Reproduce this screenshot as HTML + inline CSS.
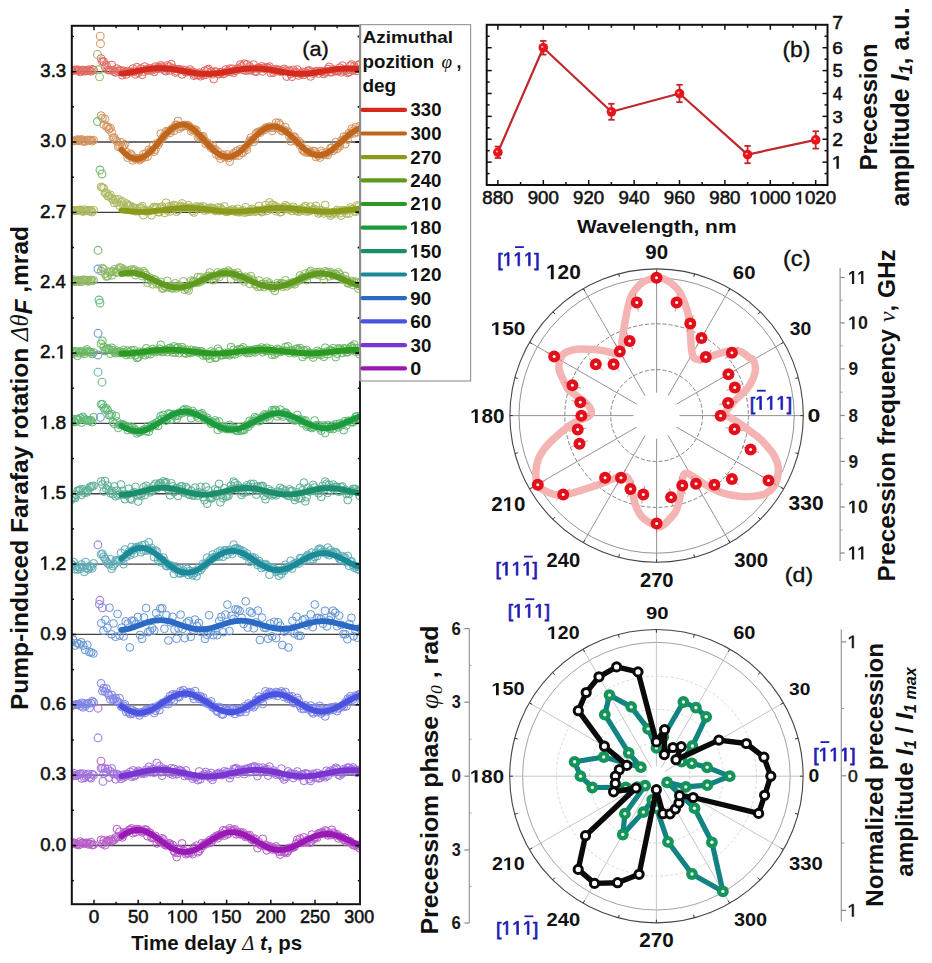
<!DOCTYPE html>
<html><head><meta charset="utf-8"><style>
html,body{margin:0;padding:0;background:#fff;}
svg{display:block;}
</style></head><body>
<svg width="932" height="963" viewBox="0 0 932 963">
<rect width="932" height="963" fill="#fff"/>
<clipPath id="clipA"><rect x="71.8" y="25.8" width="288.2" height="878.4000000000001"/></clipPath>
<g id="panelA">
<line x1="71.80" y1="845.50" x2="360.00" y2="845.50" stroke="#404040" stroke-width="1.3"/>
<line x1="71.80" y1="775.15" x2="360.00" y2="775.15" stroke="#404040" stroke-width="1.3"/>
<line x1="71.80" y1="704.80" x2="360.00" y2="704.80" stroke="#404040" stroke-width="1.3"/>
<line x1="71.80" y1="634.45" x2="360.00" y2="634.45" stroke="#404040" stroke-width="1.3"/>
<line x1="71.80" y1="564.10" x2="360.00" y2="564.10" stroke="#404040" stroke-width="1.3"/>
<line x1="71.80" y1="493.75" x2="360.00" y2="493.75" stroke="#404040" stroke-width="1.3"/>
<line x1="71.80" y1="423.40" x2="360.00" y2="423.40" stroke="#404040" stroke-width="1.3"/>
<line x1="71.80" y1="353.05" x2="360.00" y2="353.05" stroke="#404040" stroke-width="1.3"/>
<line x1="71.80" y1="282.70" x2="360.00" y2="282.70" stroke="#404040" stroke-width="1.3"/>
<line x1="71.80" y1="212.35" x2="360.00" y2="212.35" stroke="#404040" stroke-width="1.3"/>
<line x1="71.80" y1="142.00" x2="360.00" y2="142.00" stroke="#404040" stroke-width="1.3"/>
<line x1="71.80" y1="71.65" x2="360.00" y2="71.65" stroke="#404040" stroke-width="1.3"/>
<g clip-path="url(#clipA)">
<g fill="#e16a62" fill-opacity="0.07" stroke="#e16a62" stroke-width="1.0">
<circle cx="71.0" cy="70.7" r="3.9"/><circle cx="72.3" cy="70.9" r="3.9"/><circle cx="73.7" cy="70.4" r="3.9"/><circle cx="75.0" cy="69.8" r="3.9"/><circle cx="76.3" cy="70.2" r="3.9"/><circle cx="77.6" cy="69.7" r="3.9"/><circle cx="79.0" cy="70.7" r="3.9"/><circle cx="80.3" cy="72.0" r="3.9"/><circle cx="81.6" cy="70.2" r="3.9"/><circle cx="83.0" cy="70.0" r="3.9"/><circle cx="84.3" cy="71.1" r="3.9"/><circle cx="85.6" cy="71.0" r="3.9"/><circle cx="86.9" cy="70.8" r="3.9"/><circle cx="88.3" cy="69.7" r="3.9"/><circle cx="89.6" cy="70.6" r="3.9"/><circle cx="90.9" cy="71.3" r="3.9"/><circle cx="92.2" cy="69.3" r="3.9"/><circle cx="93.6" cy="70.2" r="3.9"/><circle cx="101.1" cy="58.5" r="3.9"/><circle cx="102.4" cy="61.6" r="3.9"/><circle cx="103.7" cy="61.6" r="3.9"/><circle cx="105.0" cy="66.7" r="3.9"/><circle cx="106.4" cy="65.2" r="3.9"/><circle cx="107.7" cy="69.8" r="3.9"/><circle cx="109.0" cy="70.2" r="3.9"/><circle cx="110.4" cy="70.1" r="3.9"/><circle cx="111.7" cy="65.0" r="3.9"/><circle cx="113.0" cy="70.2" r="3.9"/><circle cx="114.3" cy="71.7" r="3.9"/><circle cx="115.7" cy="72.4" r="3.9"/><circle cx="117.0" cy="68.6" r="3.9"/><circle cx="118.3" cy="71.3" r="3.9"/><circle cx="119.6" cy="70.2" r="3.9"/><circle cx="121.0" cy="70.7" r="3.9"/><circle cx="122.3" cy="75.2" r="3.9"/><circle cx="123.6" cy="70.7" r="3.9"/><circle cx="124.9" cy="72.4" r="3.9"/><circle cx="126.3" cy="74.5" r="3.9"/><circle cx="127.6" cy="70.9" r="3.9"/><circle cx="128.9" cy="71.9" r="3.9"/><circle cx="130.2" cy="72.2" r="3.9"/><circle cx="131.6" cy="71.9" r="3.9"/><circle cx="132.9" cy="68.6" r="3.9"/><circle cx="134.2" cy="71.5" r="3.9"/><circle cx="135.5" cy="74.4" r="3.9"/><circle cx="136.9" cy="67.2" r="3.9"/><circle cx="138.2" cy="72.7" r="3.9"/><circle cx="139.5" cy="70.7" r="3.9"/><circle cx="140.9" cy="68.6" r="3.9"/><circle cx="142.2" cy="74.7" r="3.9"/><circle cx="143.5" cy="71.5" r="3.9"/><circle cx="144.8" cy="66.6" r="3.9"/><circle cx="146.2" cy="69.4" r="3.9"/><circle cx="147.5" cy="70.5" r="3.9"/><circle cx="148.8" cy="68.4" r="3.9"/><circle cx="150.1" cy="70.4" r="3.9"/><circle cx="151.5" cy="68.4" r="3.9"/><circle cx="152.8" cy="70.0" r="3.9"/><circle cx="154.1" cy="71.8" r="3.9"/><circle cx="155.4" cy="66.6" r="3.9"/><circle cx="156.8" cy="68.7" r="3.9"/><circle cx="158.1" cy="67.0" r="3.9"/><circle cx="159.4" cy="68.4" r="3.9"/><circle cx="160.7" cy="65.3" r="3.9"/><circle cx="162.1" cy="66.7" r="3.9"/><circle cx="163.4" cy="67.7" r="3.9"/><circle cx="164.7" cy="70.4" r="3.9"/><circle cx="166.0" cy="71.1" r="3.9"/><circle cx="167.4" cy="65.3" r="3.9"/><circle cx="168.7" cy="66.7" r="3.9"/><circle cx="170.0" cy="70.3" r="3.9"/><circle cx="171.3" cy="64.1" r="3.9"/><circle cx="172.7" cy="68.0" r="3.9"/><circle cx="174.0" cy="69.0" r="3.9"/><circle cx="175.3" cy="72.5" r="3.9"/><circle cx="176.7" cy="71.4" r="3.9"/><circle cx="178.0" cy="69.2" r="3.9"/><circle cx="179.3" cy="69.3" r="3.9"/><circle cx="180.6" cy="69.9" r="3.9"/><circle cx="182.0" cy="74.4" r="3.9"/><circle cx="183.3" cy="69.9" r="3.9"/><circle cx="184.6" cy="70.5" r="3.9"/><circle cx="185.9" cy="72.3" r="3.9"/><circle cx="187.3" cy="71.4" r="3.9"/><circle cx="188.6" cy="71.5" r="3.9"/><circle cx="189.9" cy="69.5" r="3.9"/><circle cx="191.2" cy="72.4" r="3.9"/><circle cx="192.6" cy="71.6" r="3.9"/><circle cx="193.9" cy="75.7" r="3.9"/><circle cx="195.2" cy="74.6" r="3.9"/><circle cx="196.5" cy="73.2" r="3.9"/><circle cx="197.9" cy="75.0" r="3.9"/><circle cx="199.2" cy="72.7" r="3.9"/><circle cx="200.5" cy="76.2" r="3.9"/><circle cx="201.8" cy="73.7" r="3.9"/><circle cx="203.2" cy="75.2" r="3.9"/><circle cx="204.5" cy="70.8" r="3.9"/><circle cx="205.8" cy="74.7" r="3.9"/><circle cx="207.2" cy="69.9" r="3.9"/><circle cx="208.5" cy="69.0" r="3.9"/><circle cx="209.8" cy="73.1" r="3.9"/><circle cx="211.1" cy="71.6" r="3.9"/><circle cx="212.5" cy="74.1" r="3.9"/><circle cx="213.8" cy="79.0" r="3.9"/><circle cx="215.1" cy="71.5" r="3.9"/><circle cx="216.4" cy="71.9" r="3.9"/><circle cx="217.8" cy="73.7" r="3.9"/><circle cx="219.1" cy="74.2" r="3.9"/><circle cx="220.4" cy="72.4" r="3.9"/><circle cx="221.7" cy="72.1" r="3.9"/><circle cx="223.1" cy="74.1" r="3.9"/><circle cx="224.4" cy="73.4" r="3.9"/><circle cx="225.7" cy="69.5" r="3.9"/><circle cx="227.0" cy="71.5" r="3.9"/><circle cx="228.4" cy="71.6" r="3.9"/><circle cx="229.7" cy="68.7" r="3.9"/><circle cx="231.0" cy="71.6" r="3.9"/><circle cx="232.3" cy="68.7" r="3.9"/><circle cx="233.7" cy="72.8" r="3.9"/><circle cx="235.0" cy="70.7" r="3.9"/><circle cx="236.3" cy="70.2" r="3.9"/><circle cx="237.7" cy="68.3" r="3.9"/><circle cx="239.0" cy="69.3" r="3.9"/><circle cx="240.3" cy="64.6" r="3.9"/><circle cx="241.6" cy="66.4" r="3.9"/><circle cx="243.0" cy="69.9" r="3.9"/><circle cx="244.3" cy="63.7" r="3.9"/><circle cx="245.6" cy="70.7" r="3.9"/><circle cx="246.9" cy="64.4" r="3.9"/><circle cx="248.3" cy="70.3" r="3.9"/><circle cx="249.6" cy="66.4" r="3.9"/><circle cx="250.9" cy="70.2" r="3.9"/><circle cx="252.2" cy="68.6" r="3.9"/><circle cx="253.6" cy="64.6" r="3.9"/><circle cx="254.9" cy="71.3" r="3.9"/><circle cx="256.2" cy="71.8" r="3.9"/><circle cx="257.5" cy="68.2" r="3.9"/><circle cx="258.9" cy="67.8" r="3.9"/><circle cx="260.2" cy="68.1" r="3.9"/><circle cx="261.5" cy="66.3" r="3.9"/><circle cx="262.8" cy="71.4" r="3.9"/><circle cx="264.2" cy="67.6" r="3.9"/><circle cx="265.5" cy="68.9" r="3.9"/><circle cx="266.8" cy="67.3" r="3.9"/><circle cx="268.1" cy="67.9" r="3.9"/><circle cx="269.5" cy="66.6" r="3.9"/><circle cx="270.8" cy="72.9" r="3.9"/><circle cx="272.1" cy="69.7" r="3.9"/><circle cx="273.5" cy="72.6" r="3.9"/><circle cx="274.8" cy="70.6" r="3.9"/><circle cx="276.1" cy="69.1" r="3.9"/><circle cx="277.4" cy="70.3" r="3.9"/><circle cx="278.8" cy="69.9" r="3.9"/><circle cx="280.1" cy="71.6" r="3.9"/><circle cx="281.4" cy="70.9" r="3.9"/><circle cx="282.7" cy="71.3" r="3.9"/><circle cx="284.1" cy="68.9" r="3.9"/><circle cx="285.4" cy="70.5" r="3.9"/><circle cx="286.7" cy="76.6" r="3.9"/><circle cx="288.0" cy="71.2" r="3.9"/><circle cx="289.4" cy="70.5" r="3.9"/><circle cx="290.7" cy="74.0" r="3.9"/><circle cx="292.0" cy="76.7" r="3.9"/><circle cx="293.3" cy="69.9" r="3.9"/><circle cx="294.7" cy="73.0" r="3.9"/><circle cx="296.0" cy="72.1" r="3.9"/><circle cx="297.3" cy="69.5" r="3.9"/><circle cx="298.6" cy="75.5" r="3.9"/><circle cx="300.0" cy="73.7" r="3.9"/><circle cx="301.3" cy="73.9" r="3.9"/><circle cx="302.6" cy="71.9" r="3.9"/><circle cx="303.9" cy="74.8" r="3.9"/><circle cx="305.3" cy="72.3" r="3.9"/><circle cx="306.6" cy="73.2" r="3.9"/><circle cx="307.9" cy="70.8" r="3.9"/><circle cx="309.3" cy="70.4" r="3.9"/><circle cx="310.6" cy="76.4" r="3.9"/><circle cx="311.9" cy="71.8" r="3.9"/><circle cx="313.2" cy="73.6" r="3.9"/><circle cx="314.6" cy="72.6" r="3.9"/><circle cx="315.9" cy="71.4" r="3.9"/><circle cx="317.2" cy="71.1" r="3.9"/><circle cx="318.5" cy="73.6" r="3.9"/><circle cx="319.9" cy="71.1" r="3.9"/><circle cx="321.2" cy="71.2" r="3.9"/><circle cx="322.5" cy="71.4" r="3.9"/><circle cx="323.8" cy="74.0" r="3.9"/><circle cx="325.2" cy="72.5" r="3.9"/><circle cx="326.5" cy="71.6" r="3.9"/><circle cx="327.8" cy="69.1" r="3.9"/><circle cx="329.1" cy="66.9" r="3.9"/><circle cx="330.5" cy="72.3" r="3.9"/><circle cx="331.8" cy="72.1" r="3.9"/><circle cx="333.1" cy="69.2" r="3.9"/><circle cx="334.4" cy="70.7" r="3.9"/><circle cx="335.8" cy="71.1" r="3.9"/><circle cx="337.1" cy="71.0" r="3.9"/><circle cx="338.4" cy="71.1" r="3.9"/><circle cx="339.8" cy="67.7" r="3.9"/><circle cx="341.1" cy="72.3" r="3.9"/><circle cx="342.4" cy="65.6" r="3.9"/><circle cx="343.7" cy="70.6" r="3.9"/><circle cx="345.1" cy="69.6" r="3.9"/><circle cx="346.4" cy="70.5" r="3.9"/><circle cx="347.7" cy="72.9" r="3.9"/><circle cx="349.0" cy="72.0" r="3.9"/><circle cx="350.4" cy="65.7" r="3.9"/><circle cx="351.7" cy="64.5" r="3.9"/><circle cx="353.0" cy="70.5" r="3.9"/><circle cx="354.3" cy="66.2" r="3.9"/><circle cx="355.7" cy="68.8" r="3.9"/><circle cx="357.0" cy="70.9" r="3.9"/><circle cx="358.3" cy="65.1" r="3.9"/><circle cx="359.6" cy="64.2" r="3.9"/>
</g>
<g fill="#d39460" fill-opacity="0.07" stroke="#d39460" stroke-width="1.0">
<circle cx="71.0" cy="141.3" r="3.9"/><circle cx="72.3" cy="141.0" r="3.9"/><circle cx="73.7" cy="140.8" r="3.9"/><circle cx="75.0" cy="141.0" r="3.9"/><circle cx="76.3" cy="140.1" r="3.9"/><circle cx="77.6" cy="139.5" r="3.9"/><circle cx="79.0" cy="140.8" r="3.9"/><circle cx="80.3" cy="140.0" r="3.9"/><circle cx="81.6" cy="139.4" r="3.9"/><circle cx="83.0" cy="141.5" r="3.9"/><circle cx="84.3" cy="140.9" r="3.9"/><circle cx="85.6" cy="141.4" r="3.9"/><circle cx="86.9" cy="140.0" r="3.9"/><circle cx="88.3" cy="140.3" r="3.9"/><circle cx="89.6" cy="140.0" r="3.9"/><circle cx="90.9" cy="140.1" r="3.9"/><circle cx="92.2" cy="141.2" r="3.9"/><circle cx="93.6" cy="140.2" r="3.9"/><circle cx="101.1" cy="115.6" r="3.9"/><circle cx="102.4" cy="118.1" r="3.9"/><circle cx="103.7" cy="124.6" r="3.9"/><circle cx="105.0" cy="118.9" r="3.9"/><circle cx="106.4" cy="126.7" r="3.9"/><circle cx="107.7" cy="126.7" r="3.9"/><circle cx="109.0" cy="129.2" r="3.9"/><circle cx="110.4" cy="128.0" r="3.9"/><circle cx="111.7" cy="132.6" r="3.9"/><circle cx="113.0" cy="137.7" r="3.9"/><circle cx="114.3" cy="137.8" r="3.9"/><circle cx="115.7" cy="140.3" r="3.9"/><circle cx="117.0" cy="141.4" r="3.9"/><circle cx="118.3" cy="146.8" r="3.9"/><circle cx="119.6" cy="145.8" r="3.9"/><circle cx="121.0" cy="142.3" r="3.9"/><circle cx="122.3" cy="147.5" r="3.9"/><circle cx="123.6" cy="146.0" r="3.9"/><circle cx="124.9" cy="144.3" r="3.9"/><circle cx="126.3" cy="152.1" r="3.9"/><circle cx="127.6" cy="157.7" r="3.9"/><circle cx="128.9" cy="155.6" r="3.9"/><circle cx="130.2" cy="153.6" r="3.9"/><circle cx="131.6" cy="154.8" r="3.9"/><circle cx="132.9" cy="160.4" r="3.9"/><circle cx="134.2" cy="158.4" r="3.9"/><circle cx="135.5" cy="158.4" r="3.9"/><circle cx="136.9" cy="158.3" r="3.9"/><circle cx="138.2" cy="158.5" r="3.9"/><circle cx="139.5" cy="160.1" r="3.9"/><circle cx="140.9" cy="159.1" r="3.9"/><circle cx="142.2" cy="157.8" r="3.9"/><circle cx="143.5" cy="154.2" r="3.9"/><circle cx="144.8" cy="157.1" r="3.9"/><circle cx="146.2" cy="153.4" r="3.9"/><circle cx="147.5" cy="156.6" r="3.9"/><circle cx="148.8" cy="149.8" r="3.9"/><circle cx="150.1" cy="151.3" r="3.9"/><circle cx="151.5" cy="150.3" r="3.9"/><circle cx="152.8" cy="145.8" r="3.9"/><circle cx="154.1" cy="151.7" r="3.9"/><circle cx="155.4" cy="149.6" r="3.9"/><circle cx="156.8" cy="143.4" r="3.9"/><circle cx="158.1" cy="144.8" r="3.9"/><circle cx="159.4" cy="142.3" r="3.9"/><circle cx="160.7" cy="133.6" r="3.9"/><circle cx="162.1" cy="138.9" r="3.9"/><circle cx="163.4" cy="136.6" r="3.9"/><circle cx="164.7" cy="135.5" r="3.9"/><circle cx="166.0" cy="131.3" r="3.9"/><circle cx="167.4" cy="131.9" r="3.9"/><circle cx="168.7" cy="130.8" r="3.9"/><circle cx="170.0" cy="132.9" r="3.9"/><circle cx="171.3" cy="129.8" r="3.9"/><circle cx="172.7" cy="128.0" r="3.9"/><circle cx="174.0" cy="130.8" r="3.9"/><circle cx="175.3" cy="125.0" r="3.9"/><circle cx="176.7" cy="124.8" r="3.9"/><circle cx="178.0" cy="120.9" r="3.9"/><circle cx="179.3" cy="128.6" r="3.9"/><circle cx="180.6" cy="126.9" r="3.9"/><circle cx="182.0" cy="126.7" r="3.9"/><circle cx="183.3" cy="126.2" r="3.9"/><circle cx="184.6" cy="125.0" r="3.9"/><circle cx="185.9" cy="125.6" r="3.9"/><circle cx="187.3" cy="125.0" r="3.9"/><circle cx="188.6" cy="125.7" r="3.9"/><circle cx="189.9" cy="127.0" r="3.9"/><circle cx="191.2" cy="131.3" r="3.9"/><circle cx="192.6" cy="130.0" r="3.9"/><circle cx="193.9" cy="129.5" r="3.9"/><circle cx="195.2" cy="129.4" r="3.9"/><circle cx="196.5" cy="130.5" r="3.9"/><circle cx="197.9" cy="137.2" r="3.9"/><circle cx="199.2" cy="135.9" r="3.9"/><circle cx="200.5" cy="136.2" r="3.9"/><circle cx="201.8" cy="136.7" r="3.9"/><circle cx="203.2" cy="136.3" r="3.9"/><circle cx="204.5" cy="140.3" r="3.9"/><circle cx="205.8" cy="144.0" r="3.9"/><circle cx="207.2" cy="142.5" r="3.9"/><circle cx="208.5" cy="144.3" r="3.9"/><circle cx="209.8" cy="145.7" r="3.9"/><circle cx="211.1" cy="147.9" r="3.9"/><circle cx="212.5" cy="145.1" r="3.9"/><circle cx="213.8" cy="149.6" r="3.9"/><circle cx="215.1" cy="149.3" r="3.9"/><circle cx="216.4" cy="154.5" r="3.9"/><circle cx="217.8" cy="151.5" r="3.9"/><circle cx="219.1" cy="155.6" r="3.9"/><circle cx="220.4" cy="158.6" r="3.9"/><circle cx="221.7" cy="154.9" r="3.9"/><circle cx="223.1" cy="154.7" r="3.9"/><circle cx="224.4" cy="157.0" r="3.9"/><circle cx="225.7" cy="156.8" r="3.9"/><circle cx="227.0" cy="154.5" r="3.9"/><circle cx="228.4" cy="158.0" r="3.9"/><circle cx="229.7" cy="161.6" r="3.9"/><circle cx="231.0" cy="155.9" r="3.9"/><circle cx="232.3" cy="155.6" r="3.9"/><circle cx="233.7" cy="153.1" r="3.9"/><circle cx="235.0" cy="155.7" r="3.9"/><circle cx="236.3" cy="151.2" r="3.9"/><circle cx="237.7" cy="150.7" r="3.9"/><circle cx="239.0" cy="155.5" r="3.9"/><circle cx="240.3" cy="149.2" r="3.9"/><circle cx="241.6" cy="152.8" r="3.9"/><circle cx="243.0" cy="152.7" r="3.9"/><circle cx="244.3" cy="148.4" r="3.9"/><circle cx="245.6" cy="147.8" r="3.9"/><circle cx="246.9" cy="149.8" r="3.9"/><circle cx="248.3" cy="143.3" r="3.9"/><circle cx="249.6" cy="140.9" r="3.9"/><circle cx="250.9" cy="137.7" r="3.9"/><circle cx="252.2" cy="139.7" r="3.9"/><circle cx="253.6" cy="141.8" r="3.9"/><circle cx="254.9" cy="139.2" r="3.9"/><circle cx="256.2" cy="133.3" r="3.9"/><circle cx="257.5" cy="132.2" r="3.9"/><circle cx="258.9" cy="131.9" r="3.9"/><circle cx="260.2" cy="132.7" r="3.9"/><circle cx="261.5" cy="130.5" r="3.9"/><circle cx="262.8" cy="130.5" r="3.9"/><circle cx="264.2" cy="129.9" r="3.9"/><circle cx="265.5" cy="127.7" r="3.9"/><circle cx="266.8" cy="127.7" r="3.9"/><circle cx="268.1" cy="127.7" r="3.9"/><circle cx="269.5" cy="126.6" r="3.9"/><circle cx="270.8" cy="127.8" r="3.9"/><circle cx="272.1" cy="130.9" r="3.9"/><circle cx="273.5" cy="127.8" r="3.9"/><circle cx="274.8" cy="126.6" r="3.9"/><circle cx="276.1" cy="122.6" r="3.9"/><circle cx="277.4" cy="127.9" r="3.9"/><circle cx="278.8" cy="122.8" r="3.9"/><circle cx="280.1" cy="124.6" r="3.9"/><circle cx="281.4" cy="130.7" r="3.9"/><circle cx="282.7" cy="131.1" r="3.9"/><circle cx="284.1" cy="129.9" r="3.9"/><circle cx="285.4" cy="127.2" r="3.9"/><circle cx="286.7" cy="131.4" r="3.9"/><circle cx="288.0" cy="131.8" r="3.9"/><circle cx="289.4" cy="136.1" r="3.9"/><circle cx="290.7" cy="141.2" r="3.9"/><circle cx="292.0" cy="137.6" r="3.9"/><circle cx="293.3" cy="136.5" r="3.9"/><circle cx="294.7" cy="136.8" r="3.9"/><circle cx="296.0" cy="140.8" r="3.9"/><circle cx="297.3" cy="141.9" r="3.9"/><circle cx="298.6" cy="140.8" r="3.9"/><circle cx="300.0" cy="145.2" r="3.9"/><circle cx="301.3" cy="143.4" r="3.9"/><circle cx="302.6" cy="150.0" r="3.9"/><circle cx="303.9" cy="151.0" r="3.9"/><circle cx="305.3" cy="152.2" r="3.9"/><circle cx="306.6" cy="149.4" r="3.9"/><circle cx="307.9" cy="152.7" r="3.9"/><circle cx="309.3" cy="152.0" r="3.9"/><circle cx="310.6" cy="152.1" r="3.9"/><circle cx="311.9" cy="152.9" r="3.9"/><circle cx="313.2" cy="151.1" r="3.9"/><circle cx="314.6" cy="151.2" r="3.9"/><circle cx="315.9" cy="156.9" r="3.9"/><circle cx="317.2" cy="154.7" r="3.9"/><circle cx="318.5" cy="155.7" r="3.9"/><circle cx="319.9" cy="157.6" r="3.9"/><circle cx="321.2" cy="150.9" r="3.9"/><circle cx="322.5" cy="152.9" r="3.9"/><circle cx="323.8" cy="154.8" r="3.9"/><circle cx="325.2" cy="154.8" r="3.9"/><circle cx="326.5" cy="152.4" r="3.9"/><circle cx="327.8" cy="155.0" r="3.9"/><circle cx="329.1" cy="152.3" r="3.9"/><circle cx="330.5" cy="148.0" r="3.9"/><circle cx="331.8" cy="147.7" r="3.9"/><circle cx="333.1" cy="150.9" r="3.9"/><circle cx="334.4" cy="148.9" r="3.9"/><circle cx="335.8" cy="142.1" r="3.9"/><circle cx="337.1" cy="148.8" r="3.9"/><circle cx="338.4" cy="145.7" r="3.9"/><circle cx="339.8" cy="146.3" r="3.9"/><circle cx="341.1" cy="140.9" r="3.9"/><circle cx="342.4" cy="139.9" r="3.9"/><circle cx="343.7" cy="136.6" r="3.9"/><circle cx="345.1" cy="144.2" r="3.9"/><circle cx="346.4" cy="136.5" r="3.9"/><circle cx="347.7" cy="139.6" r="3.9"/><circle cx="349.0" cy="133.1" r="3.9"/><circle cx="350.4" cy="134.0" r="3.9"/><circle cx="351.7" cy="128.7" r="3.9"/><circle cx="353.0" cy="130.9" r="3.9"/><circle cx="354.3" cy="133.3" r="3.9"/><circle cx="355.7" cy="127.2" r="3.9"/><circle cx="357.0" cy="132.2" r="3.9"/><circle cx="358.3" cy="129.9" r="3.9"/><circle cx="359.6" cy="126.1" r="3.9"/>
</g>
<g fill="#aeb860" fill-opacity="0.07" stroke="#aeb860" stroke-width="1.0">
<circle cx="71.0" cy="210.4" r="3.9"/><circle cx="72.3" cy="210.5" r="3.9"/><circle cx="73.7" cy="210.8" r="3.9"/><circle cx="75.0" cy="210.4" r="3.9"/><circle cx="76.3" cy="210.2" r="3.9"/><circle cx="77.6" cy="210.6" r="3.9"/><circle cx="79.0" cy="210.0" r="3.9"/><circle cx="80.3" cy="209.8" r="3.9"/><circle cx="81.6" cy="210.8" r="3.9"/><circle cx="83.0" cy="211.6" r="3.9"/><circle cx="84.3" cy="209.6" r="3.9"/><circle cx="85.6" cy="210.9" r="3.9"/><circle cx="86.9" cy="210.3" r="3.9"/><circle cx="88.3" cy="210.1" r="3.9"/><circle cx="89.6" cy="211.5" r="3.9"/><circle cx="90.9" cy="210.4" r="3.9"/><circle cx="92.2" cy="212.0" r="3.9"/><circle cx="93.6" cy="210.2" r="3.9"/><circle cx="101.1" cy="186.9" r="3.9"/><circle cx="102.4" cy="187.5" r="3.9"/><circle cx="103.7" cy="188.1" r="3.9"/><circle cx="105.0" cy="193.1" r="3.9"/><circle cx="106.4" cy="192.9" r="3.9"/><circle cx="107.7" cy="196.2" r="3.9"/><circle cx="109.0" cy="196.0" r="3.9"/><circle cx="110.4" cy="194.8" r="3.9"/><circle cx="111.7" cy="198.4" r="3.9"/><circle cx="113.0" cy="199.8" r="3.9"/><circle cx="114.3" cy="203.0" r="3.9"/><circle cx="115.7" cy="199.5" r="3.9"/><circle cx="117.0" cy="202.5" r="3.9"/><circle cx="118.3" cy="199.2" r="3.9"/><circle cx="119.6" cy="205.7" r="3.9"/><circle cx="121.0" cy="202.2" r="3.9"/><circle cx="122.3" cy="201.2" r="3.9"/><circle cx="123.6" cy="206.0" r="3.9"/><circle cx="124.9" cy="209.3" r="3.9"/><circle cx="126.3" cy="203.5" r="3.9"/><circle cx="127.6" cy="205.1" r="3.9"/><circle cx="128.9" cy="206.3" r="3.9"/><circle cx="130.2" cy="205.8" r="3.9"/><circle cx="131.6" cy="209.8" r="3.9"/><circle cx="132.9" cy="207.3" r="3.9"/><circle cx="134.2" cy="207.8" r="3.9"/><circle cx="135.5" cy="211.2" r="3.9"/><circle cx="136.9" cy="208.2" r="3.9"/><circle cx="138.2" cy="211.2" r="3.9"/><circle cx="139.5" cy="208.0" r="3.9"/><circle cx="140.9" cy="207.6" r="3.9"/><circle cx="142.2" cy="206.2" r="3.9"/><circle cx="143.5" cy="215.2" r="3.9"/><circle cx="144.8" cy="210.0" r="3.9"/><circle cx="146.2" cy="211.4" r="3.9"/><circle cx="147.5" cy="210.7" r="3.9"/><circle cx="148.8" cy="211.2" r="3.9"/><circle cx="150.1" cy="210.9" r="3.9"/><circle cx="151.5" cy="215.3" r="3.9"/><circle cx="152.8" cy="208.2" r="3.9"/><circle cx="154.1" cy="206.9" r="3.9"/><circle cx="155.4" cy="208.1" r="3.9"/><circle cx="156.8" cy="207.2" r="3.9"/><circle cx="158.1" cy="212.1" r="3.9"/><circle cx="159.4" cy="212.1" r="3.9"/><circle cx="160.7" cy="207.7" r="3.9"/><circle cx="162.1" cy="206.5" r="3.9"/><circle cx="163.4" cy="208.9" r="3.9"/><circle cx="164.7" cy="212.9" r="3.9"/><circle cx="166.0" cy="202.7" r="3.9"/><circle cx="167.4" cy="210.5" r="3.9"/><circle cx="168.7" cy="206.5" r="3.9"/><circle cx="170.0" cy="211.5" r="3.9"/><circle cx="171.3" cy="206.2" r="3.9"/><circle cx="172.7" cy="208.0" r="3.9"/><circle cx="174.0" cy="204.9" r="3.9"/><circle cx="175.3" cy="206.1" r="3.9"/><circle cx="176.7" cy="211.7" r="3.9"/><circle cx="178.0" cy="210.2" r="3.9"/><circle cx="179.3" cy="207.2" r="3.9"/><circle cx="180.6" cy="206.0" r="3.9"/><circle cx="182.0" cy="203.4" r="3.9"/><circle cx="183.3" cy="207.0" r="3.9"/><circle cx="184.6" cy="207.8" r="3.9"/><circle cx="185.9" cy="207.7" r="3.9"/><circle cx="187.3" cy="207.7" r="3.9"/><circle cx="188.6" cy="205.2" r="3.9"/><circle cx="189.9" cy="207.7" r="3.9"/><circle cx="191.2" cy="207.9" r="3.9"/><circle cx="192.6" cy="211.1" r="3.9"/><circle cx="193.9" cy="212.5" r="3.9"/><circle cx="195.2" cy="207.8" r="3.9"/><circle cx="196.5" cy="206.4" r="3.9"/><circle cx="197.9" cy="208.2" r="3.9"/><circle cx="199.2" cy="207.0" r="3.9"/><circle cx="200.5" cy="206.8" r="3.9"/><circle cx="201.8" cy="208.6" r="3.9"/><circle cx="203.2" cy="206.4" r="3.9"/><circle cx="204.5" cy="210.5" r="3.9"/><circle cx="205.8" cy="208.9" r="3.9"/><circle cx="207.2" cy="210.0" r="3.9"/><circle cx="208.5" cy="209.1" r="3.9"/><circle cx="209.8" cy="208.0" r="3.9"/><circle cx="211.1" cy="207.6" r="3.9"/><circle cx="212.5" cy="209.5" r="3.9"/><circle cx="213.8" cy="208.9" r="3.9"/><circle cx="215.1" cy="210.9" r="3.9"/><circle cx="216.4" cy="210.5" r="3.9"/><circle cx="217.8" cy="207.4" r="3.9"/><circle cx="219.1" cy="211.0" r="3.9"/><circle cx="220.4" cy="207.8" r="3.9"/><circle cx="221.7" cy="209.6" r="3.9"/><circle cx="223.1" cy="210.5" r="3.9"/><circle cx="224.4" cy="206.4" r="3.9"/><circle cx="225.7" cy="211.7" r="3.9"/><circle cx="227.0" cy="211.9" r="3.9"/><circle cx="228.4" cy="211.2" r="3.9"/><circle cx="229.7" cy="210.6" r="3.9"/><circle cx="231.0" cy="210.8" r="3.9"/><circle cx="232.3" cy="209.4" r="3.9"/><circle cx="233.7" cy="211.1" r="3.9"/><circle cx="235.0" cy="210.4" r="3.9"/><circle cx="236.3" cy="211.9" r="3.9"/><circle cx="237.7" cy="208.8" r="3.9"/><circle cx="239.0" cy="212.2" r="3.9"/><circle cx="240.3" cy="211.9" r="3.9"/><circle cx="241.6" cy="211.1" r="3.9"/><circle cx="243.0" cy="210.3" r="3.9"/><circle cx="244.3" cy="212.6" r="3.9"/><circle cx="245.6" cy="207.2" r="3.9"/><circle cx="246.9" cy="212.2" r="3.9"/><circle cx="248.3" cy="211.5" r="3.9"/><circle cx="249.6" cy="211.5" r="3.9"/><circle cx="250.9" cy="211.6" r="3.9"/><circle cx="252.2" cy="208.9" r="3.9"/><circle cx="253.6" cy="209.7" r="3.9"/><circle cx="254.9" cy="211.7" r="3.9"/><circle cx="256.2" cy="211.0" r="3.9"/><circle cx="257.5" cy="210.3" r="3.9"/><circle cx="258.9" cy="206.0" r="3.9"/><circle cx="260.2" cy="210.8" r="3.9"/><circle cx="261.5" cy="212.1" r="3.9"/><circle cx="262.8" cy="211.6" r="3.9"/><circle cx="264.2" cy="209.6" r="3.9"/><circle cx="265.5" cy="205.1" r="3.9"/><circle cx="266.8" cy="211.0" r="3.9"/><circle cx="268.1" cy="208.3" r="3.9"/><circle cx="269.5" cy="202.4" r="3.9"/><circle cx="270.8" cy="209.3" r="3.9"/><circle cx="272.1" cy="204.7" r="3.9"/><circle cx="273.5" cy="205.1" r="3.9"/><circle cx="274.8" cy="206.6" r="3.9"/><circle cx="276.1" cy="211.2" r="3.9"/><circle cx="277.4" cy="207.2" r="3.9"/><circle cx="278.8" cy="208.7" r="3.9"/><circle cx="280.1" cy="212.2" r="3.9"/><circle cx="281.4" cy="211.9" r="3.9"/><circle cx="282.7" cy="207.8" r="3.9"/><circle cx="284.1" cy="207.5" r="3.9"/><circle cx="285.4" cy="205.1" r="3.9"/><circle cx="286.7" cy="206.5" r="3.9"/><circle cx="288.0" cy="209.3" r="3.9"/><circle cx="289.4" cy="209.3" r="3.9"/><circle cx="290.7" cy="208.7" r="3.9"/><circle cx="292.0" cy="210.9" r="3.9"/><circle cx="293.3" cy="206.8" r="3.9"/><circle cx="294.7" cy="208.7" r="3.9"/><circle cx="296.0" cy="210.7" r="3.9"/><circle cx="297.3" cy="210.5" r="3.9"/><circle cx="298.6" cy="211.8" r="3.9"/><circle cx="300.0" cy="210.3" r="3.9"/><circle cx="301.3" cy="208.8" r="3.9"/><circle cx="302.6" cy="210.6" r="3.9"/><circle cx="303.9" cy="207.5" r="3.9"/><circle cx="305.3" cy="206.1" r="3.9"/><circle cx="306.6" cy="211.6" r="3.9"/><circle cx="307.9" cy="210.2" r="3.9"/><circle cx="309.3" cy="211.2" r="3.9"/><circle cx="310.6" cy="206.6" r="3.9"/><circle cx="311.9" cy="209.9" r="3.9"/><circle cx="313.2" cy="209.5" r="3.9"/><circle cx="314.6" cy="209.0" r="3.9"/><circle cx="315.9" cy="205.8" r="3.9"/><circle cx="317.2" cy="210.5" r="3.9"/><circle cx="318.5" cy="213.5" r="3.9"/><circle cx="319.9" cy="212.4" r="3.9"/><circle cx="321.2" cy="210.1" r="3.9"/><circle cx="322.5" cy="211.5" r="3.9"/><circle cx="323.8" cy="213.4" r="3.9"/><circle cx="325.2" cy="205.0" r="3.9"/><circle cx="326.5" cy="211.3" r="3.9"/><circle cx="327.8" cy="212.9" r="3.9"/><circle cx="329.1" cy="213.2" r="3.9"/><circle cx="330.5" cy="215.7" r="3.9"/><circle cx="331.8" cy="214.3" r="3.9"/><circle cx="333.1" cy="212.2" r="3.9"/><circle cx="334.4" cy="212.1" r="3.9"/><circle cx="335.8" cy="213.2" r="3.9"/><circle cx="337.1" cy="209.9" r="3.9"/><circle cx="338.4" cy="211.0" r="3.9"/><circle cx="339.8" cy="213.2" r="3.9"/><circle cx="341.1" cy="215.6" r="3.9"/><circle cx="342.4" cy="210.3" r="3.9"/><circle cx="343.7" cy="210.5" r="3.9"/><circle cx="345.1" cy="210.9" r="3.9"/><circle cx="346.4" cy="213.5" r="3.9"/><circle cx="347.7" cy="210.1" r="3.9"/><circle cx="349.0" cy="213.5" r="3.9"/><circle cx="350.4" cy="207.5" r="3.9"/><circle cx="351.7" cy="209.2" r="3.9"/><circle cx="353.0" cy="209.0" r="3.9"/><circle cx="354.3" cy="211.2" r="3.9"/><circle cx="355.7" cy="211.7" r="3.9"/><circle cx="357.0" cy="205.4" r="3.9"/><circle cx="358.3" cy="206.7" r="3.9"/><circle cx="359.6" cy="209.6" r="3.9"/>
</g>
<g fill="#8eb862" fill-opacity="0.07" stroke="#8eb862" stroke-width="1.0">
<circle cx="71.0" cy="280.0" r="3.9"/><circle cx="72.3" cy="279.2" r="3.9"/><circle cx="73.7" cy="281.7" r="3.9"/><circle cx="75.0" cy="281.2" r="3.9"/><circle cx="76.3" cy="281.2" r="3.9"/><circle cx="77.6" cy="280.2" r="3.9"/><circle cx="79.0" cy="281.7" r="3.9"/><circle cx="80.3" cy="280.5" r="3.9"/><circle cx="81.6" cy="281.8" r="3.9"/><circle cx="83.0" cy="279.8" r="3.9"/><circle cx="84.3" cy="279.8" r="3.9"/><circle cx="85.6" cy="280.9" r="3.9"/><circle cx="86.9" cy="280.0" r="3.9"/><circle cx="88.3" cy="281.4" r="3.9"/><circle cx="89.6" cy="281.0" r="3.9"/><circle cx="90.9" cy="279.8" r="3.9"/><circle cx="92.2" cy="280.8" r="3.9"/><circle cx="93.6" cy="280.3" r="3.9"/><circle cx="101.1" cy="271.0" r="3.9"/><circle cx="102.4" cy="268.1" r="3.9"/><circle cx="103.7" cy="269.2" r="3.9"/><circle cx="105.0" cy="273.6" r="3.9"/><circle cx="106.4" cy="276.5" r="3.9"/><circle cx="107.7" cy="276.1" r="3.9"/><circle cx="109.0" cy="271.7" r="3.9"/><circle cx="110.4" cy="272.2" r="3.9"/><circle cx="111.7" cy="275.4" r="3.9"/><circle cx="113.0" cy="271.4" r="3.9"/><circle cx="114.3" cy="269.3" r="3.9"/><circle cx="115.7" cy="271.9" r="3.9"/><circle cx="117.0" cy="272.6" r="3.9"/><circle cx="118.3" cy="269.4" r="3.9"/><circle cx="119.6" cy="267.4" r="3.9"/><circle cx="121.0" cy="267.8" r="3.9"/><circle cx="122.3" cy="272.8" r="3.9"/><circle cx="123.6" cy="269.3" r="3.9"/><circle cx="124.9" cy="270.8" r="3.9"/><circle cx="126.3" cy="271.7" r="3.9"/><circle cx="127.6" cy="272.7" r="3.9"/><circle cx="128.9" cy="270.5" r="3.9"/><circle cx="130.2" cy="272.6" r="3.9"/><circle cx="131.6" cy="269.4" r="3.9"/><circle cx="132.9" cy="270.9" r="3.9"/><circle cx="134.2" cy="269.6" r="3.9"/><circle cx="135.5" cy="275.1" r="3.9"/><circle cx="136.9" cy="272.6" r="3.9"/><circle cx="138.2" cy="271.3" r="3.9"/><circle cx="139.5" cy="272.7" r="3.9"/><circle cx="140.9" cy="273.4" r="3.9"/><circle cx="142.2" cy="276.1" r="3.9"/><circle cx="143.5" cy="271.2" r="3.9"/><circle cx="144.8" cy="273.1" r="3.9"/><circle cx="146.2" cy="275.2" r="3.9"/><circle cx="147.5" cy="282.8" r="3.9"/><circle cx="148.8" cy="279.7" r="3.9"/><circle cx="150.1" cy="277.8" r="3.9"/><circle cx="151.5" cy="280.4" r="3.9"/><circle cx="152.8" cy="284.3" r="3.9"/><circle cx="154.1" cy="279.4" r="3.9"/><circle cx="155.4" cy="279.8" r="3.9"/><circle cx="156.8" cy="284.2" r="3.9"/><circle cx="158.1" cy="283.1" r="3.9"/><circle cx="159.4" cy="284.2" r="3.9"/><circle cx="160.7" cy="282.0" r="3.9"/><circle cx="162.1" cy="288.4" r="3.9"/><circle cx="163.4" cy="288.4" r="3.9"/><circle cx="164.7" cy="286.2" r="3.9"/><circle cx="166.0" cy="286.9" r="3.9"/><circle cx="167.4" cy="280.9" r="3.9"/><circle cx="168.7" cy="287.6" r="3.9"/><circle cx="170.0" cy="286.0" r="3.9"/><circle cx="171.3" cy="287.8" r="3.9"/><circle cx="172.7" cy="288.6" r="3.9"/><circle cx="174.0" cy="286.4" r="3.9"/><circle cx="175.3" cy="283.3" r="3.9"/><circle cx="176.7" cy="288.3" r="3.9"/><circle cx="178.0" cy="285.7" r="3.9"/><circle cx="179.3" cy="286.6" r="3.9"/><circle cx="180.6" cy="285.9" r="3.9"/><circle cx="182.0" cy="286.4" r="3.9"/><circle cx="183.3" cy="281.4" r="3.9"/><circle cx="184.6" cy="289.7" r="3.9"/><circle cx="185.9" cy="287.1" r="3.9"/><circle cx="187.3" cy="288.8" r="3.9"/><circle cx="188.6" cy="290.5" r="3.9"/><circle cx="189.9" cy="285.3" r="3.9"/><circle cx="191.2" cy="280.5" r="3.9"/><circle cx="192.6" cy="282.2" r="3.9"/><circle cx="193.9" cy="280.9" r="3.9"/><circle cx="195.2" cy="282.0" r="3.9"/><circle cx="196.5" cy="282.8" r="3.9"/><circle cx="197.9" cy="277.2" r="3.9"/><circle cx="199.2" cy="282.3" r="3.9"/><circle cx="200.5" cy="277.2" r="3.9"/><circle cx="201.8" cy="280.9" r="3.9"/><circle cx="203.2" cy="279.3" r="3.9"/><circle cx="204.5" cy="278.2" r="3.9"/><circle cx="205.8" cy="278.2" r="3.9"/><circle cx="207.2" cy="276.5" r="3.9"/><circle cx="208.5" cy="275.7" r="3.9"/><circle cx="209.8" cy="272.6" r="3.9"/><circle cx="211.1" cy="276.0" r="3.9"/><circle cx="212.5" cy="280.1" r="3.9"/><circle cx="213.8" cy="279.9" r="3.9"/><circle cx="215.1" cy="277.9" r="3.9"/><circle cx="216.4" cy="276.1" r="3.9"/><circle cx="217.8" cy="272.4" r="3.9"/><circle cx="219.1" cy="277.2" r="3.9"/><circle cx="220.4" cy="273.4" r="3.9"/><circle cx="221.7" cy="273.2" r="3.9"/><circle cx="223.1" cy="272.5" r="3.9"/><circle cx="224.4" cy="273.4" r="3.9"/><circle cx="225.7" cy="272.1" r="3.9"/><circle cx="227.0" cy="273.0" r="3.9"/><circle cx="228.4" cy="270.6" r="3.9"/><circle cx="229.7" cy="272.5" r="3.9"/><circle cx="231.0" cy="279.1" r="3.9"/><circle cx="232.3" cy="273.7" r="3.9"/><circle cx="233.7" cy="273.5" r="3.9"/><circle cx="235.0" cy="275.7" r="3.9"/><circle cx="236.3" cy="276.5" r="3.9"/><circle cx="237.7" cy="272.6" r="3.9"/><circle cx="239.0" cy="275.2" r="3.9"/><circle cx="240.3" cy="278.4" r="3.9"/><circle cx="241.6" cy="277.3" r="3.9"/><circle cx="243.0" cy="277.5" r="3.9"/><circle cx="244.3" cy="281.5" r="3.9"/><circle cx="245.6" cy="276.8" r="3.9"/><circle cx="246.9" cy="279.2" r="3.9"/><circle cx="248.3" cy="278.3" r="3.9"/><circle cx="249.6" cy="283.8" r="3.9"/><circle cx="250.9" cy="276.1" r="3.9"/><circle cx="252.2" cy="279.8" r="3.9"/><circle cx="253.6" cy="280.7" r="3.9"/><circle cx="254.9" cy="284.2" r="3.9"/><circle cx="256.2" cy="284.6" r="3.9"/><circle cx="257.5" cy="287.0" r="3.9"/><circle cx="258.9" cy="280.4" r="3.9"/><circle cx="260.2" cy="286.5" r="3.9"/><circle cx="261.5" cy="284.4" r="3.9"/><circle cx="262.8" cy="283.9" r="3.9"/><circle cx="264.2" cy="287.2" r="3.9"/><circle cx="265.5" cy="284.0" r="3.9"/><circle cx="266.8" cy="281.5" r="3.9"/><circle cx="268.1" cy="285.8" r="3.9"/><circle cx="269.5" cy="283.3" r="3.9"/><circle cx="270.8" cy="285.4" r="3.9"/><circle cx="272.1" cy="287.9" r="3.9"/><circle cx="273.5" cy="287.8" r="3.9"/><circle cx="274.8" cy="290.9" r="3.9"/><circle cx="276.1" cy="286.5" r="3.9"/><circle cx="277.4" cy="283.1" r="3.9"/><circle cx="278.8" cy="284.8" r="3.9"/><circle cx="280.1" cy="284.2" r="3.9"/><circle cx="281.4" cy="283.2" r="3.9"/><circle cx="282.7" cy="286.8" r="3.9"/><circle cx="284.1" cy="283.9" r="3.9"/><circle cx="285.4" cy="280.3" r="3.9"/><circle cx="286.7" cy="286.3" r="3.9"/><circle cx="288.0" cy="283.8" r="3.9"/><circle cx="289.4" cy="284.5" r="3.9"/><circle cx="290.7" cy="283.3" r="3.9"/><circle cx="292.0" cy="284.0" r="3.9"/><circle cx="293.3" cy="282.1" r="3.9"/><circle cx="294.7" cy="284.3" r="3.9"/><circle cx="296.0" cy="281.8" r="3.9"/><circle cx="297.3" cy="281.1" r="3.9"/><circle cx="298.6" cy="280.6" r="3.9"/><circle cx="300.0" cy="275.5" r="3.9"/><circle cx="301.3" cy="278.1" r="3.9"/><circle cx="302.6" cy="277.3" r="3.9"/><circle cx="303.9" cy="277.8" r="3.9"/><circle cx="305.3" cy="273.6" r="3.9"/><circle cx="306.6" cy="280.2" r="3.9"/><circle cx="307.9" cy="276.1" r="3.9"/><circle cx="309.3" cy="272.5" r="3.9"/><circle cx="310.6" cy="270.9" r="3.9"/><circle cx="311.9" cy="274.0" r="3.9"/><circle cx="313.2" cy="274.2" r="3.9"/><circle cx="314.6" cy="272.4" r="3.9"/><circle cx="315.9" cy="274.1" r="3.9"/><circle cx="317.2" cy="272.2" r="3.9"/><circle cx="318.5" cy="274.9" r="3.9"/><circle cx="319.9" cy="271.8" r="3.9"/><circle cx="321.2" cy="273.4" r="3.9"/><circle cx="322.5" cy="275.9" r="3.9"/><circle cx="323.8" cy="279.8" r="3.9"/><circle cx="325.2" cy="271.3" r="3.9"/><circle cx="326.5" cy="272.8" r="3.9"/><circle cx="327.8" cy="272.1" r="3.9"/><circle cx="329.1" cy="276.3" r="3.9"/><circle cx="330.5" cy="272.0" r="3.9"/><circle cx="331.8" cy="273.9" r="3.9"/><circle cx="333.1" cy="275.4" r="3.9"/><circle cx="334.4" cy="273.6" r="3.9"/><circle cx="335.8" cy="274.1" r="3.9"/><circle cx="337.1" cy="275.7" r="3.9"/><circle cx="338.4" cy="272.4" r="3.9"/><circle cx="339.8" cy="274.5" r="3.9"/><circle cx="341.1" cy="277.5" r="3.9"/><circle cx="342.4" cy="279.4" r="3.9"/><circle cx="343.7" cy="279.2" r="3.9"/><circle cx="345.1" cy="275.9" r="3.9"/><circle cx="346.4" cy="279.7" r="3.9"/><circle cx="347.7" cy="283.3" r="3.9"/><circle cx="349.0" cy="283.2" r="3.9"/><circle cx="350.4" cy="282.3" r="3.9"/><circle cx="351.7" cy="280.9" r="3.9"/><circle cx="353.0" cy="285.0" r="3.9"/><circle cx="354.3" cy="282.6" r="3.9"/><circle cx="355.7" cy="281.6" r="3.9"/><circle cx="357.0" cy="282.9" r="3.9"/><circle cx="358.3" cy="288.7" r="3.9"/><circle cx="359.6" cy="286.1" r="3.9"/>
</g>
<g fill="#6ab864" fill-opacity="0.07" stroke="#6ab864" stroke-width="1.0">
<circle cx="71.0" cy="353.8" r="3.9"/><circle cx="72.3" cy="351.3" r="3.9"/><circle cx="73.7" cy="353.5" r="3.9"/><circle cx="75.0" cy="351.1" r="3.9"/><circle cx="76.3" cy="351.8" r="3.9"/><circle cx="77.6" cy="355.8" r="3.9"/><circle cx="79.0" cy="353.2" r="3.9"/><circle cx="80.3" cy="351.3" r="3.9"/><circle cx="81.6" cy="351.9" r="3.9"/><circle cx="83.0" cy="352.5" r="3.9"/><circle cx="84.3" cy="353.9" r="3.9"/><circle cx="85.6" cy="351.3" r="3.9"/><circle cx="86.9" cy="349.4" r="3.9"/><circle cx="88.3" cy="351.6" r="3.9"/><circle cx="89.6" cy="352.1" r="3.9"/><circle cx="90.9" cy="352.2" r="3.9"/><circle cx="92.2" cy="354.0" r="3.9"/><circle cx="93.6" cy="352.5" r="3.9"/><circle cx="101.1" cy="343.8" r="3.9"/><circle cx="102.4" cy="340.8" r="3.9"/><circle cx="103.7" cy="346.9" r="3.9"/><circle cx="105.0" cy="351.0" r="3.9"/><circle cx="106.4" cy="348.9" r="3.9"/><circle cx="107.7" cy="348.6" r="3.9"/><circle cx="109.0" cy="349.1" r="3.9"/><circle cx="110.4" cy="353.7" r="3.9"/><circle cx="111.7" cy="347.8" r="3.9"/><circle cx="113.0" cy="350.3" r="3.9"/><circle cx="114.3" cy="352.2" r="3.9"/><circle cx="115.7" cy="353.2" r="3.9"/><circle cx="117.0" cy="350.7" r="3.9"/><circle cx="118.3" cy="352.8" r="3.9"/><circle cx="119.6" cy="351.6" r="3.9"/><circle cx="121.0" cy="352.8" r="3.9"/><circle cx="122.3" cy="352.3" r="3.9"/><circle cx="123.6" cy="350.0" r="3.9"/><circle cx="124.9" cy="352.8" r="3.9"/><circle cx="126.3" cy="355.0" r="3.9"/><circle cx="127.6" cy="350.6" r="3.9"/><circle cx="128.9" cy="352.3" r="3.9"/><circle cx="130.2" cy="354.5" r="3.9"/><circle cx="131.6" cy="350.3" r="3.9"/><circle cx="132.9" cy="353.2" r="3.9"/><circle cx="134.2" cy="350.2" r="3.9"/><circle cx="135.5" cy="355.3" r="3.9"/><circle cx="136.9" cy="358.0" r="3.9"/><circle cx="138.2" cy="357.2" r="3.9"/><circle cx="139.5" cy="351.7" r="3.9"/><circle cx="140.9" cy="353.8" r="3.9"/><circle cx="142.2" cy="352.2" r="3.9"/><circle cx="143.5" cy="352.0" r="3.9"/><circle cx="144.8" cy="355.3" r="3.9"/><circle cx="146.2" cy="348.3" r="3.9"/><circle cx="147.5" cy="353.8" r="3.9"/><circle cx="148.8" cy="351.0" r="3.9"/><circle cx="150.1" cy="354.3" r="3.9"/><circle cx="151.5" cy="351.2" r="3.9"/><circle cx="152.8" cy="349.0" r="3.9"/><circle cx="154.1" cy="351.1" r="3.9"/><circle cx="155.4" cy="352.1" r="3.9"/><circle cx="156.8" cy="350.3" r="3.9"/><circle cx="158.1" cy="351.3" r="3.9"/><circle cx="159.4" cy="348.7" r="3.9"/><circle cx="160.7" cy="344.8" r="3.9"/><circle cx="162.1" cy="352.0" r="3.9"/><circle cx="163.4" cy="351.4" r="3.9"/><circle cx="164.7" cy="350.0" r="3.9"/><circle cx="166.0" cy="349.8" r="3.9"/><circle cx="167.4" cy="352.1" r="3.9"/><circle cx="168.7" cy="348.5" r="3.9"/><circle cx="170.0" cy="347.9" r="3.9"/><circle cx="171.3" cy="349.2" r="3.9"/><circle cx="172.7" cy="352.5" r="3.9"/><circle cx="174.0" cy="346.4" r="3.9"/><circle cx="175.3" cy="352.6" r="3.9"/><circle cx="176.7" cy="348.3" r="3.9"/><circle cx="178.0" cy="347.3" r="3.9"/><circle cx="179.3" cy="353.1" r="3.9"/><circle cx="180.6" cy="349.9" r="3.9"/><circle cx="182.0" cy="347.2" r="3.9"/><circle cx="183.3" cy="349.6" r="3.9"/><circle cx="184.6" cy="352.8" r="3.9"/><circle cx="185.9" cy="353.6" r="3.9"/><circle cx="187.3" cy="349.9" r="3.9"/><circle cx="188.6" cy="352.0" r="3.9"/><circle cx="189.9" cy="352.9" r="3.9"/><circle cx="191.2" cy="349.8" r="3.9"/><circle cx="192.6" cy="352.4" r="3.9"/><circle cx="193.9" cy="351.6" r="3.9"/><circle cx="195.2" cy="350.6" r="3.9"/><circle cx="196.5" cy="350.9" r="3.9"/><circle cx="197.9" cy="352.4" r="3.9"/><circle cx="199.2" cy="352.4" r="3.9"/><circle cx="200.5" cy="351.2" r="3.9"/><circle cx="201.8" cy="351.6" r="3.9"/><circle cx="203.2" cy="355.5" r="3.9"/><circle cx="204.5" cy="353.4" r="3.9"/><circle cx="205.8" cy="355.2" r="3.9"/><circle cx="207.2" cy="356.0" r="3.9"/><circle cx="208.5" cy="354.6" r="3.9"/><circle cx="209.8" cy="358.7" r="3.9"/><circle cx="211.1" cy="351.4" r="3.9"/><circle cx="212.5" cy="355.3" r="3.9"/><circle cx="213.8" cy="352.7" r="3.9"/><circle cx="215.1" cy="357.9" r="3.9"/><circle cx="216.4" cy="357.5" r="3.9"/><circle cx="217.8" cy="348.7" r="3.9"/><circle cx="219.1" cy="351.1" r="3.9"/><circle cx="220.4" cy="355.0" r="3.9"/><circle cx="221.7" cy="355.2" r="3.9"/><circle cx="223.1" cy="355.0" r="3.9"/><circle cx="224.4" cy="353.0" r="3.9"/><circle cx="225.7" cy="354.1" r="3.9"/><circle cx="227.0" cy="354.5" r="3.9"/><circle cx="228.4" cy="352.6" r="3.9"/><circle cx="229.7" cy="355.2" r="3.9"/><circle cx="231.0" cy="347.1" r="3.9"/><circle cx="232.3" cy="353.9" r="3.9"/><circle cx="233.7" cy="349.8" r="3.9"/><circle cx="235.0" cy="354.4" r="3.9"/><circle cx="236.3" cy="351.4" r="3.9"/><circle cx="237.7" cy="349.6" r="3.9"/><circle cx="239.0" cy="352.5" r="3.9"/><circle cx="240.3" cy="349.3" r="3.9"/><circle cx="241.6" cy="349.1" r="3.9"/><circle cx="243.0" cy="347.4" r="3.9"/><circle cx="244.3" cy="350.9" r="3.9"/><circle cx="245.6" cy="352.0" r="3.9"/><circle cx="246.9" cy="353.1" r="3.9"/><circle cx="248.3" cy="350.2" r="3.9"/><circle cx="249.6" cy="352.9" r="3.9"/><circle cx="250.9" cy="350.3" r="3.9"/><circle cx="252.2" cy="349.9" r="3.9"/><circle cx="253.6" cy="351.4" r="3.9"/><circle cx="254.9" cy="352.5" r="3.9"/><circle cx="256.2" cy="349.1" r="3.9"/><circle cx="257.5" cy="349.2" r="3.9"/><circle cx="258.9" cy="349.4" r="3.9"/><circle cx="260.2" cy="349.9" r="3.9"/><circle cx="261.5" cy="347.5" r="3.9"/><circle cx="262.8" cy="352.2" r="3.9"/><circle cx="264.2" cy="348.8" r="3.9"/><circle cx="265.5" cy="350.8" r="3.9"/><circle cx="266.8" cy="347.8" r="3.9"/><circle cx="268.1" cy="350.7" r="3.9"/><circle cx="269.5" cy="350.8" r="3.9"/><circle cx="270.8" cy="349.0" r="3.9"/><circle cx="272.1" cy="354.9" r="3.9"/><circle cx="273.5" cy="351.1" r="3.9"/><circle cx="274.8" cy="354.5" r="3.9"/><circle cx="276.1" cy="352.7" r="3.9"/><circle cx="277.4" cy="348.9" r="3.9"/><circle cx="278.8" cy="349.7" r="3.9"/><circle cx="280.1" cy="351.9" r="3.9"/><circle cx="281.4" cy="351.1" r="3.9"/><circle cx="282.7" cy="351.2" r="3.9"/><circle cx="284.1" cy="350.6" r="3.9"/><circle cx="285.4" cy="347.1" r="3.9"/><circle cx="286.7" cy="351.1" r="3.9"/><circle cx="288.0" cy="346.4" r="3.9"/><circle cx="289.4" cy="352.8" r="3.9"/><circle cx="290.7" cy="350.3" r="3.9"/><circle cx="292.0" cy="350.5" r="3.9"/><circle cx="293.3" cy="351.9" r="3.9"/><circle cx="294.7" cy="353.2" r="3.9"/><circle cx="296.0" cy="349.2" r="3.9"/><circle cx="297.3" cy="348.6" r="3.9"/><circle cx="298.6" cy="350.3" r="3.9"/><circle cx="300.0" cy="348.1" r="3.9"/><circle cx="301.3" cy="350.8" r="3.9"/><circle cx="302.6" cy="357.0" r="3.9"/><circle cx="303.9" cy="350.7" r="3.9"/><circle cx="305.3" cy="354.8" r="3.9"/><circle cx="306.6" cy="350.0" r="3.9"/><circle cx="307.9" cy="354.1" r="3.9"/><circle cx="309.3" cy="352.6" r="3.9"/><circle cx="310.6" cy="353.2" r="3.9"/><circle cx="311.9" cy="354.7" r="3.9"/><circle cx="313.2" cy="357.5" r="3.9"/><circle cx="314.6" cy="353.7" r="3.9"/><circle cx="315.9" cy="353.5" r="3.9"/><circle cx="317.2" cy="350.8" r="3.9"/><circle cx="318.5" cy="354.4" r="3.9"/><circle cx="319.9" cy="352.3" r="3.9"/><circle cx="321.2" cy="354.8" r="3.9"/><circle cx="322.5" cy="352.6" r="3.9"/><circle cx="323.8" cy="356.8" r="3.9"/><circle cx="325.2" cy="347.7" r="3.9"/><circle cx="326.5" cy="351.6" r="3.9"/><circle cx="327.8" cy="354.3" r="3.9"/><circle cx="329.1" cy="351.2" r="3.9"/><circle cx="330.5" cy="350.0" r="3.9"/><circle cx="331.8" cy="351.1" r="3.9"/><circle cx="333.1" cy="348.2" r="3.9"/><circle cx="334.4" cy="351.7" r="3.9"/><circle cx="335.8" cy="357.1" r="3.9"/><circle cx="337.1" cy="353.8" r="3.9"/><circle cx="338.4" cy="348.3" r="3.9"/><circle cx="339.8" cy="348.7" r="3.9"/><circle cx="341.1" cy="349.7" r="3.9"/><circle cx="342.4" cy="352.9" r="3.9"/><circle cx="343.7" cy="348.4" r="3.9"/><circle cx="345.1" cy="348.6" r="3.9"/><circle cx="346.4" cy="352.3" r="3.9"/><circle cx="347.7" cy="352.2" r="3.9"/><circle cx="349.0" cy="349.1" r="3.9"/><circle cx="350.4" cy="347.3" r="3.9"/><circle cx="351.7" cy="346.2" r="3.9"/><circle cx="353.0" cy="348.2" r="3.9"/><circle cx="354.3" cy="344.5" r="3.9"/><circle cx="355.7" cy="351.6" r="3.9"/><circle cx="357.0" cy="348.3" r="3.9"/><circle cx="358.3" cy="351.0" r="3.9"/><circle cx="359.6" cy="354.3" r="3.9"/>
</g>
<g fill="#60b876" fill-opacity="0.07" stroke="#60b876" stroke-width="1.0">
<circle cx="71.0" cy="422.2" r="3.9"/><circle cx="72.3" cy="418.7" r="3.9"/><circle cx="73.7" cy="421.7" r="3.9"/><circle cx="75.0" cy="422.1" r="3.9"/><circle cx="76.3" cy="419.3" r="3.9"/><circle cx="77.6" cy="419.0" r="3.9"/><circle cx="79.0" cy="420.2" r="3.9"/><circle cx="80.3" cy="418.0" r="3.9"/><circle cx="81.6" cy="422.6" r="3.9"/><circle cx="83.0" cy="416.8" r="3.9"/><circle cx="84.3" cy="418.7" r="3.9"/><circle cx="85.6" cy="420.0" r="3.9"/><circle cx="86.9" cy="420.1" r="3.9"/><circle cx="88.3" cy="420.6" r="3.9"/><circle cx="89.6" cy="420.8" r="3.9"/><circle cx="90.9" cy="420.1" r="3.9"/><circle cx="92.2" cy="422.1" r="3.9"/><circle cx="93.6" cy="417.2" r="3.9"/><circle cx="101.1" cy="404.3" r="3.9"/><circle cx="102.4" cy="404.2" r="3.9"/><circle cx="103.7" cy="407.8" r="3.9"/><circle cx="105.0" cy="409.5" r="3.9"/><circle cx="106.4" cy="408.2" r="3.9"/><circle cx="107.7" cy="410.3" r="3.9"/><circle cx="109.0" cy="415.1" r="3.9"/><circle cx="110.4" cy="415.4" r="3.9"/><circle cx="111.7" cy="414.2" r="3.9"/><circle cx="113.0" cy="422.0" r="3.9"/><circle cx="114.3" cy="423.9" r="3.9"/><circle cx="115.7" cy="416.1" r="3.9"/><circle cx="117.0" cy="421.5" r="3.9"/><circle cx="118.3" cy="427.9" r="3.9"/><circle cx="119.6" cy="424.9" r="3.9"/><circle cx="121.0" cy="424.5" r="3.9"/><circle cx="122.3" cy="424.5" r="3.9"/><circle cx="123.6" cy="424.6" r="3.9"/><circle cx="124.9" cy="426.2" r="3.9"/><circle cx="126.3" cy="426.2" r="3.9"/><circle cx="127.6" cy="430.0" r="3.9"/><circle cx="128.9" cy="427.9" r="3.9"/><circle cx="130.2" cy="428.3" r="3.9"/><circle cx="131.6" cy="426.9" r="3.9"/><circle cx="132.9" cy="430.1" r="3.9"/><circle cx="134.2" cy="428.4" r="3.9"/><circle cx="135.5" cy="430.3" r="3.9"/><circle cx="136.9" cy="433.4" r="3.9"/><circle cx="138.2" cy="431.8" r="3.9"/><circle cx="139.5" cy="432.1" r="3.9"/><circle cx="140.9" cy="431.6" r="3.9"/><circle cx="142.2" cy="430.7" r="3.9"/><circle cx="143.5" cy="430.0" r="3.9"/><circle cx="144.8" cy="429.2" r="3.9"/><circle cx="146.2" cy="431.3" r="3.9"/><circle cx="147.5" cy="426.4" r="3.9"/><circle cx="148.8" cy="431.7" r="3.9"/><circle cx="150.1" cy="427.9" r="3.9"/><circle cx="151.5" cy="425.4" r="3.9"/><circle cx="152.8" cy="425.3" r="3.9"/><circle cx="154.1" cy="424.1" r="3.9"/><circle cx="155.4" cy="425.3" r="3.9"/><circle cx="156.8" cy="422.4" r="3.9"/><circle cx="158.1" cy="426.0" r="3.9"/><circle cx="159.4" cy="420.5" r="3.9"/><circle cx="160.7" cy="416.1" r="3.9"/><circle cx="162.1" cy="418.9" r="3.9"/><circle cx="163.4" cy="415.0" r="3.9"/><circle cx="164.7" cy="418.9" r="3.9"/><circle cx="166.0" cy="420.7" r="3.9"/><circle cx="167.4" cy="418.9" r="3.9"/><circle cx="168.7" cy="413.4" r="3.9"/><circle cx="170.0" cy="414.1" r="3.9"/><circle cx="171.3" cy="419.5" r="3.9"/><circle cx="172.7" cy="415.3" r="3.9"/><circle cx="174.0" cy="414.0" r="3.9"/><circle cx="175.3" cy="416.0" r="3.9"/><circle cx="176.7" cy="418.9" r="3.9"/><circle cx="178.0" cy="415.7" r="3.9"/><circle cx="179.3" cy="412.6" r="3.9"/><circle cx="180.6" cy="412.9" r="3.9"/><circle cx="182.0" cy="413.3" r="3.9"/><circle cx="183.3" cy="410.3" r="3.9"/><circle cx="184.6" cy="409.2" r="3.9"/><circle cx="185.9" cy="411.9" r="3.9"/><circle cx="187.3" cy="409.6" r="3.9"/><circle cx="188.6" cy="411.9" r="3.9"/><circle cx="189.9" cy="412.5" r="3.9"/><circle cx="191.2" cy="418.2" r="3.9"/><circle cx="192.6" cy="410.9" r="3.9"/><circle cx="193.9" cy="413.1" r="3.9"/><circle cx="195.2" cy="413.5" r="3.9"/><circle cx="196.5" cy="415.5" r="3.9"/><circle cx="197.9" cy="417.6" r="3.9"/><circle cx="199.2" cy="414.5" r="3.9"/><circle cx="200.5" cy="414.4" r="3.9"/><circle cx="201.8" cy="413.2" r="3.9"/><circle cx="203.2" cy="415.6" r="3.9"/><circle cx="204.5" cy="419.9" r="3.9"/><circle cx="205.8" cy="419.5" r="3.9"/><circle cx="207.2" cy="417.8" r="3.9"/><circle cx="208.5" cy="420.1" r="3.9"/><circle cx="209.8" cy="421.9" r="3.9"/><circle cx="211.1" cy="423.8" r="3.9"/><circle cx="212.5" cy="421.9" r="3.9"/><circle cx="213.8" cy="423.5" r="3.9"/><circle cx="215.1" cy="420.4" r="3.9"/><circle cx="216.4" cy="422.7" r="3.9"/><circle cx="217.8" cy="430.0" r="3.9"/><circle cx="219.1" cy="421.4" r="3.9"/><circle cx="220.4" cy="426.4" r="3.9"/><circle cx="221.7" cy="428.3" r="3.9"/><circle cx="223.1" cy="427.3" r="3.9"/><circle cx="224.4" cy="426.6" r="3.9"/><circle cx="225.7" cy="428.7" r="3.9"/><circle cx="227.0" cy="429.1" r="3.9"/><circle cx="228.4" cy="429.1" r="3.9"/><circle cx="229.7" cy="424.9" r="3.9"/><circle cx="231.0" cy="429.2" r="3.9"/><circle cx="232.3" cy="427.4" r="3.9"/><circle cx="233.7" cy="428.1" r="3.9"/><circle cx="235.0" cy="429.8" r="3.9"/><circle cx="236.3" cy="430.6" r="3.9"/><circle cx="237.7" cy="431.0" r="3.9"/><circle cx="239.0" cy="427.3" r="3.9"/><circle cx="240.3" cy="430.3" r="3.9"/><circle cx="241.6" cy="430.5" r="3.9"/><circle cx="243.0" cy="429.9" r="3.9"/><circle cx="244.3" cy="429.9" r="3.9"/><circle cx="245.6" cy="425.7" r="3.9"/><circle cx="246.9" cy="425.0" r="3.9"/><circle cx="248.3" cy="426.7" r="3.9"/><circle cx="249.6" cy="420.8" r="3.9"/><circle cx="250.9" cy="423.9" r="3.9"/><circle cx="252.2" cy="421.4" r="3.9"/><circle cx="253.6" cy="421.1" r="3.9"/><circle cx="254.9" cy="417.1" r="3.9"/><circle cx="256.2" cy="418.4" r="3.9"/><circle cx="257.5" cy="419.8" r="3.9"/><circle cx="258.9" cy="421.2" r="3.9"/><circle cx="260.2" cy="420.8" r="3.9"/><circle cx="261.5" cy="417.6" r="3.9"/><circle cx="262.8" cy="416.7" r="3.9"/><circle cx="264.2" cy="414.5" r="3.9"/><circle cx="265.5" cy="416.9" r="3.9"/><circle cx="266.8" cy="414.9" r="3.9"/><circle cx="268.1" cy="416.4" r="3.9"/><circle cx="269.5" cy="418.8" r="3.9"/><circle cx="270.8" cy="414.1" r="3.9"/><circle cx="272.1" cy="410.3" r="3.9"/><circle cx="273.5" cy="411.6" r="3.9"/><circle cx="274.8" cy="409.9" r="3.9"/><circle cx="276.1" cy="410.4" r="3.9"/><circle cx="277.4" cy="416.4" r="3.9"/><circle cx="278.8" cy="413.8" r="3.9"/><circle cx="280.1" cy="409.6" r="3.9"/><circle cx="281.4" cy="414.9" r="3.9"/><circle cx="282.7" cy="416.6" r="3.9"/><circle cx="284.1" cy="412.9" r="3.9"/><circle cx="285.4" cy="412.4" r="3.9"/><circle cx="286.7" cy="413.6" r="3.9"/><circle cx="288.0" cy="415.5" r="3.9"/><circle cx="289.4" cy="416.8" r="3.9"/><circle cx="290.7" cy="418.5" r="3.9"/><circle cx="292.0" cy="419.1" r="3.9"/><circle cx="293.3" cy="419.6" r="3.9"/><circle cx="294.7" cy="420.6" r="3.9"/><circle cx="296.0" cy="419.5" r="3.9"/><circle cx="297.3" cy="414.9" r="3.9"/><circle cx="298.6" cy="418.9" r="3.9"/><circle cx="300.0" cy="420.6" r="3.9"/><circle cx="301.3" cy="419.6" r="3.9"/><circle cx="302.6" cy="423.4" r="3.9"/><circle cx="303.9" cy="421.0" r="3.9"/><circle cx="305.3" cy="420.3" r="3.9"/><circle cx="306.6" cy="426.6" r="3.9"/><circle cx="307.9" cy="425.4" r="3.9"/><circle cx="309.3" cy="424.9" r="3.9"/><circle cx="310.6" cy="427.1" r="3.9"/><circle cx="311.9" cy="428.0" r="3.9"/><circle cx="313.2" cy="426.7" r="3.9"/><circle cx="314.6" cy="420.5" r="3.9"/><circle cx="315.9" cy="425.2" r="3.9"/><circle cx="317.2" cy="426.0" r="3.9"/><circle cx="318.5" cy="425.1" r="3.9"/><circle cx="319.9" cy="428.2" r="3.9"/><circle cx="321.2" cy="430.7" r="3.9"/><circle cx="322.5" cy="426.9" r="3.9"/><circle cx="323.8" cy="425.4" r="3.9"/><circle cx="325.2" cy="433.0" r="3.9"/><circle cx="326.5" cy="427.0" r="3.9"/><circle cx="327.8" cy="425.1" r="3.9"/><circle cx="329.1" cy="428.5" r="3.9"/><circle cx="330.5" cy="428.7" r="3.9"/><circle cx="331.8" cy="425.8" r="3.9"/><circle cx="333.1" cy="429.1" r="3.9"/><circle cx="334.4" cy="425.6" r="3.9"/><circle cx="335.8" cy="424.2" r="3.9"/><circle cx="337.1" cy="426.4" r="3.9"/><circle cx="338.4" cy="427.4" r="3.9"/><circle cx="339.8" cy="423.5" r="3.9"/><circle cx="341.1" cy="425.3" r="3.9"/><circle cx="342.4" cy="423.7" r="3.9"/><circle cx="343.7" cy="430.2" r="3.9"/><circle cx="345.1" cy="421.1" r="3.9"/><circle cx="346.4" cy="425.5" r="3.9"/><circle cx="347.7" cy="421.5" r="3.9"/><circle cx="349.0" cy="420.7" r="3.9"/><circle cx="350.4" cy="422.1" r="3.9"/><circle cx="351.7" cy="421.9" r="3.9"/><circle cx="353.0" cy="422.3" r="3.9"/><circle cx="354.3" cy="419.4" r="3.9"/><circle cx="355.7" cy="416.7" r="3.9"/><circle cx="357.0" cy="416.3" r="3.9"/><circle cx="358.3" cy="418.3" r="3.9"/><circle cx="359.6" cy="418.0" r="3.9"/>
</g>
<g fill="#5fb098" fill-opacity="0.07" stroke="#5fb098" stroke-width="1.0">
<circle cx="71.0" cy="499.8" r="3.9"/><circle cx="72.3" cy="497.2" r="3.9"/><circle cx="73.7" cy="497.8" r="3.9"/><circle cx="75.0" cy="498.1" r="3.9"/><circle cx="76.3" cy="494.7" r="3.9"/><circle cx="77.6" cy="490.7" r="3.9"/><circle cx="79.0" cy="490.6" r="3.9"/><circle cx="80.3" cy="489.4" r="3.9"/><circle cx="81.6" cy="494.8" r="3.9"/><circle cx="83.0" cy="489.3" r="3.9"/><circle cx="84.3" cy="492.8" r="3.9"/><circle cx="85.6" cy="490.8" r="3.9"/><circle cx="86.9" cy="492.4" r="3.9"/><circle cx="88.3" cy="490.3" r="3.9"/><circle cx="89.6" cy="487.4" r="3.9"/><circle cx="90.9" cy="486.5" r="3.9"/><circle cx="92.2" cy="486.4" r="3.9"/><circle cx="93.6" cy="485.9" r="3.9"/><circle cx="101.1" cy="481.5" r="3.9"/><circle cx="102.4" cy="484.5" r="3.9"/><circle cx="103.7" cy="491.5" r="3.9"/><circle cx="105.0" cy="481.0" r="3.9"/><circle cx="106.4" cy="488.8" r="3.9"/><circle cx="107.7" cy="485.6" r="3.9"/><circle cx="109.0" cy="490.2" r="3.9"/><circle cx="110.4" cy="493.2" r="3.9"/><circle cx="111.7" cy="490.7" r="3.9"/><circle cx="113.0" cy="494.2" r="3.9"/><circle cx="114.3" cy="486.4" r="3.9"/><circle cx="115.7" cy="496.3" r="3.9"/><circle cx="117.0" cy="490.7" r="3.9"/><circle cx="118.3" cy="495.3" r="3.9"/><circle cx="119.6" cy="494.0" r="3.9"/><circle cx="121.0" cy="484.5" r="3.9"/><circle cx="122.3" cy="491.0" r="3.9"/><circle cx="123.6" cy="494.5" r="3.9"/><circle cx="124.9" cy="499.2" r="3.9"/><circle cx="126.3" cy="494.8" r="3.9"/><circle cx="127.6" cy="494.6" r="3.9"/><circle cx="128.9" cy="488.7" r="3.9"/><circle cx="130.2" cy="498.5" r="3.9"/><circle cx="131.6" cy="499.6" r="3.9"/><circle cx="132.9" cy="493.2" r="3.9"/><circle cx="134.2" cy="492.1" r="3.9"/><circle cx="135.5" cy="486.9" r="3.9"/><circle cx="136.9" cy="495.4" r="3.9"/><circle cx="138.2" cy="501.5" r="3.9"/><circle cx="139.5" cy="494.2" r="3.9"/><circle cx="140.9" cy="495.8" r="3.9"/><circle cx="142.2" cy="493.0" r="3.9"/><circle cx="143.5" cy="487.3" r="3.9"/><circle cx="144.8" cy="495.1" r="3.9"/><circle cx="146.2" cy="485.8" r="3.9"/><circle cx="147.5" cy="489.1" r="3.9"/><circle cx="148.8" cy="490.5" r="3.9"/><circle cx="150.1" cy="492.3" r="3.9"/><circle cx="151.5" cy="490.4" r="3.9"/><circle cx="152.8" cy="490.1" r="3.9"/><circle cx="154.1" cy="485.8" r="3.9"/><circle cx="155.4" cy="483.8" r="3.9"/><circle cx="156.8" cy="488.4" r="3.9"/><circle cx="158.1" cy="485.5" r="3.9"/><circle cx="159.4" cy="483.3" r="3.9"/><circle cx="160.7" cy="483.4" r="3.9"/><circle cx="162.1" cy="486.1" r="3.9"/><circle cx="163.4" cy="481.3" r="3.9"/><circle cx="164.7" cy="483.1" r="3.9"/><circle cx="166.0" cy="482.2" r="3.9"/><circle cx="167.4" cy="488.7" r="3.9"/><circle cx="168.7" cy="489.6" r="3.9"/><circle cx="170.0" cy="495.3" r="3.9"/><circle cx="171.3" cy="483.3" r="3.9"/><circle cx="172.7" cy="486.3" r="3.9"/><circle cx="174.0" cy="492.2" r="3.9"/><circle cx="175.3" cy="488.5" r="3.9"/><circle cx="176.7" cy="488.4" r="3.9"/><circle cx="178.0" cy="495.8" r="3.9"/><circle cx="179.3" cy="489.0" r="3.9"/><circle cx="180.6" cy="486.4" r="3.9"/><circle cx="182.0" cy="486.2" r="3.9"/><circle cx="183.3" cy="492.3" r="3.9"/><circle cx="184.6" cy="492.5" r="3.9"/><circle cx="185.9" cy="487.0" r="3.9"/><circle cx="187.3" cy="488.7" r="3.9"/><circle cx="188.6" cy="494.3" r="3.9"/><circle cx="189.9" cy="494.8" r="3.9"/><circle cx="191.2" cy="490.8" r="3.9"/><circle cx="192.6" cy="495.5" r="3.9"/><circle cx="193.9" cy="495.6" r="3.9"/><circle cx="195.2" cy="487.6" r="3.9"/><circle cx="196.5" cy="492.9" r="3.9"/><circle cx="197.9" cy="495.6" r="3.9"/><circle cx="199.2" cy="492.3" r="3.9"/><circle cx="200.5" cy="487.0" r="3.9"/><circle cx="201.8" cy="493.5" r="3.9"/><circle cx="203.2" cy="497.2" r="3.9"/><circle cx="204.5" cy="500.1" r="3.9"/><circle cx="205.8" cy="486.9" r="3.9"/><circle cx="207.2" cy="503.7" r="3.9"/><circle cx="208.5" cy="490.5" r="3.9"/><circle cx="209.8" cy="497.7" r="3.9"/><circle cx="211.1" cy="498.5" r="3.9"/><circle cx="212.5" cy="497.4" r="3.9"/><circle cx="213.8" cy="494.3" r="3.9"/><circle cx="215.1" cy="489.5" r="3.9"/><circle cx="216.4" cy="495.5" r="3.9"/><circle cx="217.8" cy="490.5" r="3.9"/><circle cx="219.1" cy="483.9" r="3.9"/><circle cx="220.4" cy="502.3" r="3.9"/><circle cx="221.7" cy="494.6" r="3.9"/><circle cx="223.1" cy="498.2" r="3.9"/><circle cx="224.4" cy="488.3" r="3.9"/><circle cx="225.7" cy="496.3" r="3.9"/><circle cx="227.0" cy="496.4" r="3.9"/><circle cx="228.4" cy="495.9" r="3.9"/><circle cx="229.7" cy="490.1" r="3.9"/><circle cx="231.0" cy="485.7" r="3.9"/><circle cx="232.3" cy="489.0" r="3.9"/><circle cx="233.7" cy="481.6" r="3.9"/><circle cx="235.0" cy="483.1" r="3.9"/><circle cx="236.3" cy="489.1" r="3.9"/><circle cx="237.7" cy="485.1" r="3.9"/><circle cx="239.0" cy="487.9" r="3.9"/><circle cx="240.3" cy="487.9" r="3.9"/><circle cx="241.6" cy="494.9" r="3.9"/><circle cx="243.0" cy="492.6" r="3.9"/><circle cx="244.3" cy="487.9" r="3.9"/><circle cx="245.6" cy="492.2" r="3.9"/><circle cx="246.9" cy="485.3" r="3.9"/><circle cx="248.3" cy="486.9" r="3.9"/><circle cx="249.6" cy="491.3" r="3.9"/><circle cx="250.9" cy="483.9" r="3.9"/><circle cx="252.2" cy="487.4" r="3.9"/><circle cx="253.6" cy="483.9" r="3.9"/><circle cx="254.9" cy="489.1" r="3.9"/><circle cx="256.2" cy="494.6" r="3.9"/><circle cx="257.5" cy="486.5" r="3.9"/><circle cx="258.9" cy="490.2" r="3.9"/><circle cx="260.2" cy="486.6" r="3.9"/><circle cx="261.5" cy="486.0" r="3.9"/><circle cx="262.8" cy="486.0" r="3.9"/><circle cx="264.2" cy="495.7" r="3.9"/><circle cx="265.5" cy="499.2" r="3.9"/><circle cx="266.8" cy="492.9" r="3.9"/><circle cx="268.1" cy="489.1" r="3.9"/><circle cx="269.5" cy="494.4" r="3.9"/><circle cx="270.8" cy="491.0" r="3.9"/><circle cx="272.1" cy="495.3" r="3.9"/><circle cx="273.5" cy="493.8" r="3.9"/><circle cx="274.8" cy="494.0" r="3.9"/><circle cx="276.1" cy="495.4" r="3.9"/><circle cx="277.4" cy="491.5" r="3.9"/><circle cx="278.8" cy="492.3" r="3.9"/><circle cx="280.1" cy="487.9" r="3.9"/><circle cx="281.4" cy="492.6" r="3.9"/><circle cx="282.7" cy="489.3" r="3.9"/><circle cx="284.1" cy="493.8" r="3.9"/><circle cx="285.4" cy="491.0" r="3.9"/><circle cx="286.7" cy="494.8" r="3.9"/><circle cx="288.0" cy="496.0" r="3.9"/><circle cx="289.4" cy="489.4" r="3.9"/><circle cx="290.7" cy="491.5" r="3.9"/><circle cx="292.0" cy="490.9" r="3.9"/><circle cx="293.3" cy="496.7" r="3.9"/><circle cx="294.7" cy="500.0" r="3.9"/><circle cx="296.0" cy="496.8" r="3.9"/><circle cx="297.3" cy="492.4" r="3.9"/><circle cx="298.6" cy="498.5" r="3.9"/><circle cx="300.0" cy="487.8" r="3.9"/><circle cx="301.3" cy="498.1" r="3.9"/><circle cx="302.6" cy="490.3" r="3.9"/><circle cx="303.9" cy="482.6" r="3.9"/><circle cx="305.3" cy="501.3" r="3.9"/><circle cx="306.6" cy="497.2" r="3.9"/><circle cx="307.9" cy="487.7" r="3.9"/><circle cx="309.3" cy="491.6" r="3.9"/><circle cx="310.6" cy="490.0" r="3.9"/><circle cx="311.9" cy="490.8" r="3.9"/><circle cx="313.2" cy="484.9" r="3.9"/><circle cx="314.6" cy="487.5" r="3.9"/><circle cx="315.9" cy="491.2" r="3.9"/><circle cx="317.2" cy="490.1" r="3.9"/><circle cx="318.5" cy="493.3" r="3.9"/><circle cx="319.9" cy="489.1" r="3.9"/><circle cx="321.2" cy="496.9" r="3.9"/><circle cx="322.5" cy="486.0" r="3.9"/><circle cx="323.8" cy="489.3" r="3.9"/><circle cx="325.2" cy="481.6" r="3.9"/><circle cx="326.5" cy="483.8" r="3.9"/><circle cx="327.8" cy="492.8" r="3.9"/><circle cx="329.1" cy="484.8" r="3.9"/><circle cx="330.5" cy="490.0" r="3.9"/><circle cx="331.8" cy="488.0" r="3.9"/><circle cx="333.1" cy="484.6" r="3.9"/><circle cx="334.4" cy="487.2" r="3.9"/><circle cx="335.8" cy="486.7" r="3.9"/><circle cx="337.1" cy="487.0" r="3.9"/><circle cx="338.4" cy="491.5" r="3.9"/><circle cx="339.8" cy="491.4" r="3.9"/><circle cx="341.1" cy="487.3" r="3.9"/><circle cx="342.4" cy="486.4" r="3.9"/><circle cx="343.7" cy="490.8" r="3.9"/><circle cx="345.1" cy="489.8" r="3.9"/><circle cx="346.4" cy="494.0" r="3.9"/><circle cx="347.7" cy="500.0" r="3.9"/><circle cx="349.0" cy="494.0" r="3.9"/><circle cx="350.4" cy="491.2" r="3.9"/><circle cx="351.7" cy="491.1" r="3.9"/><circle cx="353.0" cy="489.0" r="3.9"/><circle cx="354.3" cy="489.1" r="3.9"/><circle cx="355.7" cy="489.0" r="3.9"/><circle cx="357.0" cy="491.4" r="3.9"/><circle cx="358.3" cy="491.6" r="3.9"/><circle cx="359.6" cy="495.9" r="3.9"/>
</g>
<g fill="#5fadb7" fill-opacity="0.07" stroke="#5fadb7" stroke-width="1.0">
<circle cx="71.0" cy="564.1" r="3.9"/><circle cx="72.3" cy="564.6" r="3.9"/><circle cx="73.7" cy="562.1" r="3.9"/><circle cx="75.0" cy="569.2" r="3.9"/><circle cx="76.3" cy="566.4" r="3.9"/><circle cx="77.6" cy="569.6" r="3.9"/><circle cx="79.0" cy="567.1" r="3.9"/><circle cx="80.3" cy="568.8" r="3.9"/><circle cx="81.6" cy="564.5" r="3.9"/><circle cx="83.0" cy="566.9" r="3.9"/><circle cx="84.3" cy="571.9" r="3.9"/><circle cx="85.6" cy="562.0" r="3.9"/><circle cx="86.9" cy="568.0" r="3.9"/><circle cx="88.3" cy="569.3" r="3.9"/><circle cx="89.6" cy="566.2" r="3.9"/><circle cx="90.9" cy="567.0" r="3.9"/><circle cx="92.2" cy="568.3" r="3.9"/><circle cx="93.6" cy="563.4" r="3.9"/><circle cx="101.1" cy="554.2" r="3.9"/><circle cx="102.4" cy="553.8" r="3.9"/><circle cx="103.7" cy="556.8" r="3.9"/><circle cx="105.0" cy="558.8" r="3.9"/><circle cx="106.4" cy="561.4" r="3.9"/><circle cx="107.7" cy="563.1" r="3.9"/><circle cx="109.0" cy="564.4" r="3.9"/><circle cx="110.4" cy="559.2" r="3.9"/><circle cx="111.7" cy="568.8" r="3.9"/><circle cx="113.0" cy="566.1" r="3.9"/><circle cx="114.3" cy="564.3" r="3.9"/><circle cx="115.7" cy="560.5" r="3.9"/><circle cx="117.0" cy="560.5" r="3.9"/><circle cx="118.3" cy="561.4" r="3.9"/><circle cx="119.6" cy="560.0" r="3.9"/><circle cx="121.0" cy="553.0" r="3.9"/><circle cx="122.3" cy="559.0" r="3.9"/><circle cx="123.6" cy="564.2" r="3.9"/><circle cx="124.9" cy="549.5" r="3.9"/><circle cx="126.3" cy="556.7" r="3.9"/><circle cx="127.6" cy="554.0" r="3.9"/><circle cx="128.9" cy="551.7" r="3.9"/><circle cx="130.2" cy="555.1" r="3.9"/><circle cx="131.6" cy="547.0" r="3.9"/><circle cx="132.9" cy="550.2" r="3.9"/><circle cx="134.2" cy="553.4" r="3.9"/><circle cx="135.5" cy="548.2" r="3.9"/><circle cx="136.9" cy="547.1" r="3.9"/><circle cx="138.2" cy="548.4" r="3.9"/><circle cx="139.5" cy="546.6" r="3.9"/><circle cx="140.9" cy="552.3" r="3.9"/><circle cx="142.2" cy="545.3" r="3.9"/><circle cx="143.5" cy="550.5" r="3.9"/><circle cx="144.8" cy="544.7" r="3.9"/><circle cx="146.2" cy="550.6" r="3.9"/><circle cx="147.5" cy="548.8" r="3.9"/><circle cx="148.8" cy="542.2" r="3.9"/><circle cx="150.1" cy="550.3" r="3.9"/><circle cx="151.5" cy="548.0" r="3.9"/><circle cx="152.8" cy="550.6" r="3.9"/><circle cx="154.1" cy="557.2" r="3.9"/><circle cx="155.4" cy="550.5" r="3.9"/><circle cx="156.8" cy="551.6" r="3.9"/><circle cx="158.1" cy="559.9" r="3.9"/><circle cx="159.4" cy="557.1" r="3.9"/><circle cx="160.7" cy="562.3" r="3.9"/><circle cx="162.1" cy="559.9" r="3.9"/><circle cx="163.4" cy="557.6" r="3.9"/><circle cx="164.7" cy="561.1" r="3.9"/><circle cx="166.0" cy="565.9" r="3.9"/><circle cx="167.4" cy="566.2" r="3.9"/><circle cx="168.7" cy="564.6" r="3.9"/><circle cx="170.0" cy="565.8" r="3.9"/><circle cx="171.3" cy="566.3" r="3.9"/><circle cx="172.7" cy="565.9" r="3.9"/><circle cx="174.0" cy="574.0" r="3.9"/><circle cx="175.3" cy="569.3" r="3.9"/><circle cx="176.7" cy="566.7" r="3.9"/><circle cx="178.0" cy="569.3" r="3.9"/><circle cx="179.3" cy="573.3" r="3.9"/><circle cx="180.6" cy="573.5" r="3.9"/><circle cx="182.0" cy="571.7" r="3.9"/><circle cx="183.3" cy="570.5" r="3.9"/><circle cx="184.6" cy="572.7" r="3.9"/><circle cx="185.9" cy="567.9" r="3.9"/><circle cx="187.3" cy="568.9" r="3.9"/><circle cx="188.6" cy="574.9" r="3.9"/><circle cx="189.9" cy="571.0" r="3.9"/><circle cx="191.2" cy="573.2" r="3.9"/><circle cx="192.6" cy="575.3" r="3.9"/><circle cx="193.9" cy="573.2" r="3.9"/><circle cx="195.2" cy="570.8" r="3.9"/><circle cx="196.5" cy="576.3" r="3.9"/><circle cx="197.9" cy="571.4" r="3.9"/><circle cx="199.2" cy="567.7" r="3.9"/><circle cx="200.5" cy="570.0" r="3.9"/><circle cx="201.8" cy="568.2" r="3.9"/><circle cx="203.2" cy="563.7" r="3.9"/><circle cx="204.5" cy="565.4" r="3.9"/><circle cx="205.8" cy="563.8" r="3.9"/><circle cx="207.2" cy="557.6" r="3.9"/><circle cx="208.5" cy="561.8" r="3.9"/><circle cx="209.8" cy="560.5" r="3.9"/><circle cx="211.1" cy="559.0" r="3.9"/><circle cx="212.5" cy="554.6" r="3.9"/><circle cx="213.8" cy="557.3" r="3.9"/><circle cx="215.1" cy="557.3" r="3.9"/><circle cx="216.4" cy="556.8" r="3.9"/><circle cx="217.8" cy="552.4" r="3.9"/><circle cx="219.1" cy="556.7" r="3.9"/><circle cx="220.4" cy="550.7" r="3.9"/><circle cx="221.7" cy="552.9" r="3.9"/><circle cx="223.1" cy="556.7" r="3.9"/><circle cx="224.4" cy="550.4" r="3.9"/><circle cx="225.7" cy="550.4" r="3.9"/><circle cx="227.0" cy="554.6" r="3.9"/><circle cx="228.4" cy="550.2" r="3.9"/><circle cx="229.7" cy="550.2" r="3.9"/><circle cx="231.0" cy="551.6" r="3.9"/><circle cx="232.3" cy="553.9" r="3.9"/><circle cx="233.7" cy="544.6" r="3.9"/><circle cx="235.0" cy="548.7" r="3.9"/><circle cx="236.3" cy="548.4" r="3.9"/><circle cx="237.7" cy="548.5" r="3.9"/><circle cx="239.0" cy="549.5" r="3.9"/><circle cx="240.3" cy="550.0" r="3.9"/><circle cx="241.6" cy="553.8" r="3.9"/><circle cx="243.0" cy="551.0" r="3.9"/><circle cx="244.3" cy="554.5" r="3.9"/><circle cx="245.6" cy="556.0" r="3.9"/><circle cx="246.9" cy="553.5" r="3.9"/><circle cx="248.3" cy="556.8" r="3.9"/><circle cx="249.6" cy="561.9" r="3.9"/><circle cx="250.9" cy="559.0" r="3.9"/><circle cx="252.2" cy="557.1" r="3.9"/><circle cx="253.6" cy="559.6" r="3.9"/><circle cx="254.9" cy="558.0" r="3.9"/><circle cx="256.2" cy="562.3" r="3.9"/><circle cx="257.5" cy="564.9" r="3.9"/><circle cx="258.9" cy="560.9" r="3.9"/><circle cx="260.2" cy="563.5" r="3.9"/><circle cx="261.5" cy="568.0" r="3.9"/><circle cx="262.8" cy="564.2" r="3.9"/><circle cx="264.2" cy="566.9" r="3.9"/><circle cx="265.5" cy="564.1" r="3.9"/><circle cx="266.8" cy="565.3" r="3.9"/><circle cx="268.1" cy="566.7" r="3.9"/><circle cx="269.5" cy="574.7" r="3.9"/><circle cx="270.8" cy="567.9" r="3.9"/><circle cx="272.1" cy="567.9" r="3.9"/><circle cx="273.5" cy="568.1" r="3.9"/><circle cx="274.8" cy="569.4" r="3.9"/><circle cx="276.1" cy="571.8" r="3.9"/><circle cx="277.4" cy="570.6" r="3.9"/><circle cx="278.8" cy="575.8" r="3.9"/><circle cx="280.1" cy="570.5" r="3.9"/><circle cx="281.4" cy="573.8" r="3.9"/><circle cx="282.7" cy="570.3" r="3.9"/><circle cx="284.1" cy="570.9" r="3.9"/><circle cx="285.4" cy="564.8" r="3.9"/><circle cx="286.7" cy="568.1" r="3.9"/><circle cx="288.0" cy="567.7" r="3.9"/><circle cx="289.4" cy="566.7" r="3.9"/><circle cx="290.7" cy="560.8" r="3.9"/><circle cx="292.0" cy="568.6" r="3.9"/><circle cx="293.3" cy="564.4" r="3.9"/><circle cx="294.7" cy="563.5" r="3.9"/><circle cx="296.0" cy="563.3" r="3.9"/><circle cx="297.3" cy="562.6" r="3.9"/><circle cx="298.6" cy="563.7" r="3.9"/><circle cx="300.0" cy="558.2" r="3.9"/><circle cx="301.3" cy="558.4" r="3.9"/><circle cx="302.6" cy="561.0" r="3.9"/><circle cx="303.9" cy="559.9" r="3.9"/><circle cx="305.3" cy="557.7" r="3.9"/><circle cx="306.6" cy="556.4" r="3.9"/><circle cx="307.9" cy="555.0" r="3.9"/><circle cx="309.3" cy="556.5" r="3.9"/><circle cx="310.6" cy="559.4" r="3.9"/><circle cx="311.9" cy="552.6" r="3.9"/><circle cx="313.2" cy="559.3" r="3.9"/><circle cx="314.6" cy="557.0" r="3.9"/><circle cx="315.9" cy="553.0" r="3.9"/><circle cx="317.2" cy="556.1" r="3.9"/><circle cx="318.5" cy="549.5" r="3.9"/><circle cx="319.9" cy="548.6" r="3.9"/><circle cx="321.2" cy="549.7" r="3.9"/><circle cx="322.5" cy="552.1" r="3.9"/><circle cx="323.8" cy="552.3" r="3.9"/><circle cx="325.2" cy="551.8" r="3.9"/><circle cx="326.5" cy="553.7" r="3.9"/><circle cx="327.8" cy="547.6" r="3.9"/><circle cx="329.1" cy="555.2" r="3.9"/><circle cx="330.5" cy="550.2" r="3.9"/><circle cx="331.8" cy="552.7" r="3.9"/><circle cx="333.1" cy="553.8" r="3.9"/><circle cx="334.4" cy="552.2" r="3.9"/><circle cx="335.8" cy="552.1" r="3.9"/><circle cx="337.1" cy="553.7" r="3.9"/><circle cx="338.4" cy="557.0" r="3.9"/><circle cx="339.8" cy="559.3" r="3.9"/><circle cx="341.1" cy="559.9" r="3.9"/><circle cx="342.4" cy="556.2" r="3.9"/><circle cx="343.7" cy="557.4" r="3.9"/><circle cx="345.1" cy="557.7" r="3.9"/><circle cx="346.4" cy="562.2" r="3.9"/><circle cx="347.7" cy="556.0" r="3.9"/><circle cx="349.0" cy="565.8" r="3.9"/><circle cx="350.4" cy="561.6" r="3.9"/><circle cx="351.7" cy="561.4" r="3.9"/><circle cx="353.0" cy="565.2" r="3.9"/><circle cx="354.3" cy="567.7" r="3.9"/><circle cx="355.7" cy="566.3" r="3.9"/><circle cx="357.0" cy="568.8" r="3.9"/><circle cx="358.3" cy="566.6" r="3.9"/><circle cx="359.6" cy="570.1" r="3.9"/>
</g>
<g fill="#6a97d6" fill-opacity="0.07" stroke="#6a97d6" stroke-width="1.0">
<circle cx="71.0" cy="642.5" r="3.9"/><circle cx="73.0" cy="639.7" r="3.9"/><circle cx="75.1" cy="645.6" r="3.9"/><circle cx="77.1" cy="643.0" r="3.9"/><circle cx="79.1" cy="644.1" r="3.9"/><circle cx="81.2" cy="642.3" r="3.9"/><circle cx="83.2" cy="645.5" r="3.9"/><circle cx="85.2" cy="649.9" r="3.9"/><circle cx="87.3" cy="644.9" r="3.9"/><circle cx="89.3" cy="652.1" r="3.9"/><circle cx="91.3" cy="652.4" r="3.9"/><circle cx="93.4" cy="653.5" r="3.9"/><circle cx="99.3" cy="604.2" r="3.9"/><circle cx="101.3" cy="623.3" r="3.9"/><circle cx="103.4" cy="630.8" r="3.9"/><circle cx="105.4" cy="619.8" r="3.9"/><circle cx="107.4" cy="627.9" r="3.9"/><circle cx="109.5" cy="607.7" r="3.9"/><circle cx="111.5" cy="634.3" r="3.9"/><circle cx="113.5" cy="623.4" r="3.9"/><circle cx="115.6" cy="636.8" r="3.9"/><circle cx="117.6" cy="614.0" r="3.9"/><circle cx="119.6" cy="635.6" r="3.9"/><circle cx="121.7" cy="627.7" r="3.9"/><circle cx="123.7" cy="636.4" r="3.9"/><circle cx="125.7" cy="621.4" r="3.9"/><circle cx="127.8" cy="623.6" r="3.9"/><circle cx="129.8" cy="647.4" r="3.9"/><circle cx="131.8" cy="620.7" r="3.9"/><circle cx="133.9" cy="621.1" r="3.9"/><circle cx="135.9" cy="624.1" r="3.9"/><circle cx="137.9" cy="617.0" r="3.9"/><circle cx="140.0" cy="635.0" r="3.9"/><circle cx="142.0" cy="638.8" r="3.9"/><circle cx="144.0" cy="617.5" r="3.9"/><circle cx="146.1" cy="608.1" r="3.9"/><circle cx="148.1" cy="632.1" r="3.9"/><circle cx="150.1" cy="631.0" r="3.9"/><circle cx="152.2" cy="628.1" r="3.9"/><circle cx="154.2" cy="630.5" r="3.9"/><circle cx="156.2" cy="613.1" r="3.9"/><circle cx="158.3" cy="618.8" r="3.9"/><circle cx="160.3" cy="608.5" r="3.9"/><circle cx="162.3" cy="608.2" r="3.9"/><circle cx="164.4" cy="628.8" r="3.9"/><circle cx="166.4" cy="615.1" r="3.9"/><circle cx="168.4" cy="640.5" r="3.9"/><circle cx="170.5" cy="622.3" r="3.9"/><circle cx="172.5" cy="616.8" r="3.9"/><circle cx="174.5" cy="629.6" r="3.9"/><circle cx="176.6" cy="638.8" r="3.9"/><circle cx="178.6" cy="628.4" r="3.9"/><circle cx="180.6" cy="614.6" r="3.9"/><circle cx="182.7" cy="628.8" r="3.9"/><circle cx="184.7" cy="638.1" r="3.9"/><circle cx="186.7" cy="622.8" r="3.9"/><circle cx="188.8" cy="621.0" r="3.9"/><circle cx="190.8" cy="636.8" r="3.9"/><circle cx="192.8" cy="629.8" r="3.9"/><circle cx="194.9" cy="619.6" r="3.9"/><circle cx="196.9" cy="626.0" r="3.9"/><circle cx="198.9" cy="622.9" r="3.9"/><circle cx="201.0" cy="631.9" r="3.9"/><circle cx="203.0" cy="630.3" r="3.9"/><circle cx="205.0" cy="638.9" r="3.9"/><circle cx="207.1" cy="634.9" r="3.9"/><circle cx="209.1" cy="615.2" r="3.9"/><circle cx="211.1" cy="631.5" r="3.9"/><circle cx="213.2" cy="635.2" r="3.9"/><circle cx="215.2" cy="630.8" r="3.9"/><circle cx="217.2" cy="635.1" r="3.9"/><circle cx="219.3" cy="621.0" r="3.9"/><circle cx="221.3" cy="616.9" r="3.9"/><circle cx="223.3" cy="632.2" r="3.9"/><circle cx="225.4" cy="614.6" r="3.9"/><circle cx="227.4" cy="604.6" r="3.9"/><circle cx="229.4" cy="631.1" r="3.9"/><circle cx="231.5" cy="615.8" r="3.9"/><circle cx="233.5" cy="618.9" r="3.9"/><circle cx="235.5" cy="609.3" r="3.9"/><circle cx="237.6" cy="609.7" r="3.9"/><circle cx="239.6" cy="610.9" r="3.9"/><circle cx="241.6" cy="617.7" r="3.9"/><circle cx="243.7" cy="623.9" r="3.9"/><circle cx="245.7" cy="601.4" r="3.9"/><circle cx="247.7" cy="627.6" r="3.9"/><circle cx="249.8" cy="611.5" r="3.9"/><circle cx="251.8" cy="612.9" r="3.9"/><circle cx="253.8" cy="628.3" r="3.9"/><circle cx="255.9" cy="622.4" r="3.9"/><circle cx="257.9" cy="610.6" r="3.9"/><circle cx="259.9" cy="640.0" r="3.9"/><circle cx="262.0" cy="617.6" r="3.9"/><circle cx="264.0" cy="627.7" r="3.9"/><circle cx="266.0" cy="627.9" r="3.9"/><circle cx="268.1" cy="638.8" r="3.9"/><circle cx="270.1" cy="623.5" r="3.9"/><circle cx="272.1" cy="636.4" r="3.9"/><circle cx="274.2" cy="621.9" r="3.9"/><circle cx="276.2" cy="638.1" r="3.9"/><circle cx="278.2" cy="622.3" r="3.9"/><circle cx="280.3" cy="625.8" r="3.9"/><circle cx="282.3" cy="645.0" r="3.9"/><circle cx="284.3" cy="631.6" r="3.9"/><circle cx="286.4" cy="629.6" r="3.9"/><circle cx="288.4" cy="647.5" r="3.9"/><circle cx="290.4" cy="631.2" r="3.9"/><circle cx="292.5" cy="620.8" r="3.9"/><circle cx="294.5" cy="633.5" r="3.9"/><circle cx="296.5" cy="616.7" r="3.9"/><circle cx="298.6" cy="635.7" r="3.9"/><circle cx="300.6" cy="635.8" r="3.9"/><circle cx="302.6" cy="620.1" r="3.9"/><circle cx="304.7" cy="619.0" r="3.9"/><circle cx="306.7" cy="625.3" r="3.9"/><circle cx="308.7" cy="623.3" r="3.9"/><circle cx="310.8" cy="614.4" r="3.9"/><circle cx="312.8" cy="627.1" r="3.9"/><circle cx="314.8" cy="604.5" r="3.9"/><circle cx="316.9" cy="617.9" r="3.9"/><circle cx="318.9" cy="617.9" r="3.9"/><circle cx="320.9" cy="618.9" r="3.9"/><circle cx="323.0" cy="623.8" r="3.9"/><circle cx="325.0" cy="610.8" r="3.9"/><circle cx="327.0" cy="626.4" r="3.9"/><circle cx="329.1" cy="620.1" r="3.9"/><circle cx="331.1" cy="616.4" r="3.9"/><circle cx="333.1" cy="610.7" r="3.9"/><circle cx="335.2" cy="612.7" r="3.9"/><circle cx="337.2" cy="626.3" r="3.9"/><circle cx="339.2" cy="615.6" r="3.9"/><circle cx="341.3" cy="624.9" r="3.9"/><circle cx="343.3" cy="634.0" r="3.9"/><circle cx="345.3" cy="634.3" r="3.9"/><circle cx="347.4" cy="639.3" r="3.9"/><circle cx="349.4" cy="624.1" r="3.9"/><circle cx="351.4" cy="617.8" r="3.9"/><circle cx="353.5" cy="636.2" r="3.9"/><circle cx="355.5" cy="630.5" r="3.9"/><circle cx="357.5" cy="637.7" r="3.9"/><circle cx="359.6" cy="628.4" r="3.9"/>
</g>
<g fill="#8086e9" fill-opacity="0.07" stroke="#8086e9" stroke-width="1.0">
<circle cx="71.0" cy="706.2" r="3.9"/><circle cx="72.3" cy="705.5" r="3.9"/><circle cx="73.7" cy="705.2" r="3.9"/><circle cx="75.0" cy="704.8" r="3.9"/><circle cx="76.3" cy="704.6" r="3.9"/><circle cx="77.6" cy="704.3" r="3.9"/><circle cx="79.0" cy="704.3" r="3.9"/><circle cx="80.3" cy="705.8" r="3.9"/><circle cx="81.6" cy="702.8" r="3.9"/><circle cx="83.0" cy="707.3" r="3.9"/><circle cx="84.3" cy="703.6" r="3.9"/><circle cx="85.6" cy="705.8" r="3.9"/><circle cx="86.9" cy="703.6" r="3.9"/><circle cx="88.3" cy="703.3" r="3.9"/><circle cx="89.6" cy="707.9" r="3.9"/><circle cx="90.9" cy="703.2" r="3.9"/><circle cx="92.2" cy="701.2" r="3.9"/><circle cx="93.6" cy="702.4" r="3.9"/><circle cx="101.1" cy="683.3" r="3.9"/><circle cx="102.4" cy="691.1" r="3.9"/><circle cx="103.7" cy="688.2" r="3.9"/><circle cx="105.0" cy="691.6" r="3.9"/><circle cx="106.4" cy="688.5" r="3.9"/><circle cx="107.7" cy="693.2" r="3.9"/><circle cx="109.0" cy="695.4" r="3.9"/><circle cx="110.4" cy="699.5" r="3.9"/><circle cx="111.7" cy="694.9" r="3.9"/><circle cx="113.0" cy="699.3" r="3.9"/><circle cx="114.3" cy="699.8" r="3.9"/><circle cx="115.7" cy="697.9" r="3.9"/><circle cx="117.0" cy="701.5" r="3.9"/><circle cx="118.3" cy="702.0" r="3.9"/><circle cx="119.6" cy="698.2" r="3.9"/><circle cx="121.0" cy="706.2" r="3.9"/><circle cx="122.3" cy="707.1" r="3.9"/><circle cx="123.6" cy="705.7" r="3.9"/><circle cx="124.9" cy="704.4" r="3.9"/><circle cx="126.3" cy="712.0" r="3.9"/><circle cx="127.6" cy="709.9" r="3.9"/><circle cx="128.9" cy="712.4" r="3.9"/><circle cx="130.2" cy="714.0" r="3.9"/><circle cx="131.6" cy="709.9" r="3.9"/><circle cx="132.9" cy="713.6" r="3.9"/><circle cx="134.2" cy="711.4" r="3.9"/><circle cx="135.5" cy="712.2" r="3.9"/><circle cx="136.9" cy="712.3" r="3.9"/><circle cx="138.2" cy="712.7" r="3.9"/><circle cx="139.5" cy="715.4" r="3.9"/><circle cx="140.9" cy="713.0" r="3.9"/><circle cx="142.2" cy="712.2" r="3.9"/><circle cx="143.5" cy="711.7" r="3.9"/><circle cx="144.8" cy="712.9" r="3.9"/><circle cx="146.2" cy="709.6" r="3.9"/><circle cx="147.5" cy="710.1" r="3.9"/><circle cx="148.8" cy="710.7" r="3.9"/><circle cx="150.1" cy="708.9" r="3.9"/><circle cx="151.5" cy="709.3" r="3.9"/><circle cx="152.8" cy="707.5" r="3.9"/><circle cx="154.1" cy="713.0" r="3.9"/><circle cx="155.4" cy="710.6" r="3.9"/><circle cx="156.8" cy="707.7" r="3.9"/><circle cx="158.1" cy="705.6" r="3.9"/><circle cx="159.4" cy="710.2" r="3.9"/><circle cx="160.7" cy="704.8" r="3.9"/><circle cx="162.1" cy="702.9" r="3.9"/><circle cx="163.4" cy="703.0" r="3.9"/><circle cx="164.7" cy="702.1" r="3.9"/><circle cx="166.0" cy="703.9" r="3.9"/><circle cx="167.4" cy="699.6" r="3.9"/><circle cx="168.7" cy="703.9" r="3.9"/><circle cx="170.0" cy="696.0" r="3.9"/><circle cx="171.3" cy="699.0" r="3.9"/><circle cx="172.7" cy="694.3" r="3.9"/><circle cx="174.0" cy="700.4" r="3.9"/><circle cx="175.3" cy="694.7" r="3.9"/><circle cx="176.7" cy="694.8" r="3.9"/><circle cx="178.0" cy="696.8" r="3.9"/><circle cx="179.3" cy="697.2" r="3.9"/><circle cx="180.6" cy="691.2" r="3.9"/><circle cx="182.0" cy="692.8" r="3.9"/><circle cx="183.3" cy="690.2" r="3.9"/><circle cx="184.6" cy="693.8" r="3.9"/><circle cx="185.9" cy="693.3" r="3.9"/><circle cx="187.3" cy="692.8" r="3.9"/><circle cx="188.6" cy="692.1" r="3.9"/><circle cx="189.9" cy="693.1" r="3.9"/><circle cx="191.2" cy="692.6" r="3.9"/><circle cx="192.6" cy="696.0" r="3.9"/><circle cx="193.9" cy="698.9" r="3.9"/><circle cx="195.2" cy="691.1" r="3.9"/><circle cx="196.5" cy="696.1" r="3.9"/><circle cx="197.9" cy="696.0" r="3.9"/><circle cx="199.2" cy="698.9" r="3.9"/><circle cx="200.5" cy="696.2" r="3.9"/><circle cx="201.8" cy="698.9" r="3.9"/><circle cx="203.2" cy="697.5" r="3.9"/><circle cx="204.5" cy="702.5" r="3.9"/><circle cx="205.8" cy="702.0" r="3.9"/><circle cx="207.2" cy="702.2" r="3.9"/><circle cx="208.5" cy="704.3" r="3.9"/><circle cx="209.8" cy="703.7" r="3.9"/><circle cx="211.1" cy="701.4" r="3.9"/><circle cx="212.5" cy="707.4" r="3.9"/><circle cx="213.8" cy="707.4" r="3.9"/><circle cx="215.1" cy="707.1" r="3.9"/><circle cx="216.4" cy="710.6" r="3.9"/><circle cx="217.8" cy="711.8" r="3.9"/><circle cx="219.1" cy="706.9" r="3.9"/><circle cx="220.4" cy="708.2" r="3.9"/><circle cx="221.7" cy="714.3" r="3.9"/><circle cx="223.1" cy="714.4" r="3.9"/><circle cx="224.4" cy="709.6" r="3.9"/><circle cx="225.7" cy="708.9" r="3.9"/><circle cx="227.0" cy="710.4" r="3.9"/><circle cx="228.4" cy="710.9" r="3.9"/><circle cx="229.7" cy="708.4" r="3.9"/><circle cx="231.0" cy="712.3" r="3.9"/><circle cx="232.3" cy="709.1" r="3.9"/><circle cx="233.7" cy="709.1" r="3.9"/><circle cx="235.0" cy="713.9" r="3.9"/><circle cx="236.3" cy="709.8" r="3.9"/><circle cx="237.7" cy="710.9" r="3.9"/><circle cx="239.0" cy="712.2" r="3.9"/><circle cx="240.3" cy="712.1" r="3.9"/><circle cx="241.6" cy="708.8" r="3.9"/><circle cx="243.0" cy="709.1" r="3.9"/><circle cx="244.3" cy="706.4" r="3.9"/><circle cx="245.6" cy="711.8" r="3.9"/><circle cx="246.9" cy="708.5" r="3.9"/><circle cx="248.3" cy="703.5" r="3.9"/><circle cx="249.6" cy="705.3" r="3.9"/><circle cx="250.9" cy="706.2" r="3.9"/><circle cx="252.2" cy="704.8" r="3.9"/><circle cx="253.6" cy="707.3" r="3.9"/><circle cx="254.9" cy="705.3" r="3.9"/><circle cx="256.2" cy="699.9" r="3.9"/><circle cx="257.5" cy="700.2" r="3.9"/><circle cx="258.9" cy="696.6" r="3.9"/><circle cx="260.2" cy="699.5" r="3.9"/><circle cx="261.5" cy="698.6" r="3.9"/><circle cx="262.8" cy="704.0" r="3.9"/><circle cx="264.2" cy="697.1" r="3.9"/><circle cx="265.5" cy="691.3" r="3.9"/><circle cx="266.8" cy="694.2" r="3.9"/><circle cx="268.1" cy="695.6" r="3.9"/><circle cx="269.5" cy="692.0" r="3.9"/><circle cx="270.8" cy="692.6" r="3.9"/><circle cx="272.1" cy="693.5" r="3.9"/><circle cx="273.5" cy="695.1" r="3.9"/><circle cx="274.8" cy="693.7" r="3.9"/><circle cx="276.1" cy="692.0" r="3.9"/><circle cx="277.4" cy="696.0" r="3.9"/><circle cx="278.8" cy="693.0" r="3.9"/><circle cx="280.1" cy="693.3" r="3.9"/><circle cx="281.4" cy="691.4" r="3.9"/><circle cx="282.7" cy="693.2" r="3.9"/><circle cx="284.1" cy="697.0" r="3.9"/><circle cx="285.4" cy="692.0" r="3.9"/><circle cx="286.7" cy="696.3" r="3.9"/><circle cx="288.0" cy="698.7" r="3.9"/><circle cx="289.4" cy="696.7" r="3.9"/><circle cx="290.7" cy="698.9" r="3.9"/><circle cx="292.0" cy="696.3" r="3.9"/><circle cx="293.3" cy="702.9" r="3.9"/><circle cx="294.7" cy="703.1" r="3.9"/><circle cx="296.0" cy="701.8" r="3.9"/><circle cx="297.3" cy="697.9" r="3.9"/><circle cx="298.6" cy="700.4" r="3.9"/><circle cx="300.0" cy="706.0" r="3.9"/><circle cx="301.3" cy="708.6" r="3.9"/><circle cx="302.6" cy="705.9" r="3.9"/><circle cx="303.9" cy="709.0" r="3.9"/><circle cx="305.3" cy="705.3" r="3.9"/><circle cx="306.6" cy="707.0" r="3.9"/><circle cx="307.9" cy="708.1" r="3.9"/><circle cx="309.3" cy="709.7" r="3.9"/><circle cx="310.6" cy="705.6" r="3.9"/><circle cx="311.9" cy="712.0" r="3.9"/><circle cx="313.2" cy="713.4" r="3.9"/><circle cx="314.6" cy="707.9" r="3.9"/><circle cx="315.9" cy="707.7" r="3.9"/><circle cx="317.2" cy="712.1" r="3.9"/><circle cx="318.5" cy="709.8" r="3.9"/><circle cx="319.9" cy="705.9" r="3.9"/><circle cx="321.2" cy="713.5" r="3.9"/><circle cx="322.5" cy="711.9" r="3.9"/><circle cx="323.8" cy="710.3" r="3.9"/><circle cx="325.2" cy="716.4" r="3.9"/><circle cx="326.5" cy="711.4" r="3.9"/><circle cx="327.8" cy="709.0" r="3.9"/><circle cx="329.1" cy="710.7" r="3.9"/><circle cx="330.5" cy="707.5" r="3.9"/><circle cx="331.8" cy="707.7" r="3.9"/><circle cx="333.1" cy="709.9" r="3.9"/><circle cx="334.4" cy="707.1" r="3.9"/><circle cx="335.8" cy="706.7" r="3.9"/><circle cx="337.1" cy="711.1" r="3.9"/><circle cx="338.4" cy="708.5" r="3.9"/><circle cx="339.8" cy="707.6" r="3.9"/><circle cx="341.1" cy="706.2" r="3.9"/><circle cx="342.4" cy="705.3" r="3.9"/><circle cx="343.7" cy="706.9" r="3.9"/><circle cx="345.1" cy="702.6" r="3.9"/><circle cx="346.4" cy="706.3" r="3.9"/><circle cx="347.7" cy="698.8" r="3.9"/><circle cx="349.0" cy="699.7" r="3.9"/><circle cx="350.4" cy="696.3" r="3.9"/><circle cx="351.7" cy="698.1" r="3.9"/><circle cx="353.0" cy="699.5" r="3.9"/><circle cx="354.3" cy="701.2" r="3.9"/><circle cx="355.7" cy="695.5" r="3.9"/><circle cx="357.0" cy="696.6" r="3.9"/><circle cx="358.3" cy="695.3" r="3.9"/><circle cx="359.6" cy="694.0" r="3.9"/>
</g>
<g fill="#a271de" fill-opacity="0.07" stroke="#a271de" stroke-width="1.0">
<circle cx="71.0" cy="773.9" r="3.9"/><circle cx="72.3" cy="775.7" r="3.9"/><circle cx="73.7" cy="773.1" r="3.9"/><circle cx="75.0" cy="775.8" r="3.9"/><circle cx="76.3" cy="775.7" r="3.9"/><circle cx="77.6" cy="774.7" r="3.9"/><circle cx="79.0" cy="774.1" r="3.9"/><circle cx="80.3" cy="773.6" r="3.9"/><circle cx="81.6" cy="778.5" r="3.9"/><circle cx="83.0" cy="773.6" r="3.9"/><circle cx="84.3" cy="778.0" r="3.9"/><circle cx="85.6" cy="776.6" r="3.9"/><circle cx="86.9" cy="775.1" r="3.9"/><circle cx="88.3" cy="773.9" r="3.9"/><circle cx="89.6" cy="777.2" r="3.9"/><circle cx="90.9" cy="778.2" r="3.9"/><circle cx="92.2" cy="774.2" r="3.9"/><circle cx="93.6" cy="775.2" r="3.9"/><circle cx="101.1" cy="768.2" r="3.9"/><circle cx="102.4" cy="768.1" r="3.9"/><circle cx="103.7" cy="773.5" r="3.9"/><circle cx="105.0" cy="768.5" r="3.9"/><circle cx="106.4" cy="772.2" r="3.9"/><circle cx="107.7" cy="768.8" r="3.9"/><circle cx="109.0" cy="777.5" r="3.9"/><circle cx="110.4" cy="771.4" r="3.9"/><circle cx="111.7" cy="768.4" r="3.9"/><circle cx="113.0" cy="773.8" r="3.9"/><circle cx="114.3" cy="774.1" r="3.9"/><circle cx="115.7" cy="779.3" r="3.9"/><circle cx="117.0" cy="774.0" r="3.9"/><circle cx="118.3" cy="775.0" r="3.9"/><circle cx="119.6" cy="776.5" r="3.9"/><circle cx="121.0" cy="778.9" r="3.9"/><circle cx="122.3" cy="774.9" r="3.9"/><circle cx="123.6" cy="777.5" r="3.9"/><circle cx="124.9" cy="776.1" r="3.9"/><circle cx="126.3" cy="774.0" r="3.9"/><circle cx="127.6" cy="774.8" r="3.9"/><circle cx="128.9" cy="774.4" r="3.9"/><circle cx="130.2" cy="772.0" r="3.9"/><circle cx="131.6" cy="776.8" r="3.9"/><circle cx="132.9" cy="770.4" r="3.9"/><circle cx="134.2" cy="776.2" r="3.9"/><circle cx="135.5" cy="775.4" r="3.9"/><circle cx="136.9" cy="772.7" r="3.9"/><circle cx="138.2" cy="770.8" r="3.9"/><circle cx="139.5" cy="771.8" r="3.9"/><circle cx="140.9" cy="773.2" r="3.9"/><circle cx="142.2" cy="773.6" r="3.9"/><circle cx="143.5" cy="772.2" r="3.9"/><circle cx="144.8" cy="773.6" r="3.9"/><circle cx="146.2" cy="769.7" r="3.9"/><circle cx="147.5" cy="771.4" r="3.9"/><circle cx="148.8" cy="766.8" r="3.9"/><circle cx="150.1" cy="772.2" r="3.9"/><circle cx="151.5" cy="770.6" r="3.9"/><circle cx="152.8" cy="769.1" r="3.9"/><circle cx="154.1" cy="772.8" r="3.9"/><circle cx="155.4" cy="771.5" r="3.9"/><circle cx="156.8" cy="763.0" r="3.9"/><circle cx="158.1" cy="769.8" r="3.9"/><circle cx="159.4" cy="766.2" r="3.9"/><circle cx="160.7" cy="772.3" r="3.9"/><circle cx="162.1" cy="775.7" r="3.9"/><circle cx="163.4" cy="768.6" r="3.9"/><circle cx="164.7" cy="770.1" r="3.9"/><circle cx="166.0" cy="769.4" r="3.9"/><circle cx="167.4" cy="770.9" r="3.9"/><circle cx="168.7" cy="771.8" r="3.9"/><circle cx="170.0" cy="773.5" r="3.9"/><circle cx="171.3" cy="768.2" r="3.9"/><circle cx="172.7" cy="774.6" r="3.9"/><circle cx="174.0" cy="768.8" r="3.9"/><circle cx="175.3" cy="771.9" r="3.9"/><circle cx="176.7" cy="774.3" r="3.9"/><circle cx="178.0" cy="773.5" r="3.9"/><circle cx="179.3" cy="769.8" r="3.9"/><circle cx="180.6" cy="770.7" r="3.9"/><circle cx="182.0" cy="771.5" r="3.9"/><circle cx="183.3" cy="772.8" r="3.9"/><circle cx="184.6" cy="776.0" r="3.9"/><circle cx="185.9" cy="770.4" r="3.9"/><circle cx="187.3" cy="775.0" r="3.9"/><circle cx="188.6" cy="775.6" r="3.9"/><circle cx="189.9" cy="775.7" r="3.9"/><circle cx="191.2" cy="775.8" r="3.9"/><circle cx="192.6" cy="778.6" r="3.9"/><circle cx="193.9" cy="776.3" r="3.9"/><circle cx="195.2" cy="777.4" r="3.9"/><circle cx="196.5" cy="776.9" r="3.9"/><circle cx="197.9" cy="780.1" r="3.9"/><circle cx="199.2" cy="771.4" r="3.9"/><circle cx="200.5" cy="779.2" r="3.9"/><circle cx="201.8" cy="775.6" r="3.9"/><circle cx="203.2" cy="775.6" r="3.9"/><circle cx="204.5" cy="774.1" r="3.9"/><circle cx="205.8" cy="772.0" r="3.9"/><circle cx="207.2" cy="775.6" r="3.9"/><circle cx="208.5" cy="774.8" r="3.9"/><circle cx="209.8" cy="777.6" r="3.9"/><circle cx="211.1" cy="772.9" r="3.9"/><circle cx="212.5" cy="779.8" r="3.9"/><circle cx="213.8" cy="776.9" r="3.9"/><circle cx="215.1" cy="775.5" r="3.9"/><circle cx="216.4" cy="774.3" r="3.9"/><circle cx="217.8" cy="773.9" r="3.9"/><circle cx="219.1" cy="772.9" r="3.9"/><circle cx="220.4" cy="774.1" r="3.9"/><circle cx="221.7" cy="775.2" r="3.9"/><circle cx="223.1" cy="774.5" r="3.9"/><circle cx="224.4" cy="771.3" r="3.9"/><circle cx="225.7" cy="773.8" r="3.9"/><circle cx="227.0" cy="772.0" r="3.9"/><circle cx="228.4" cy="774.3" r="3.9"/><circle cx="229.7" cy="778.1" r="3.9"/><circle cx="231.0" cy="774.8" r="3.9"/><circle cx="232.3" cy="772.3" r="3.9"/><circle cx="233.7" cy="768.9" r="3.9"/><circle cx="235.0" cy="769.1" r="3.9"/><circle cx="236.3" cy="768.2" r="3.9"/><circle cx="237.7" cy="773.7" r="3.9"/><circle cx="239.0" cy="769.8" r="3.9"/><circle cx="240.3" cy="771.6" r="3.9"/><circle cx="241.6" cy="769.7" r="3.9"/><circle cx="243.0" cy="771.2" r="3.9"/><circle cx="244.3" cy="774.1" r="3.9"/><circle cx="245.6" cy="768.9" r="3.9"/><circle cx="246.9" cy="769.6" r="3.9"/><circle cx="248.3" cy="768.3" r="3.9"/><circle cx="249.6" cy="772.3" r="3.9"/><circle cx="250.9" cy="767.6" r="3.9"/><circle cx="252.2" cy="767.3" r="3.9"/><circle cx="253.6" cy="766.6" r="3.9"/><circle cx="254.9" cy="766.5" r="3.9"/><circle cx="256.2" cy="771.0" r="3.9"/><circle cx="257.5" cy="776.1" r="3.9"/><circle cx="258.9" cy="767.6" r="3.9"/><circle cx="260.2" cy="772.3" r="3.9"/><circle cx="261.5" cy="770.7" r="3.9"/><circle cx="262.8" cy="767.6" r="3.9"/><circle cx="264.2" cy="769.7" r="3.9"/><circle cx="265.5" cy="770.0" r="3.9"/><circle cx="266.8" cy="769.1" r="3.9"/><circle cx="268.1" cy="775.6" r="3.9"/><circle cx="269.5" cy="766.6" r="3.9"/><circle cx="270.8" cy="772.3" r="3.9"/><circle cx="272.1" cy="772.4" r="3.9"/><circle cx="273.5" cy="770.5" r="3.9"/><circle cx="274.8" cy="772.5" r="3.9"/><circle cx="276.1" cy="774.5" r="3.9"/><circle cx="277.4" cy="773.1" r="3.9"/><circle cx="278.8" cy="774.0" r="3.9"/><circle cx="280.1" cy="774.9" r="3.9"/><circle cx="281.4" cy="768.6" r="3.9"/><circle cx="282.7" cy="777.3" r="3.9"/><circle cx="284.1" cy="779.5" r="3.9"/><circle cx="285.4" cy="776.7" r="3.9"/><circle cx="286.7" cy="777.0" r="3.9"/><circle cx="288.0" cy="771.4" r="3.9"/><circle cx="289.4" cy="774.8" r="3.9"/><circle cx="290.7" cy="773.3" r="3.9"/><circle cx="292.0" cy="774.1" r="3.9"/><circle cx="293.3" cy="778.0" r="3.9"/><circle cx="294.7" cy="773.9" r="3.9"/><circle cx="296.0" cy="775.6" r="3.9"/><circle cx="297.3" cy="771.5" r="3.9"/><circle cx="298.6" cy="775.8" r="3.9"/><circle cx="300.0" cy="776.4" r="3.9"/><circle cx="301.3" cy="774.6" r="3.9"/><circle cx="302.6" cy="774.6" r="3.9"/><circle cx="303.9" cy="780.8" r="3.9"/><circle cx="305.3" cy="773.4" r="3.9"/><circle cx="306.6" cy="773.7" r="3.9"/><circle cx="307.9" cy="774.2" r="3.9"/><circle cx="309.3" cy="779.0" r="3.9"/><circle cx="310.6" cy="781.0" r="3.9"/><circle cx="311.9" cy="776.6" r="3.9"/><circle cx="313.2" cy="773.9" r="3.9"/><circle cx="314.6" cy="774.5" r="3.9"/><circle cx="315.9" cy="777.9" r="3.9"/><circle cx="317.2" cy="772.9" r="3.9"/><circle cx="318.5" cy="778.4" r="3.9"/><circle cx="319.9" cy="778.0" r="3.9"/><circle cx="321.2" cy="774.6" r="3.9"/><circle cx="322.5" cy="775.7" r="3.9"/><circle cx="323.8" cy="775.7" r="3.9"/><circle cx="325.2" cy="777.3" r="3.9"/><circle cx="326.5" cy="770.8" r="3.9"/><circle cx="327.8" cy="775.9" r="3.9"/><circle cx="329.1" cy="771.9" r="3.9"/><circle cx="330.5" cy="770.7" r="3.9"/><circle cx="331.8" cy="772.5" r="3.9"/><circle cx="333.1" cy="771.5" r="3.9"/><circle cx="334.4" cy="769.4" r="3.9"/><circle cx="335.8" cy="767.7" r="3.9"/><circle cx="337.1" cy="769.0" r="3.9"/><circle cx="338.4" cy="774.6" r="3.9"/><circle cx="339.8" cy="775.6" r="3.9"/><circle cx="341.1" cy="772.3" r="3.9"/><circle cx="342.4" cy="773.4" r="3.9"/><circle cx="343.7" cy="769.2" r="3.9"/><circle cx="345.1" cy="770.1" r="3.9"/><circle cx="346.4" cy="770.9" r="3.9"/><circle cx="347.7" cy="767.6" r="3.9"/><circle cx="349.0" cy="767.7" r="3.9"/><circle cx="350.4" cy="770.3" r="3.9"/><circle cx="351.7" cy="769.3" r="3.9"/><circle cx="353.0" cy="767.5" r="3.9"/><circle cx="354.3" cy="771.1" r="3.9"/><circle cx="355.7" cy="769.6" r="3.9"/><circle cx="357.0" cy="772.8" r="3.9"/><circle cx="358.3" cy="770.4" r="3.9"/><circle cx="359.6" cy="769.8" r="3.9"/>
</g>
<g fill="#b85dca" fill-opacity="0.07" stroke="#b85dca" stroke-width="1.0">
<circle cx="71.0" cy="843.7" r="3.9"/><circle cx="72.3" cy="843.3" r="3.9"/><circle cx="73.7" cy="842.7" r="3.9"/><circle cx="75.0" cy="843.0" r="3.9"/><circle cx="76.3" cy="844.4" r="3.9"/><circle cx="77.6" cy="844.3" r="3.9"/><circle cx="79.0" cy="845.0" r="3.9"/><circle cx="80.3" cy="841.5" r="3.9"/><circle cx="81.6" cy="843.0" r="3.9"/><circle cx="83.0" cy="843.0" r="3.9"/><circle cx="84.3" cy="843.7" r="3.9"/><circle cx="85.6" cy="843.0" r="3.9"/><circle cx="86.9" cy="842.9" r="3.9"/><circle cx="88.3" cy="844.4" r="3.9"/><circle cx="89.6" cy="843.7" r="3.9"/><circle cx="90.9" cy="842.1" r="3.9"/><circle cx="92.2" cy="845.1" r="3.9"/><circle cx="93.6" cy="844.7" r="3.9"/><circle cx="101.1" cy="839.9" r="3.9"/><circle cx="102.4" cy="843.9" r="3.9"/><circle cx="103.7" cy="840.5" r="3.9"/><circle cx="105.0" cy="845.2" r="3.9"/><circle cx="106.4" cy="841.9" r="3.9"/><circle cx="107.7" cy="840.3" r="3.9"/><circle cx="109.0" cy="841.0" r="3.9"/><circle cx="110.4" cy="839.5" r="3.9"/><circle cx="111.7" cy="841.3" r="3.9"/><circle cx="113.0" cy="840.6" r="3.9"/><circle cx="114.3" cy="839.5" r="3.9"/><circle cx="115.7" cy="837.4" r="3.9"/><circle cx="117.0" cy="829.1" r="3.9"/><circle cx="118.3" cy="837.3" r="3.9"/><circle cx="119.6" cy="831.7" r="3.9"/><circle cx="121.0" cy="836.1" r="3.9"/><circle cx="122.3" cy="837.4" r="3.9"/><circle cx="123.6" cy="834.6" r="3.9"/><circle cx="124.9" cy="832.3" r="3.9"/><circle cx="126.3" cy="832.2" r="3.9"/><circle cx="127.6" cy="831.7" r="3.9"/><circle cx="128.9" cy="830.1" r="3.9"/><circle cx="130.2" cy="829.6" r="3.9"/><circle cx="131.6" cy="828.4" r="3.9"/><circle cx="132.9" cy="833.1" r="3.9"/><circle cx="134.2" cy="830.0" r="3.9"/><circle cx="135.5" cy="832.2" r="3.9"/><circle cx="136.9" cy="829.2" r="3.9"/><circle cx="138.2" cy="830.0" r="3.9"/><circle cx="139.5" cy="829.5" r="3.9"/><circle cx="140.9" cy="831.2" r="3.9"/><circle cx="142.2" cy="832.4" r="3.9"/><circle cx="143.5" cy="831.3" r="3.9"/><circle cx="144.8" cy="829.5" r="3.9"/><circle cx="146.2" cy="829.8" r="3.9"/><circle cx="147.5" cy="836.2" r="3.9"/><circle cx="148.8" cy="832.2" r="3.9"/><circle cx="150.1" cy="832.9" r="3.9"/><circle cx="151.5" cy="837.9" r="3.9"/><circle cx="152.8" cy="837.8" r="3.9"/><circle cx="154.1" cy="837.3" r="3.9"/><circle cx="155.4" cy="835.9" r="3.9"/><circle cx="156.8" cy="843.5" r="3.9"/><circle cx="158.1" cy="839.7" r="3.9"/><circle cx="159.4" cy="841.0" r="3.9"/><circle cx="160.7" cy="840.3" r="3.9"/><circle cx="162.1" cy="838.3" r="3.9"/><circle cx="163.4" cy="839.4" r="3.9"/><circle cx="164.7" cy="844.5" r="3.9"/><circle cx="166.0" cy="845.4" r="3.9"/><circle cx="167.4" cy="844.8" r="3.9"/><circle cx="168.7" cy="843.4" r="3.9"/><circle cx="170.0" cy="843.6" r="3.9"/><circle cx="171.3" cy="847.0" r="3.9"/><circle cx="172.7" cy="845.0" r="3.9"/><circle cx="174.0" cy="851.3" r="3.9"/><circle cx="175.3" cy="852.5" r="3.9"/><circle cx="176.7" cy="857.1" r="3.9"/><circle cx="178.0" cy="852.9" r="3.9"/><circle cx="179.3" cy="849.7" r="3.9"/><circle cx="180.6" cy="849.3" r="3.9"/><circle cx="182.0" cy="843.4" r="3.9"/><circle cx="183.3" cy="850.4" r="3.9"/><circle cx="184.6" cy="851.4" r="3.9"/><circle cx="185.9" cy="854.2" r="3.9"/><circle cx="187.3" cy="853.2" r="3.9"/><circle cx="188.6" cy="853.0" r="3.9"/><circle cx="189.9" cy="851.8" r="3.9"/><circle cx="191.2" cy="852.6" r="3.9"/><circle cx="192.6" cy="854.1" r="3.9"/><circle cx="193.9" cy="847.6" r="3.9"/><circle cx="195.2" cy="848.5" r="3.9"/><circle cx="196.5" cy="845.7" r="3.9"/><circle cx="197.9" cy="852.2" r="3.9"/><circle cx="199.2" cy="850.8" r="3.9"/><circle cx="200.5" cy="848.7" r="3.9"/><circle cx="201.8" cy="843.3" r="3.9"/><circle cx="203.2" cy="845.8" r="3.9"/><circle cx="204.5" cy="843.9" r="3.9"/><circle cx="205.8" cy="843.9" r="3.9"/><circle cx="207.2" cy="842.3" r="3.9"/><circle cx="208.5" cy="843.2" r="3.9"/><circle cx="209.8" cy="840.1" r="3.9"/><circle cx="211.1" cy="842.3" r="3.9"/><circle cx="212.5" cy="840.0" r="3.9"/><circle cx="213.8" cy="837.8" r="3.9"/><circle cx="215.1" cy="837.5" r="3.9"/><circle cx="216.4" cy="835.9" r="3.9"/><circle cx="217.8" cy="838.2" r="3.9"/><circle cx="219.1" cy="835.0" r="3.9"/><circle cx="220.4" cy="835.7" r="3.9"/><circle cx="221.7" cy="833.5" r="3.9"/><circle cx="223.1" cy="830.3" r="3.9"/><circle cx="224.4" cy="835.6" r="3.9"/><circle cx="225.7" cy="830.5" r="3.9"/><circle cx="227.0" cy="834.4" r="3.9"/><circle cx="228.4" cy="833.5" r="3.9"/><circle cx="229.7" cy="828.3" r="3.9"/><circle cx="231.0" cy="830.0" r="3.9"/><circle cx="232.3" cy="831.0" r="3.9"/><circle cx="233.7" cy="830.3" r="3.9"/><circle cx="235.0" cy="829.5" r="3.9"/><circle cx="236.3" cy="834.3" r="3.9"/><circle cx="237.7" cy="832.2" r="3.9"/><circle cx="239.0" cy="834.0" r="3.9"/><circle cx="240.3" cy="832.4" r="3.9"/><circle cx="241.6" cy="834.6" r="3.9"/><circle cx="243.0" cy="832.6" r="3.9"/><circle cx="244.3" cy="834.9" r="3.9"/><circle cx="245.6" cy="836.9" r="3.9"/><circle cx="246.9" cy="836.3" r="3.9"/><circle cx="248.3" cy="835.8" r="3.9"/><circle cx="249.6" cy="835.0" r="3.9"/><circle cx="250.9" cy="838.7" r="3.9"/><circle cx="252.2" cy="839.9" r="3.9"/><circle cx="253.6" cy="839.2" r="3.9"/><circle cx="254.9" cy="838.7" r="3.9"/><circle cx="256.2" cy="842.7" r="3.9"/><circle cx="257.5" cy="848.1" r="3.9"/><circle cx="258.9" cy="842.2" r="3.9"/><circle cx="260.2" cy="844.5" r="3.9"/><circle cx="261.5" cy="845.3" r="3.9"/><circle cx="262.8" cy="838.9" r="3.9"/><circle cx="264.2" cy="846.1" r="3.9"/><circle cx="265.5" cy="844.7" r="3.9"/><circle cx="266.8" cy="850.3" r="3.9"/><circle cx="268.1" cy="846.9" r="3.9"/><circle cx="269.5" cy="846.2" r="3.9"/><circle cx="270.8" cy="847.9" r="3.9"/><circle cx="272.1" cy="849.3" r="3.9"/><circle cx="273.5" cy="847.8" r="3.9"/><circle cx="274.8" cy="849.3" r="3.9"/><circle cx="276.1" cy="846.4" r="3.9"/><circle cx="277.4" cy="849.2" r="3.9"/><circle cx="278.8" cy="851.7" r="3.9"/><circle cx="280.1" cy="854.6" r="3.9"/><circle cx="281.4" cy="851.5" r="3.9"/><circle cx="282.7" cy="850.3" r="3.9"/><circle cx="284.1" cy="852.3" r="3.9"/><circle cx="285.4" cy="851.7" r="3.9"/><circle cx="286.7" cy="852.9" r="3.9"/><circle cx="288.0" cy="851.2" r="3.9"/><circle cx="289.4" cy="847.9" r="3.9"/><circle cx="290.7" cy="848.3" r="3.9"/><circle cx="292.0" cy="847.6" r="3.9"/><circle cx="293.3" cy="847.4" r="3.9"/><circle cx="294.7" cy="846.6" r="3.9"/><circle cx="296.0" cy="843.6" r="3.9"/><circle cx="297.3" cy="839.8" r="3.9"/><circle cx="298.6" cy="842.5" r="3.9"/><circle cx="300.0" cy="838.6" r="3.9"/><circle cx="301.3" cy="842.9" r="3.9"/><circle cx="302.6" cy="842.1" r="3.9"/><circle cx="303.9" cy="837.4" r="3.9"/><circle cx="305.3" cy="842.3" r="3.9"/><circle cx="306.6" cy="842.1" r="3.9"/><circle cx="307.9" cy="839.6" r="3.9"/><circle cx="309.3" cy="842.7" r="3.9"/><circle cx="310.6" cy="842.6" r="3.9"/><circle cx="311.9" cy="834.6" r="3.9"/><circle cx="313.2" cy="839.4" r="3.9"/><circle cx="314.6" cy="837.5" r="3.9"/><circle cx="315.9" cy="836.9" r="3.9"/><circle cx="317.2" cy="837.7" r="3.9"/><circle cx="318.5" cy="833.4" r="3.9"/><circle cx="319.9" cy="833.4" r="3.9"/><circle cx="321.2" cy="832.5" r="3.9"/><circle cx="322.5" cy="832.5" r="3.9"/><circle cx="323.8" cy="833.9" r="3.9"/><circle cx="325.2" cy="830.5" r="3.9"/><circle cx="326.5" cy="831.5" r="3.9"/><circle cx="327.8" cy="835.4" r="3.9"/><circle cx="329.1" cy="833.9" r="3.9"/><circle cx="330.5" cy="835.1" r="3.9"/><circle cx="331.8" cy="829.8" r="3.9"/><circle cx="333.1" cy="832.7" r="3.9"/><circle cx="334.4" cy="833.6" r="3.9"/><circle cx="335.8" cy="835.3" r="3.9"/><circle cx="337.1" cy="834.2" r="3.9"/><circle cx="338.4" cy="838.3" r="3.9"/><circle cx="339.8" cy="836.4" r="3.9"/><circle cx="341.1" cy="837.1" r="3.9"/><circle cx="342.4" cy="837.6" r="3.9"/><circle cx="343.7" cy="839.8" r="3.9"/><circle cx="345.1" cy="837.6" r="3.9"/><circle cx="346.4" cy="842.0" r="3.9"/><circle cx="347.7" cy="841.0" r="3.9"/><circle cx="349.0" cy="840.9" r="3.9"/><circle cx="350.4" cy="841.3" r="3.9"/><circle cx="351.7" cy="843.1" r="3.9"/><circle cx="353.0" cy="844.9" r="3.9"/><circle cx="354.3" cy="845.3" r="3.9"/><circle cx="355.7" cy="844.5" r="3.9"/><circle cx="357.0" cy="846.3" r="3.9"/><circle cx="358.3" cy="845.0" r="3.9"/><circle cx="359.6" cy="848.3" r="3.9"/>
</g>
<g fill="none" stroke-width="1.1">
<circle cx="100.2" cy="36.2" r="3.9" stroke="#d69c6b"/>
<circle cx="100.5" cy="43.7" r="3.9" stroke="#d69c6b"/>
<circle cx="97.5" cy="54.4" r="3.9" stroke="#96bd6d"/>
<circle cx="98.5" cy="69.8" r="3.9" stroke="#96bd6d"/>
<circle cx="99.5" cy="76.8" r="3.9" stroke="#96bd6d"/>
<circle cx="97.5" cy="121.5" r="3.9" stroke="#75bd6f"/>
<circle cx="100" cy="170" r="3.9" stroke="#75bd6f"/>
<circle cx="102" cy="174" r="3.9" stroke="#75bd6f"/>
<circle cx="98" cy="250.3" r="3.9" stroke="#75bd6f"/>
<circle cx="98" cy="269" r="3.9" stroke="#759ed9"/>
<circle cx="99" cy="300" r="3.9" stroke="#6bbd80"/>
<circle cx="100" cy="303" r="3.9" stroke="#6bbd80"/>
<circle cx="98" cy="333.3" r="3.9" stroke="#759ed9"/>
<circle cx="98" cy="355" r="3.9" stroke="#759ed9"/>
<circle cx="98" cy="372.2" r="3.9" stroke="#6ab3bc"/>
<circle cx="102" cy="382.2" r="3.9" stroke="#6bbd80"/>
<circle cx="100.4" cy="417.3" r="3.9" stroke="#759ed9"/>
<circle cx="97.9" cy="544.8" r="3.9" stroke="#a97be0"/>
<circle cx="99.9" cy="600.3" r="3.9" stroke="#a97be0"/>
<circle cx="102.4" cy="607.8" r="3.9" stroke="#a97be0"/>
<circle cx="98" cy="708.2" r="3.9" stroke="#bd69ce"/>
<circle cx="98" cy="737.8" r="3.9" stroke="#a97be0"/>
<circle cx="101" cy="761.1" r="3.9" stroke="#bd69ce"/>
<circle cx="103" cy="781.3" r="3.9" stroke="#a97be0"/>
</g>
<path d="M121.4,73.6 L122.3,73.5 L123.2,73.4 L124.1,73.3 L124.9,73.2 L125.8,73.1 L126.7,72.9 L127.6,72.8 L128.5,72.6 L129.4,72.5 L130.2,72.3 L131.1,72.2 L132.0,72.0 L132.9,71.8 L133.8,71.7 L134.7,71.5 L135.5,71.3 L136.4,71.1 L137.3,71.0 L138.2,70.8 L139.1,70.6 L140.0,70.4 L140.9,70.3 L141.7,70.1 L142.6,69.9 L143.5,69.8 L144.4,69.6 L145.3,69.5 L146.2,69.3 L147.0,69.2 L147.9,69.1 L148.8,68.9 L149.7,68.8 L150.6,68.7 L151.5,68.6 L152.3,68.5 L153.2,68.4 L154.1,68.4 L155.0,68.3 L155.9,68.2 L156.8,68.2 L157.6,68.2 L158.5,68.1 L159.4,68.1 L160.3,68.1 L161.2,68.1 L162.1,68.1 L163.0,68.2 L163.8,68.2 L164.7,68.3 L165.6,68.3 L166.5,68.4 L167.4,68.5 L168.3,68.5 L169.1,68.6 L170.0,68.7 L170.9,68.8 L171.8,69.0 L172.7,69.1 L173.6,69.2 L174.4,69.4 L175.3,69.5 L176.2,69.6 L177.1,69.8 L178.0,70.0 L178.9,70.1 L179.7,70.3 L180.6,70.5 L181.5,70.6 L182.4,70.8 L183.3,71.0 L184.2,71.1 L185.1,71.3 L185.9,71.5 L186.8,71.6 L187.7,71.8 L188.6,72.0 L189.5,72.1 L190.4,72.3 L191.2,72.4 L192.1,72.6 L193.0,72.7 L193.9,72.9 L194.8,73.0 L195.7,73.1 L196.5,73.2 L197.4,73.3 L198.3,73.4 L199.2,73.5 L200.1,73.6 L201.0,73.7 L201.8,73.7 L202.7,73.8 L203.6,73.8 L204.5,73.9 L205.4,73.9 L206.3,73.9 L207.2,73.9 L208.0,73.9 L208.9,73.9 L209.8,73.9 L210.7,73.8 L211.6,73.8 L212.5,73.7 L213.3,73.7 L214.2,73.6 L215.1,73.5 L216.0,73.4 L216.9,73.3 L217.8,73.2 L218.6,73.1 L219.5,73.0 L220.4,72.8 L221.3,72.7 L222.2,72.6 L223.1,72.4 L223.9,72.3 L224.8,72.1 L225.7,72.0 L226.6,71.8 L227.5,71.6 L228.4,71.5 L229.3,71.3 L230.1,71.1 L231.0,71.0 L231.9,70.8 L232.8,70.6 L233.7,70.5 L234.6,70.3 L235.4,70.1 L236.3,70.0 L237.2,69.8 L238.1,69.7 L239.0,69.6 L239.9,69.4 L240.7,69.3 L241.6,69.2 L242.5,69.0 L243.4,68.9 L244.3,68.8 L245.2,68.7 L246.0,68.6 L246.9,68.6 L247.8,68.5 L248.7,68.4 L249.6,68.4 L250.5,68.3 L251.4,68.3 L252.2,68.3 L253.1,68.3 L254.0,68.3 L254.9,68.3 L255.8,68.3 L256.7,68.3 L257.5,68.4 L258.4,68.4 L259.3,68.5 L260.2,68.5 L261.1,68.6 L262.0,68.7 L262.8,68.8 L263.7,68.9 L264.6,69.0 L265.5,69.1 L266.4,69.2 L267.3,69.3 L268.1,69.4 L269.0,69.6 L269.9,69.7 L270.8,69.9 L271.7,70.0 L272.6,70.2 L273.5,70.3 L274.3,70.5 L275.2,70.6 L276.1,70.8 L277.0,71.0 L277.9,71.1 L278.8,71.3 L279.6,71.5 L280.5,71.6 L281.4,71.8 L282.3,71.9 L283.2,72.1 L284.1,72.2 L284.9,72.4 L285.8,72.5 L286.7,72.6 L287.6,72.8 L288.5,72.9 L289.4,73.0 L290.2,73.1 L291.1,73.2 L292.0,73.3 L292.9,73.4 L293.8,73.5 L294.7,73.5 L295.6,73.6 L296.4,73.6 L297.3,73.7 L298.2,73.7 L299.1,73.7 L300.0,73.8 L300.9,73.8 L301.7,73.8 L302.6,73.7 L303.5,73.7 L304.4,73.7 L305.3,73.6 L306.2,73.6 L307.0,73.5 L307.9,73.5 L308.8,73.4 L309.7,73.3 L310.6,73.2 L311.5,73.1 L312.3,73.0 L313.2,72.9 L314.1,72.7 L315.0,72.6 L315.9,72.5 L316.8,72.3 L317.7,72.2 L318.5,72.1 L319.4,71.9 L320.3,71.8 L321.2,71.6 L322.1,71.4 L323.0,71.3 L323.8,71.1 L324.7,71.0 L325.6,70.8 L326.5,70.7 L327.4,70.5 L328.3,70.3 L329.1,70.2 L330.0,70.0 L330.9,69.9 L331.8,69.8 L332.7,69.6 L333.6,69.5 L334.4,69.4 L335.3,69.3 L336.2,69.1 L337.1,69.0 L338.0,68.9 L338.9,68.9 L339.8,68.8 L340.6,68.7 L341.5,68.6 L342.4,68.6 L343.3,68.5 L344.2,68.5 L345.1,68.4 L345.9,68.4 L346.8,68.4 L347.7,68.4 L348.6,68.4 L349.5,68.4 L350.4,68.5 L351.2,68.5 L352.1,68.5 L353.0,68.6 L353.9,68.6 L354.8,68.7 L355.7,68.8 L356.5,68.9 L357.4,69.0 L358.3,69.1 L359.2,69.2" fill="none" stroke="#d42a1e" stroke-width="5.8" stroke-linecap="round" stroke-linejoin="round"/>
<path d="M121.4,149.9 L122.3,150.8 L123.2,151.7 L124.1,152.6 L124.9,153.4 L125.8,154.1 L126.7,154.8 L127.6,155.5 L128.5,156.1 L129.4,156.7 L130.2,157.2 L131.1,157.6 L132.0,158.0 L132.9,158.3 L133.8,158.5 L134.7,158.7 L135.5,158.8 L136.4,158.8 L137.3,158.8 L138.2,158.7 L139.1,158.6 L140.0,158.4 L140.9,158.1 L141.7,157.7 L142.6,157.3 L143.5,156.9 L144.4,156.4 L145.3,155.8 L146.2,155.2 L147.0,154.5 L147.9,153.8 L148.8,153.0 L149.7,152.2 L150.6,151.3 L151.5,150.5 L152.3,149.5 L153.2,148.6 L154.1,147.6 L155.0,146.6 L155.9,145.6 L156.8,144.6 L157.6,143.6 L158.5,142.5 L159.4,141.5 L160.3,140.4 L161.2,139.4 L162.1,138.3 L163.0,137.3 L163.8,136.3 L164.7,135.3 L165.6,134.4 L166.5,133.5 L167.4,132.6 L168.3,131.7 L169.1,130.9 L170.0,130.1 L170.9,129.3 L171.8,128.6 L172.7,128.0 L173.6,127.4 L174.4,126.9 L175.3,126.4 L176.2,125.9 L177.1,125.5 L178.0,125.2 L178.9,125.0 L179.7,124.8 L180.6,124.6 L181.5,124.6 L182.4,124.5 L183.3,124.6 L184.2,124.7 L185.1,124.9 L185.9,125.1 L186.8,125.4 L187.7,125.8 L188.6,126.2 L189.5,126.6 L190.4,127.1 L191.2,127.7 L192.1,128.3 L193.0,129.0 L193.9,129.7 L194.8,130.4 L195.7,131.2 L196.5,132.0 L197.4,132.9 L198.3,133.8 L199.2,134.7 L200.1,135.6 L201.0,136.6 L201.8,137.5 L202.7,138.5 L203.6,139.5 L204.5,140.5 L205.4,141.4 L206.3,142.4 L207.2,143.4 L208.0,144.4 L208.9,145.3 L209.8,146.3 L210.7,147.2 L211.6,148.1 L212.5,148.9 L213.3,149.8 L214.2,150.6 L215.1,151.3 L216.0,152.1 L216.9,152.7 L217.8,153.4 L218.6,154.0 L219.5,154.5 L220.4,155.0 L221.3,155.4 L222.2,155.8 L223.1,156.1 L223.9,156.4 L224.8,156.6 L225.7,156.8 L226.6,156.9 L227.5,156.9 L228.4,156.9 L229.3,156.8 L230.1,156.7 L231.0,156.5 L231.9,156.3 L232.8,156.0 L233.7,155.6 L234.6,155.2 L235.4,154.7 L236.3,154.2 L237.2,153.7 L238.1,153.1 L239.0,152.4 L239.9,151.7 L240.7,151.0 L241.6,150.2 L242.5,149.5 L243.4,148.6 L244.3,147.8 L245.2,146.9 L246.0,146.0 L246.9,145.1 L247.8,144.2 L248.7,143.3 L249.6,142.4 L250.5,141.4 L251.4,140.5 L252.2,139.6 L253.1,138.7 L254.0,137.7 L254.9,136.9 L255.8,136.0 L256.7,135.1 L257.5,134.3 L258.4,133.5 L259.3,132.7 L260.2,132.0 L261.1,131.3 L262.0,130.6 L262.8,130.0 L263.7,129.4 L264.6,128.9 L265.5,128.4 L266.4,128.0 L267.3,127.6 L268.1,127.2 L269.0,127.0 L269.9,126.7 L270.8,126.5 L271.7,126.4 L272.6,126.4 L273.5,126.3 L274.3,126.4 L275.2,126.5 L276.1,126.6 L277.0,126.9 L277.9,127.1 L278.8,127.4 L279.6,127.8 L280.5,128.2 L281.4,128.7 L282.3,129.2 L283.2,129.7 L284.1,130.3 L284.9,130.9 L285.8,131.6 L286.7,132.3 L287.6,133.0 L288.5,133.8 L289.4,134.6 L290.2,135.4 L291.1,136.2 L292.0,137.1 L292.9,137.9 L293.8,138.8 L294.7,139.7 L295.6,140.5 L296.4,141.4 L297.3,142.3 L298.2,143.2 L299.1,144.0 L300.0,144.9 L300.9,145.7 L301.7,146.5 L302.6,147.3 L303.5,148.1 L304.4,148.8 L305.3,149.6 L306.2,150.2 L307.0,150.9 L307.9,151.5 L308.8,152.1 L309.7,152.6 L310.6,153.1 L311.5,153.5 L312.3,153.9 L313.2,154.2 L314.1,154.5 L315.0,154.8 L315.9,155.0 L316.8,155.1 L317.7,155.2 L318.5,155.2 L319.4,155.2 L320.3,155.1 L321.2,155.0 L322.1,154.9 L323.0,154.6 L323.8,154.4 L324.7,154.0 L325.6,153.7 L326.5,153.3 L327.4,152.8 L328.3,152.3 L329.1,151.8 L330.0,151.2 L330.9,150.6 L331.8,149.9 L332.7,149.3 L333.6,148.6 L334.4,147.8 L335.3,147.1 L336.2,146.3 L337.1,145.5 L338.0,144.7 L338.9,143.9 L339.8,143.1 L340.6,142.2 L341.5,141.4 L342.4,140.6 L343.3,139.8 L344.2,138.9 L345.1,138.1 L345.9,137.3 L346.8,136.5 L347.7,135.8 L348.6,135.0 L349.5,134.3 L350.4,133.6 L351.2,133.0 L352.1,132.4 L353.0,131.8 L353.9,131.2 L354.8,130.7 L355.7,130.2 L356.5,129.8 L357.4,129.4 L358.3,129.0 L359.2,128.7" fill="none" stroke="#c0661c" stroke-width="5.8" stroke-linecap="round" stroke-linejoin="round"/>
<path d="M121.4,210.3 L122.3,210.4 L123.2,210.5 L124.1,210.6 L124.9,210.7 L125.8,210.8 L126.7,210.9 L127.6,211.0 L128.5,211.1 L129.4,211.2 L130.2,211.3 L131.1,211.4 L132.0,211.5 L132.9,211.5 L133.8,211.6 L134.7,211.6 L135.5,211.7 L136.4,211.7 L137.3,211.8 L138.2,211.8 L139.1,211.8 L140.0,211.8 L140.9,211.8 L141.7,211.8 L142.6,211.8 L143.5,211.8 L144.4,211.8 L145.3,211.8 L146.2,211.7 L147.0,211.7 L147.9,211.6 L148.8,211.6 L149.7,211.5 L150.6,211.4 L151.5,211.4 L152.3,211.3 L153.2,211.2 L154.1,211.1 L155.0,211.0 L155.9,210.9 L156.8,210.8 L157.6,210.7 L158.5,210.6 L159.4,210.5 L160.3,210.4 L161.2,210.3 L162.1,210.2 L163.0,210.1 L163.8,209.9 L164.7,209.8 L165.6,209.7 L166.5,209.6 L167.4,209.5 L168.3,209.4 L169.1,209.2 L170.0,209.1 L170.9,209.0 L171.8,208.9 L172.7,208.8 L173.6,208.7 L174.4,208.6 L175.3,208.6 L176.2,208.5 L177.1,208.4 L178.0,208.3 L178.9,208.3 L179.7,208.2 L180.6,208.1 L181.5,208.1 L182.4,208.0 L183.3,208.0 L184.2,208.0 L185.1,208.0 L185.9,207.9 L186.8,207.9 L187.7,207.9 L188.6,207.9 L189.5,207.9 L190.4,208.0 L191.2,208.0 L192.1,208.0 L193.0,208.1 L193.9,208.1 L194.8,208.1 L195.7,208.2 L196.5,208.3 L197.4,208.3 L198.3,208.4 L199.2,208.5 L200.1,208.6 L201.0,208.7 L201.8,208.8 L202.7,208.8 L203.6,208.9 L204.5,209.0 L205.4,209.2 L206.3,209.3 L207.2,209.4 L208.0,209.5 L208.9,209.6 L209.8,209.7 L210.7,209.8 L211.6,209.9 L212.5,210.0 L213.3,210.2 L214.2,210.3 L215.1,210.4 L216.0,210.5 L216.9,210.6 L217.8,210.7 L218.6,210.8 L219.5,210.9 L220.4,211.0 L221.3,211.1 L222.2,211.2 L223.1,211.2 L223.9,211.3 L224.8,211.4 L225.7,211.4 L226.6,211.5 L227.5,211.5 L228.4,211.6 L229.3,211.6 L230.1,211.7 L231.0,211.7 L231.9,211.7 L232.8,211.7 L233.7,211.7 L234.6,211.7 L235.4,211.7 L236.3,211.7 L237.2,211.7 L238.1,211.7 L239.0,211.6 L239.9,211.6 L240.7,211.5 L241.6,211.5 L242.5,211.4 L243.4,211.4 L244.3,211.3 L245.2,211.2 L246.0,211.1 L246.9,211.1 L247.8,211.0 L248.7,210.9 L249.6,210.8 L250.5,210.7 L251.4,210.6 L252.2,210.5 L253.1,210.4 L254.0,210.3 L254.9,210.2 L255.8,210.0 L256.7,209.9 L257.5,209.8 L258.4,209.7 L259.3,209.6 L260.2,209.5 L261.1,209.4 L262.0,209.3 L262.8,209.2 L263.7,209.1 L264.6,209.0 L265.5,208.9 L266.4,208.8 L267.3,208.7 L268.1,208.6 L269.0,208.5 L269.9,208.5 L270.8,208.4 L271.7,208.3 L272.6,208.3 L273.5,208.2 L274.3,208.2 L275.2,208.1 L276.1,208.1 L277.0,208.1 L277.9,208.0 L278.8,208.0 L279.6,208.0 L280.5,208.0 L281.4,208.0 L282.3,208.0 L283.2,208.1 L284.1,208.1 L284.9,208.1 L285.8,208.1 L286.7,208.2 L287.6,208.2 L288.5,208.3 L289.4,208.3 L290.2,208.4 L291.1,208.5 L292.0,208.6 L292.9,208.6 L293.8,208.7 L294.7,208.8 L295.6,208.9 L296.4,209.0 L297.3,209.1 L298.2,209.2 L299.1,209.3 L300.0,209.4 L300.9,209.5 L301.7,209.6 L302.6,209.7 L303.5,209.8 L304.4,209.9 L305.3,210.0 L306.2,210.1 L307.0,210.3 L307.9,210.4 L308.8,210.5 L309.7,210.6 L310.6,210.7 L311.5,210.7 L312.3,210.8 L313.2,210.9 L314.1,211.0 L315.0,211.1 L315.9,211.2 L316.8,211.2 L317.7,211.3 L318.5,211.4 L319.4,211.4 L320.3,211.5 L321.2,211.5 L322.1,211.5 L323.0,211.6 L323.8,211.6 L324.7,211.6 L325.6,211.6 L326.5,211.6 L327.4,211.6 L328.3,211.6 L329.1,211.6 L330.0,211.6 L330.9,211.6 L331.8,211.5 L332.7,211.5 L333.6,211.4 L334.4,211.4 L335.3,211.3 L336.2,211.3 L337.1,211.2 L338.0,211.1 L338.9,211.1 L339.8,211.0 L340.6,210.9 L341.5,210.8 L342.4,210.7 L343.3,210.6 L344.2,210.5 L345.1,210.4 L345.9,210.3 L346.8,210.2 L347.7,210.1 L348.6,210.0 L349.5,209.9 L350.4,209.8 L351.2,209.7 L352.1,209.6 L353.0,209.5 L353.9,209.4 L354.8,209.3 L355.7,209.2 L356.5,209.1 L357.4,209.0 L358.3,208.9 L359.2,208.8" fill="none" stroke="#8c9a1c" stroke-width="5.8" stroke-linecap="round" stroke-linejoin="round"/>
<path d="M121.4,273.9 L122.3,273.7 L123.2,273.5 L124.1,273.3 L124.9,273.2 L125.8,273.0 L126.7,272.9 L127.6,272.8 L128.5,272.8 L129.4,272.8 L130.2,272.7 L131.1,272.8 L132.0,272.8 L132.9,272.9 L133.8,273.0 L134.7,273.1 L135.5,273.2 L136.4,273.4 L137.3,273.6 L138.2,273.8 L139.1,274.0 L140.0,274.2 L140.9,274.5 L141.7,274.8 L142.6,275.1 L143.5,275.4 L144.4,275.8 L145.3,276.1 L146.2,276.5 L147.0,276.9 L147.9,277.3 L148.8,277.7 L149.7,278.1 L150.6,278.5 L151.5,278.9 L152.3,279.3 L153.2,279.8 L154.1,280.2 L155.0,280.6 L155.9,281.1 L156.8,281.5 L157.6,281.9 L158.5,282.3 L159.4,282.7 L160.3,283.1 L161.2,283.5 L162.1,283.9 L163.0,284.2 L163.8,284.6 L164.7,284.9 L165.6,285.2 L166.5,285.5 L167.4,285.8 L168.3,286.1 L169.1,286.3 L170.0,286.5 L170.9,286.7 L171.8,286.9 L172.7,287.0 L173.6,287.2 L174.4,287.3 L175.3,287.4 L176.2,287.4 L177.1,287.5 L178.0,287.5 L178.9,287.4 L179.7,287.4 L180.6,287.3 L181.5,287.3 L182.4,287.1 L183.3,287.0 L184.2,286.8 L185.1,286.7 L185.9,286.5 L186.8,286.2 L187.7,286.0 L188.6,285.7 L189.5,285.4 L190.4,285.1 L191.2,284.8 L192.1,284.5 L193.0,284.2 L193.9,283.8 L194.8,283.4 L195.7,283.0 L196.5,282.7 L197.4,282.3 L198.3,281.9 L199.2,281.4 L200.1,281.0 L201.0,280.6 L201.8,280.2 L202.7,279.8 L203.6,279.4 L204.5,279.0 L205.4,278.6 L206.3,278.2 L207.2,277.8 L208.0,277.4 L208.9,277.0 L209.8,276.6 L210.7,276.3 L211.6,275.9 L212.5,275.6 L213.3,275.3 L214.2,275.0 L215.1,274.8 L216.0,274.5 L216.9,274.3 L217.8,274.1 L218.6,273.9 L219.5,273.7 L220.4,273.5 L221.3,273.4 L222.2,273.3 L223.1,273.2 L223.9,273.2 L224.8,273.1 L225.7,273.1 L226.6,273.1 L227.5,273.2 L228.4,273.3 L229.3,273.3 L230.1,273.4 L231.0,273.6 L231.9,273.7 L232.8,273.9 L233.7,274.1 L234.6,274.3 L235.4,274.6 L236.3,274.8 L237.2,275.1 L238.1,275.4 L239.0,275.7 L239.9,276.0 L240.7,276.3 L241.6,276.7 L242.5,277.1 L243.4,277.4 L244.3,277.8 L245.2,278.2 L246.0,278.6 L246.9,279.0 L247.8,279.4 L248.7,279.8 L249.6,280.2 L250.5,280.6 L251.4,281.0 L252.2,281.4 L253.1,281.8 L254.0,282.2 L254.9,282.6 L255.8,283.0 L256.7,283.3 L257.5,283.7 L258.4,284.0 L259.3,284.3 L260.2,284.7 L261.1,285.0 L262.0,285.2 L262.8,285.5 L263.7,285.7 L264.6,286.0 L265.5,286.2 L266.4,286.4 L267.3,286.5 L268.1,286.7 L269.0,286.8 L269.9,286.9 L270.8,287.0 L271.7,287.0 L272.6,287.1 L273.5,287.1 L274.3,287.1 L275.2,287.0 L276.1,287.0 L277.0,286.9 L277.9,286.8 L278.8,286.6 L279.6,286.5 L280.5,286.3 L281.4,286.1 L282.3,285.9 L283.2,285.7 L284.1,285.4 L284.9,285.2 L285.8,284.9 L286.7,284.6 L287.6,284.3 L288.5,283.9 L289.4,283.6 L290.2,283.3 L291.1,282.9 L292.0,282.5 L292.9,282.2 L293.8,281.8 L294.7,281.4 L295.6,281.0 L296.4,280.6 L297.3,280.2 L298.2,279.8 L299.1,279.4 L300.0,279.0 L300.9,278.6 L301.7,278.3 L302.6,277.9 L303.5,277.5 L304.4,277.2 L305.3,276.8 L306.2,276.5 L307.0,276.2 L307.9,275.9 L308.8,275.6 L309.7,275.3 L310.6,275.0 L311.5,274.8 L312.3,274.6 L313.2,274.4 L314.1,274.2 L315.0,274.0 L315.9,273.9 L316.8,273.8 L317.7,273.7 L318.5,273.6 L319.4,273.5 L320.3,273.5 L321.2,273.5 L322.1,273.5 L323.0,273.6 L323.8,273.6 L324.7,273.7 L325.6,273.8 L326.5,273.9 L327.4,274.1 L328.3,274.2 L329.1,274.4 L330.0,274.6 L330.9,274.9 L331.8,275.1 L332.7,275.4 L333.6,275.6 L334.4,275.9 L335.3,276.2 L336.2,276.6 L337.1,276.9 L338.0,277.2 L338.9,277.6 L339.8,277.9 L340.6,278.3 L341.5,278.7 L342.4,279.1 L343.3,279.4 L344.2,279.8 L345.1,280.2 L345.9,280.6 L346.8,281.0 L347.7,281.3 L348.6,281.7 L349.5,282.1 L350.4,282.5 L351.2,282.8 L352.1,283.2 L353.0,283.5 L353.9,283.8 L354.8,284.1 L355.7,284.4 L356.5,284.7 L357.4,285.0 L358.3,285.2 L359.2,285.5" fill="none" stroke="#5e9a1e" stroke-width="5.8" stroke-linecap="round" stroke-linejoin="round"/>
<path d="M121.4,353.5 L122.3,353.5 L123.2,353.5 L124.1,353.5 L124.9,353.5 L125.8,353.5 L126.7,353.5 L127.6,353.4 L128.5,353.4 L129.4,353.3 L130.2,353.3 L131.1,353.2 L132.0,353.1 L132.9,353.1 L133.8,353.0 L134.7,352.9 L135.5,352.8 L136.4,352.7 L137.3,352.6 L138.2,352.5 L139.1,352.4 L140.0,352.3 L140.9,352.2 L141.7,352.1 L142.6,352.0 L143.5,351.8 L144.4,351.7 L145.3,351.6 L146.2,351.5 L147.0,351.4 L147.9,351.3 L148.8,351.1 L149.7,351.0 L150.6,350.9 L151.5,350.8 L152.3,350.7 L153.2,350.6 L154.1,350.5 L155.0,350.4 L155.9,350.3 L156.8,350.2 L157.6,350.1 L158.5,350.1 L159.4,350.0 L160.3,349.9 L161.2,349.9 L162.1,349.8 L163.0,349.8 L163.8,349.7 L164.7,349.7 L165.6,349.7 L166.5,349.6 L167.4,349.6 L168.3,349.6 L169.1,349.6 L170.0,349.6 L170.9,349.6 L171.8,349.6 L172.7,349.7 L173.6,349.7 L174.4,349.7 L175.3,349.8 L176.2,349.8 L177.1,349.9 L178.0,349.9 L178.9,350.0 L179.7,350.1 L180.6,350.2 L181.5,350.2 L182.4,350.3 L183.3,350.4 L184.2,350.5 L185.1,350.6 L185.9,350.7 L186.8,350.8 L187.7,350.9 L188.6,351.0 L189.5,351.2 L190.4,351.3 L191.2,351.4 L192.1,351.5 L193.0,351.6 L193.9,351.7 L194.8,351.8 L195.7,351.9 L196.5,352.1 L197.4,352.2 L198.3,352.3 L199.2,352.4 L200.1,352.5 L201.0,352.6 L201.8,352.7 L202.7,352.8 L203.6,352.8 L204.5,352.9 L205.4,353.0 L206.3,353.1 L207.2,353.1 L208.0,353.2 L208.9,353.2 L209.8,353.3 L210.7,353.3 L211.6,353.4 L212.5,353.4 L213.3,353.4 L214.2,353.4 L215.1,353.4 L216.0,353.4 L216.9,353.4 L217.8,353.4 L218.6,353.4 L219.5,353.4 L220.4,353.4 L221.3,353.3 L222.2,353.3 L223.1,353.2 L223.9,353.2 L224.8,353.1 L225.7,353.0 L226.6,353.0 L227.5,352.9 L228.4,352.8 L229.3,352.7 L230.1,352.6 L231.0,352.6 L231.9,352.5 L232.8,352.4 L233.7,352.3 L234.6,352.2 L235.4,352.0 L236.3,351.9 L237.2,351.8 L238.1,351.7 L239.0,351.6 L239.9,351.5 L240.7,351.4 L241.6,351.3 L242.5,351.2 L243.4,351.1 L244.3,351.0 L245.2,350.8 L246.0,350.7 L246.9,350.7 L247.8,350.6 L248.7,350.5 L249.6,350.4 L250.5,350.3 L251.4,350.2 L252.2,350.1 L253.1,350.1 L254.0,350.0 L254.9,350.0 L255.8,349.9 L256.7,349.9 L257.5,349.8 L258.4,349.8 L259.3,349.8 L260.2,349.7 L261.1,349.7 L262.0,349.7 L262.8,349.7 L263.7,349.7 L264.6,349.7 L265.5,349.7 L266.4,349.8 L267.3,349.8 L268.1,349.8 L269.0,349.9 L269.9,349.9 L270.8,350.0 L271.7,350.0 L272.6,350.1 L273.5,350.2 L274.3,350.2 L275.2,350.3 L276.1,350.4 L277.0,350.5 L277.9,350.6 L278.8,350.7 L279.6,350.8 L280.5,350.9 L281.4,351.0 L282.3,351.1 L283.2,351.2 L284.1,351.3 L284.9,351.4 L285.8,351.5 L286.7,351.6 L287.6,351.7 L288.5,351.8 L289.4,351.9 L290.2,352.0 L291.1,352.1 L292.0,352.2 L292.9,352.3 L293.8,352.4 L294.7,352.5 L295.6,352.6 L296.4,352.7 L297.3,352.8 L298.2,352.8 L299.1,352.9 L300.0,353.0 L300.9,353.0 L301.7,353.1 L302.6,353.2 L303.5,353.2 L304.4,353.2 L305.3,353.3 L306.2,353.3 L307.0,353.3 L307.9,353.3 L308.8,353.3 L309.7,353.3 L310.6,353.3 L311.5,353.3 L312.3,353.3 L313.2,353.3 L314.1,353.3 L315.0,353.2 L315.9,353.2 L316.8,353.1 L317.7,353.1 L318.5,353.0 L319.4,353.0 L320.3,352.9 L321.2,352.8 L322.1,352.8 L323.0,352.7 L323.8,352.6 L324.7,352.5 L325.6,352.4 L326.5,352.3 L327.4,352.2 L328.3,352.1 L329.1,352.0 L330.0,351.9 L330.9,351.8 L331.8,351.7 L332.7,351.6 L333.6,351.5 L334.4,351.4 L335.3,351.3 L336.2,351.2 L337.1,351.1 L338.0,351.0 L338.9,350.9 L339.8,350.8 L340.6,350.7 L341.5,350.6 L342.4,350.5 L343.3,350.4 L344.2,350.4 L345.1,350.3 L345.9,350.2 L346.8,350.2 L347.7,350.1 L348.6,350.0 L349.5,350.0 L350.4,349.9 L351.2,349.9 L352.1,349.9 L353.0,349.8 L353.9,349.8 L354.8,349.8 L355.7,349.8 L356.5,349.8 L357.4,349.8 L358.3,349.8 L359.2,349.8" fill="none" stroke="#2a9a22" stroke-width="5.8" stroke-linecap="round" stroke-linejoin="round"/>
<path d="M121.4,425.5 L122.3,426.1 L123.2,426.6 L124.1,427.1 L124.9,427.6 L125.8,428.0 L126.7,428.4 L127.6,428.8 L128.5,429.2 L129.4,429.6 L130.2,429.9 L131.1,430.2 L132.0,430.4 L132.9,430.6 L133.8,430.8 L134.7,430.9 L135.5,431.0 L136.4,431.1 L137.3,431.2 L138.2,431.2 L139.1,431.1 L140.0,431.1 L140.9,430.9 L141.7,430.8 L142.6,430.6 L143.5,430.4 L144.4,430.2 L145.3,429.9 L146.2,429.6 L147.0,429.3 L147.9,428.9 L148.8,428.5 L149.7,428.1 L150.6,427.7 L151.5,427.2 L152.3,426.8 L153.2,426.3 L154.1,425.8 L155.0,425.2 L155.9,424.7 L156.8,424.1 L157.6,423.6 L158.5,423.0 L159.4,422.4 L160.3,421.9 L161.2,421.3 L162.1,420.7 L163.0,420.1 L163.8,419.6 L164.7,419.0 L165.6,418.5 L166.5,417.9 L167.4,417.4 L168.3,416.9 L169.1,416.4 L170.0,415.9 L170.9,415.4 L171.8,415.0 L172.7,414.6 L173.6,414.2 L174.4,413.8 L175.3,413.5 L176.2,413.2 L177.1,412.9 L178.0,412.6 L178.9,412.4 L179.7,412.2 L180.6,412.0 L181.5,411.9 L182.4,411.8 L183.3,411.7 L184.2,411.7 L185.1,411.7 L185.9,411.7 L186.8,411.8 L187.7,411.9 L188.6,412.0 L189.5,412.2 L190.4,412.4 L191.2,412.6 L192.1,412.8 L193.0,413.1 L193.9,413.4 L194.8,413.7 L195.7,414.1 L196.5,414.5 L197.4,414.9 L198.3,415.3 L199.2,415.7 L200.1,416.2 L201.0,416.6 L201.8,417.1 L202.7,417.6 L203.6,418.1 L204.5,418.6 L205.4,419.2 L206.3,419.7 L207.2,420.2 L208.0,420.7 L208.9,421.3 L209.8,421.8 L210.7,422.3 L211.6,422.8 L212.5,423.3 L213.3,423.8 L214.2,424.3 L215.1,424.8 L216.0,425.2 L216.9,425.7 L217.8,426.1 L218.6,426.5 L219.5,426.9 L220.4,427.2 L221.3,427.6 L222.2,427.9 L223.1,428.2 L223.9,428.4 L224.8,428.7 L225.7,428.9 L226.6,429.1 L227.5,429.2 L228.4,429.3 L229.3,429.4 L230.1,429.5 L231.0,429.5 L231.9,429.5 L232.8,429.5 L233.7,429.4 L234.6,429.3 L235.4,429.2 L236.3,429.1 L237.2,428.9 L238.1,428.7 L239.0,428.5 L239.9,428.2 L240.7,427.9 L241.6,427.6 L242.5,427.3 L243.4,427.0 L244.3,426.6 L245.2,426.2 L246.0,425.8 L246.9,425.4 L247.8,425.0 L248.7,424.5 L249.6,424.1 L250.5,423.6 L251.4,423.2 L252.2,422.7 L253.1,422.2 L254.0,421.7 L254.9,421.2 L255.8,420.8 L256.7,420.3 L257.5,419.8 L258.4,419.3 L259.3,418.9 L260.2,418.4 L261.1,418.0 L262.0,417.5 L262.8,417.1 L263.7,416.7 L264.6,416.3 L265.5,416.0 L266.4,415.6 L267.3,415.3 L268.1,415.0 L269.0,414.7 L269.9,414.4 L270.8,414.2 L271.7,414.0 L272.6,413.8 L273.5,413.6 L274.3,413.5 L275.2,413.4 L276.1,413.3 L277.0,413.2 L277.9,413.2 L278.8,413.2 L279.6,413.2 L280.5,413.3 L281.4,413.4 L282.3,413.5 L283.2,413.6 L284.1,413.8 L284.9,414.0 L285.8,414.2 L286.7,414.4 L287.6,414.6 L288.5,414.9 L289.4,415.2 L290.2,415.5 L291.1,415.9 L292.0,416.2 L292.9,416.6 L293.8,417.0 L294.7,417.3 L295.6,417.8 L296.4,418.2 L297.3,418.6 L298.2,419.0 L299.1,419.5 L300.0,419.9 L300.9,420.3 L301.7,420.8 L302.6,421.2 L303.5,421.7 L304.4,422.1 L305.3,422.5 L306.2,423.0 L307.0,423.4 L307.9,423.8 L308.8,424.2 L309.7,424.5 L310.6,424.9 L311.5,425.3 L312.3,425.6 L313.2,425.9 L314.1,426.2 L315.0,426.5 L315.9,426.8 L316.8,427.0 L317.7,427.2 L318.5,427.4 L319.4,427.6 L320.3,427.8 L321.2,427.9 L322.1,428.0 L323.0,428.1 L323.8,428.1 L324.7,428.1 L325.6,428.1 L326.5,428.1 L327.4,428.1 L328.3,428.0 L329.1,427.9 L330.0,427.8 L330.9,427.6 L331.8,427.5 L332.7,427.3 L333.6,427.1 L334.4,426.8 L335.3,426.6 L336.2,426.3 L337.1,426.0 L338.0,425.7 L338.9,425.4 L339.8,425.0 L340.6,424.7 L341.5,424.3 L342.4,424.0 L343.3,423.6 L344.2,423.2 L345.1,422.8 L345.9,422.4 L346.8,422.0 L347.7,421.6 L348.6,421.2 L349.5,420.8 L350.4,420.4 L351.2,420.0 L352.1,419.6 L353.0,419.2 L353.9,418.8 L354.8,418.5 L355.7,418.1 L356.5,417.8 L357.4,417.4 L358.3,417.1 L359.2,416.8" fill="none" stroke="#1c9a3c" stroke-width="5.8" stroke-linecap="round" stroke-linejoin="round"/>
<path d="M121.4,494.7 L122.3,494.7 L123.2,494.7 L124.1,494.7 L124.9,494.6 L125.8,494.5 L126.7,494.5 L127.6,494.4 L128.5,494.2 L129.4,494.1 L130.2,494.0 L131.1,493.8 L132.0,493.7 L132.9,493.5 L133.8,493.3 L134.7,493.1 L135.5,492.9 L136.4,492.7 L137.3,492.5 L138.2,492.3 L139.1,492.1 L140.0,491.8 L140.9,491.6 L141.7,491.4 L142.6,491.1 L143.5,490.9 L144.4,490.7 L145.3,490.4 L146.2,490.2 L147.0,490.0 L147.9,489.8 L148.8,489.6 L149.7,489.4 L150.6,489.2 L151.5,489.0 L152.3,488.9 L153.2,488.7 L154.1,488.6 L155.0,488.4 L155.9,488.3 L156.8,488.2 L157.6,488.1 L158.5,488.0 L159.4,487.9 L160.3,487.9 L161.2,487.9 L162.1,487.8 L163.0,487.8 L163.8,487.8 L164.7,487.9 L165.6,487.9 L166.5,488.0 L167.4,488.0 L168.3,488.1 L169.1,488.2 L170.0,488.3 L170.9,488.4 L171.8,488.6 L172.7,488.7 L173.6,488.9 L174.4,489.1 L175.3,489.2 L176.2,489.4 L177.1,489.6 L178.0,489.8 L178.9,490.0 L179.7,490.2 L180.6,490.5 L181.5,490.7 L182.4,490.9 L183.3,491.1 L184.2,491.4 L185.1,491.6 L185.9,491.8 L186.8,492.0 L187.7,492.2 L188.6,492.5 L189.5,492.7 L190.4,492.9 L191.2,493.1 L192.1,493.2 L193.0,493.4 L193.9,493.6 L194.8,493.7 L195.7,493.9 L196.5,494.0 L197.4,494.1 L198.3,494.2 L199.2,494.3 L200.1,494.4 L201.0,494.5 L201.8,494.5 L202.7,494.6 L203.6,494.6 L204.5,494.6 L205.4,494.6 L206.3,494.6 L207.2,494.5 L208.0,494.5 L208.9,494.4 L209.8,494.3 L210.7,494.2 L211.6,494.1 L212.5,494.0 L213.3,493.9 L214.2,493.7 L215.1,493.6 L216.0,493.4 L216.9,493.2 L217.8,493.0 L218.6,492.8 L219.5,492.6 L220.4,492.4 L221.3,492.2 L222.2,492.0 L223.1,491.8 L223.9,491.6 L224.8,491.4 L225.7,491.1 L226.6,490.9 L227.5,490.7 L228.4,490.5 L229.3,490.3 L230.1,490.1 L231.0,489.9 L231.9,489.7 L232.8,489.5 L233.7,489.3 L234.6,489.1 L235.4,489.0 L236.3,488.8 L237.2,488.7 L238.1,488.6 L239.0,488.4 L239.9,488.3 L240.7,488.2 L241.6,488.2 L242.5,488.1 L243.4,488.1 L244.3,488.0 L245.2,488.0 L246.0,488.0 L246.9,488.0 L247.8,488.0 L248.7,488.1 L249.6,488.1 L250.5,488.2 L251.4,488.3 L252.2,488.4 L253.1,488.5 L254.0,488.6 L254.9,488.7 L255.8,488.8 L256.7,489.0 L257.5,489.2 L258.4,489.3 L259.3,489.5 L260.2,489.7 L261.1,489.9 L262.0,490.1 L262.8,490.3 L263.7,490.5 L264.6,490.7 L265.5,490.9 L266.4,491.1 L267.3,491.4 L268.1,491.6 L269.0,491.8 L269.9,492.0 L270.8,492.2 L271.7,492.4 L272.6,492.6 L273.5,492.8 L274.3,493.0 L275.2,493.2 L276.1,493.3 L277.0,493.5 L277.9,493.6 L278.8,493.8 L279.6,493.9 L280.5,494.0 L281.4,494.1 L282.3,494.2 L283.2,494.3 L284.1,494.3 L284.9,494.4 L285.8,494.4 L286.7,494.4 L287.6,494.4 L288.5,494.4 L289.4,494.4 L290.2,494.4 L291.1,494.3 L292.0,494.3 L292.9,494.2 L293.8,494.1 L294.7,494.0 L295.6,493.9 L296.4,493.7 L297.3,493.6 L298.2,493.5 L299.1,493.3 L300.0,493.1 L300.9,493.0 L301.7,492.8 L302.6,492.6 L303.5,492.4 L304.4,492.2 L305.3,492.0 L306.2,491.8 L307.0,491.6 L307.9,491.4 L308.8,491.1 L309.7,490.9 L310.6,490.7 L311.5,490.5 L312.3,490.3 L313.2,490.1 L314.1,489.9 L315.0,489.7 L315.9,489.6 L316.8,489.4 L317.7,489.2 L318.5,489.1 L319.4,488.9 L320.3,488.8 L321.2,488.7 L322.1,488.6 L323.0,488.5 L323.8,488.4 L324.7,488.3 L325.6,488.2 L326.5,488.2 L327.4,488.2 L328.3,488.1 L329.1,488.1 L330.0,488.1 L330.9,488.2 L331.8,488.2 L332.7,488.3 L333.6,488.3 L334.4,488.4 L335.3,488.5 L336.2,488.6 L337.1,488.7 L338.0,488.8 L338.9,489.0 L339.8,489.1 L340.6,489.3 L341.5,489.4 L342.4,489.6 L343.3,489.8 L344.2,490.0 L345.1,490.1 L345.9,490.3 L346.8,490.5 L347.7,490.7 L348.6,490.9 L349.5,491.1 L350.4,491.4 L351.2,491.6 L352.1,491.8 L353.0,492.0 L353.9,492.2 L354.8,492.4 L355.7,492.5 L356.5,492.7 L357.4,492.9 L358.3,493.1 L359.2,493.2" fill="none" stroke="#1a8e6c" stroke-width="5.8" stroke-linecap="round" stroke-linejoin="round"/>
<path d="M121.4,558.8 L122.3,557.9 L123.2,557.1 L124.1,556.3 L124.9,555.6 L125.8,554.8 L126.7,554.1 L127.6,553.4 L128.5,552.8 L129.4,552.1 L130.2,551.5 L131.1,551.0 L132.0,550.5 L132.9,550.0 L133.8,549.6 L134.7,549.2 L135.5,548.9 L136.4,548.6 L137.3,548.4 L138.2,548.2 L139.1,548.0 L140.0,547.9 L140.9,547.9 L141.7,547.9 L142.6,548.0 L143.5,548.1 L144.4,548.2 L145.3,548.4 L146.2,548.7 L147.0,549.0 L147.9,549.3 L148.8,549.7 L149.7,550.1 L150.6,550.6 L151.5,551.1 L152.3,551.6 L153.2,552.1 L154.1,552.7 L155.0,553.4 L155.9,554.0 L156.8,554.7 L157.6,555.4 L158.5,556.1 L159.4,556.8 L160.3,557.5 L161.2,558.3 L162.1,559.0 L163.0,559.8 L163.8,560.5 L164.7,561.3 L165.6,562.0 L166.5,562.8 L167.4,563.5 L168.3,564.2 L169.1,564.9 L170.0,565.6 L170.9,566.3 L171.8,566.9 L172.7,567.6 L173.6,568.2 L174.4,568.7 L175.3,569.2 L176.2,569.7 L177.1,570.2 L178.0,570.6 L178.9,571.0 L179.7,571.4 L180.6,571.7 L181.5,572.0 L182.4,572.2 L183.3,572.4 L184.2,572.5 L185.1,572.6 L185.9,572.7 L186.8,572.7 L187.7,572.7 L188.6,572.6 L189.5,572.5 L190.4,572.3 L191.2,572.1 L192.1,571.9 L193.0,571.6 L193.9,571.3 L194.8,571.0 L195.7,570.6 L196.5,570.2 L197.4,569.7 L198.3,569.2 L199.2,568.7 L200.1,568.2 L201.0,567.6 L201.8,567.0 L202.7,566.5 L203.6,565.8 L204.5,565.2 L205.4,564.6 L206.3,563.9 L207.2,563.3 L208.0,562.6 L208.9,561.9 L209.8,561.3 L210.7,560.6 L211.6,559.9 L212.5,559.3 L213.3,558.7 L214.2,558.0 L215.1,557.4 L216.0,556.8 L216.9,556.2 L217.8,555.7 L218.6,555.2 L219.5,554.6 L220.4,554.2 L221.3,553.7 L222.2,553.3 L223.1,552.9 L223.9,552.5 L224.8,552.2 L225.7,551.9 L226.6,551.7 L227.5,551.4 L228.4,551.3 L229.3,551.1 L230.1,551.0 L231.0,550.9 L231.9,550.9 L232.8,550.9 L233.7,551.0 L234.6,551.0 L235.4,551.2 L236.3,551.3 L237.2,551.5 L238.1,551.7 L239.0,552.0 L239.9,552.3 L240.7,552.6 L241.6,553.0 L242.5,553.3 L243.4,553.7 L244.3,554.2 L245.2,554.6 L246.0,555.1 L246.9,555.6 L247.8,556.1 L248.7,556.7 L249.6,557.2 L250.5,557.8 L251.4,558.3 L252.2,558.9 L253.1,559.5 L254.0,560.1 L254.9,560.7 L255.8,561.2 L256.7,561.8 L257.5,562.4 L258.4,563.0 L259.3,563.5 L260.2,564.1 L261.1,564.6 L262.0,565.1 L262.8,565.6 L263.7,566.1 L264.6,566.6 L265.5,567.0 L266.4,567.4 L267.3,567.8 L268.1,568.1 L269.0,568.5 L269.9,568.8 L270.8,569.0 L271.7,569.3 L272.6,569.5 L273.5,569.7 L274.3,569.8 L275.2,569.9 L276.1,570.0 L277.0,570.1 L277.9,570.1 L278.8,570.0 L279.6,570.0 L280.5,569.9 L281.4,569.8 L282.3,569.6 L283.2,569.4 L284.1,569.2 L284.9,569.0 L285.8,568.7 L286.7,568.4 L287.6,568.1 L288.5,567.8 L289.4,567.4 L290.2,567.0 L291.1,566.6 L292.0,566.1 L292.9,565.7 L293.8,565.2 L294.7,564.8 L295.6,564.3 L296.4,563.8 L297.3,563.3 L298.2,562.8 L299.1,562.3 L300.0,561.7 L300.9,561.2 L301.7,560.7 L302.6,560.2 L303.5,559.7 L304.4,559.2 L305.3,558.7 L306.2,558.3 L307.0,557.8 L307.9,557.3 L308.8,556.9 L309.7,556.5 L310.6,556.1 L311.5,555.7 L312.3,555.4 L313.2,555.1 L314.1,554.8 L315.0,554.5 L315.9,554.2 L316.8,554.0 L317.7,553.8 L318.5,553.6 L319.4,553.5 L320.3,553.4 L321.2,553.3 L322.1,553.2 L323.0,553.2 L323.8,553.2 L324.7,553.3 L325.6,553.3 L326.5,553.4 L327.4,553.5 L328.3,553.7 L329.1,553.9 L330.0,554.1 L330.9,554.3 L331.8,554.5 L332.7,554.8 L333.6,555.1 L334.4,555.4 L335.3,555.7 L336.2,556.1 L337.1,556.5 L338.0,556.9 L338.9,557.3 L339.8,557.7 L340.6,558.1 L341.5,558.5 L342.4,559.0 L343.3,559.4 L344.2,559.9 L345.1,560.3 L345.9,560.8 L346.8,561.2 L347.7,561.7 L348.6,562.1 L349.5,562.5 L350.4,563.0 L351.2,563.4 L352.1,563.8 L353.0,564.2 L353.9,564.6 L354.8,565.0 L355.7,565.3 L356.5,565.7 L357.4,566.0 L358.3,566.3 L359.2,566.5" fill="none" stroke="#1a8a98" stroke-width="5.8" stroke-linecap="round" stroke-linejoin="round"/>
<path d="M121.4,629.9 L122.3,629.8 L123.2,629.7 L124.1,629.6 L124.9,629.5 L125.8,629.4 L126.7,629.2 L127.6,629.0 L128.5,628.8 L129.4,628.6 L130.2,628.3 L131.1,628.1 L132.0,627.8 L132.9,627.5 L133.8,627.2 L134.7,626.9 L135.5,626.6 L136.4,626.3 L137.3,625.9 L138.2,625.6 L139.1,625.3 L140.0,625.0 L140.9,624.6 L141.7,624.3 L142.6,624.0 L143.5,623.6 L144.4,623.3 L145.3,623.0 L146.2,622.7 L147.0,622.4 L147.9,622.2 L148.8,621.9 L149.7,621.7 L150.6,621.4 L151.5,621.2 L152.3,621.0 L153.2,620.9 L154.1,620.7 L155.0,620.6 L155.9,620.5 L156.8,620.4 L157.6,620.3 L158.5,620.3 L159.4,620.2 L160.3,620.2 L161.2,620.2 L162.1,620.3 L163.0,620.3 L163.8,620.4 L164.7,620.5 L165.6,620.6 L166.5,620.8 L167.4,621.0 L168.3,621.1 L169.1,621.3 L170.0,621.5 L170.9,621.8 L171.8,622.0 L172.7,622.3 L173.6,622.5 L174.4,622.8 L175.3,623.1 L176.2,623.4 L177.1,623.7 L178.0,624.0 L178.9,624.3 L179.7,624.6 L180.6,625.0 L181.5,625.3 L182.4,625.6 L183.3,625.9 L184.2,626.2 L185.1,626.5 L185.9,626.8 L186.8,627.0 L187.7,627.3 L188.6,627.6 L189.5,627.8 L190.4,628.0 L191.2,628.3 L192.1,628.5 L193.0,628.6 L193.9,628.8 L194.8,628.9 L195.7,629.1 L196.5,629.2 L197.4,629.3 L198.3,629.3 L199.2,629.4 L200.1,629.4 L201.0,629.4 L201.8,629.4 L202.7,629.4 L203.6,629.3 L204.5,629.2 L205.4,629.1 L206.3,629.0 L207.2,628.9 L208.0,628.7 L208.9,628.6 L209.8,628.4 L210.7,628.2 L211.6,628.0 L212.5,627.7 L213.3,627.5 L214.2,627.2 L215.1,627.0 L216.0,626.7 L216.9,626.4 L217.8,626.1 L218.6,625.8 L219.5,625.5 L220.4,625.2 L221.3,625.0 L222.2,624.7 L223.1,624.4 L223.9,624.1 L224.8,623.8 L225.7,623.5 L226.6,623.2 L227.5,623.0 L228.4,622.7 L229.3,622.5 L230.1,622.2 L231.0,622.0 L231.9,621.8 L232.8,621.6 L233.7,621.5 L234.6,621.3 L235.4,621.2 L236.3,621.1 L237.2,621.0 L238.1,620.9 L239.0,620.8 L239.9,620.8 L240.7,620.7 L241.6,620.7 L242.5,620.8 L243.4,620.8 L244.3,620.8 L245.2,620.9 L246.0,621.0 L246.9,621.1 L247.8,621.2 L248.7,621.4 L249.6,621.5 L250.5,621.7 L251.4,621.9 L252.2,622.1 L253.1,622.3 L254.0,622.6 L254.9,622.8 L255.8,623.1 L256.7,623.3 L257.5,623.6 L258.4,623.8 L259.3,624.1 L260.2,624.4 L261.1,624.7 L262.0,625.0 L262.8,625.2 L263.7,625.5 L264.6,625.8 L265.5,626.0 L266.4,626.3 L267.3,626.6 L268.1,626.8 L269.0,627.1 L269.9,627.3 L270.8,627.5 L271.7,627.7 L272.6,627.9 L273.5,628.1 L274.3,628.2 L275.2,628.4 L276.1,628.5 L277.0,628.6 L277.9,628.7 L278.8,628.8 L279.6,628.9 L280.5,628.9 L281.4,628.9 L282.3,628.9 L283.2,628.9 L284.1,628.9 L284.9,628.8 L285.8,628.8 L286.7,628.7 L287.6,628.6 L288.5,628.5 L289.4,628.3 L290.2,628.2 L291.1,628.0 L292.0,627.8 L292.9,627.6 L293.8,627.4 L294.7,627.2 L295.6,627.0 L296.4,626.7 L297.3,626.5 L298.2,626.3 L299.1,626.0 L300.0,625.7 L300.9,625.5 L301.7,625.2 L302.6,625.0 L303.5,624.7 L304.4,624.4 L305.3,624.2 L306.2,623.9 L307.0,623.7 L307.9,623.4 L308.8,623.2 L309.7,623.0 L310.6,622.7 L311.5,622.5 L312.3,622.3 L313.2,622.2 L314.1,622.0 L315.0,621.8 L315.9,621.7 L316.8,621.6 L317.7,621.5 L318.5,621.4 L319.4,621.3 L320.3,621.3 L321.2,621.2 L322.1,621.2 L323.0,621.2 L323.8,621.2 L324.7,621.2 L325.6,621.3 L326.5,621.4 L327.4,621.4 L328.3,621.5 L329.1,621.6 L330.0,621.8 L330.9,621.9 L331.8,622.1 L332.7,622.2 L333.6,622.4 L334.4,622.6 L335.3,622.8 L336.2,623.0 L337.1,623.3 L338.0,623.5 L338.9,623.7 L339.8,624.0 L340.6,624.2 L341.5,624.5 L342.4,624.7 L343.3,625.0 L344.2,625.2 L345.1,625.4 L345.9,625.7 L346.8,625.9 L347.7,626.2 L348.6,626.4 L349.5,626.6 L350.4,626.8 L351.2,627.0 L352.1,627.2 L353.0,627.4 L353.9,627.6 L354.8,627.7 L355.7,627.9 L356.5,628.0 L357.4,628.1 L358.3,628.2 L359.2,628.3" fill="none" stroke="#2a6ac4" stroke-width="5.8" stroke-linecap="round" stroke-linejoin="round"/>
<path d="M121.4,706.1 L122.3,706.7 L123.2,707.3 L124.1,707.8 L124.9,708.3 L125.8,708.8 L126.7,709.3 L127.6,709.8 L128.5,710.2 L129.4,710.6 L130.2,711.0 L131.1,711.3 L132.0,711.6 L132.9,711.9 L133.8,712.1 L134.7,712.3 L135.5,712.5 L136.4,712.7 L137.3,712.8 L138.2,712.8 L139.1,712.9 L140.0,712.8 L140.9,712.8 L141.7,712.7 L142.6,712.6 L143.5,712.5 L144.4,712.3 L145.3,712.1 L146.2,711.8 L147.0,711.5 L147.9,711.2 L148.8,710.8 L149.7,710.5 L150.6,710.1 L151.5,709.6 L152.3,709.2 L153.2,708.7 L154.1,708.2 L155.0,707.7 L155.9,707.2 L156.8,706.6 L157.6,706.1 L158.5,705.5 L159.4,704.9 L160.3,704.3 L161.2,703.7 L162.1,703.1 L163.0,702.6 L163.8,702.0 L164.7,701.4 L165.6,700.8 L166.5,700.2 L167.4,699.7 L168.3,699.1 L169.1,698.6 L170.0,698.1 L170.9,697.6 L171.8,697.1 L172.7,696.7 L173.6,696.3 L174.4,695.9 L175.3,695.5 L176.2,695.1 L177.1,694.8 L178.0,694.5 L178.9,694.3 L179.7,694.1 L180.6,693.9 L181.5,693.7 L182.4,693.6 L183.3,693.5 L184.2,693.5 L185.1,693.5 L185.9,693.5 L186.8,693.6 L187.7,693.7 L188.6,693.8 L189.5,693.9 L190.4,694.1 L191.2,694.4 L192.1,694.6 L193.0,694.9 L193.9,695.2 L194.8,695.6 L195.7,696.0 L196.5,696.4 L197.4,696.8 L198.3,697.2 L199.2,697.7 L200.1,698.2 L201.0,698.7 L201.8,699.2 L202.7,699.8 L203.6,700.3 L204.5,700.9 L205.4,701.4 L206.3,702.0 L207.2,702.6 L208.0,703.1 L208.9,703.7 L209.8,704.3 L210.7,704.8 L211.6,705.4 L212.5,705.9 L213.3,706.5 L214.2,707.0 L215.1,707.5 L216.0,708.0 L216.9,708.4 L217.8,708.9 L218.6,709.3 L219.5,709.7 L220.4,710.1 L221.3,710.4 L222.2,710.7 L223.1,711.0 L223.9,711.3 L224.8,711.5 L225.7,711.7 L226.6,711.9 L227.5,712.0 L228.4,712.1 L229.3,712.2 L230.1,712.2 L231.0,712.2 L231.9,712.2 L232.8,712.1 L233.7,712.0 L234.6,711.8 L235.4,711.7 L236.3,711.5 L237.2,711.2 L238.1,710.9 L239.0,710.7 L239.9,710.3 L240.7,710.0 L241.6,709.6 L242.5,709.2 L243.4,708.8 L244.3,708.3 L245.2,707.9 L246.0,707.4 L246.9,706.9 L247.8,706.4 L248.7,705.9 L249.6,705.3 L250.5,704.8 L251.4,704.2 L252.2,703.7 L253.1,703.1 L254.0,702.6 L254.9,702.0 L255.8,701.5 L256.7,701.0 L257.5,700.4 L258.4,699.9 L259.3,699.4 L260.2,698.9 L261.1,698.4 L262.0,698.0 L262.8,697.5 L263.7,697.1 L264.6,696.7 L265.5,696.3 L266.4,696.0 L267.3,695.7 L268.1,695.4 L269.0,695.1 L269.9,694.9 L270.8,694.7 L271.7,694.5 L272.6,694.3 L273.5,694.2 L274.3,694.2 L275.2,694.1 L276.1,694.1 L277.0,694.1 L277.9,694.2 L278.8,694.3 L279.6,694.4 L280.5,694.5 L281.4,694.7 L282.3,694.9 L283.2,695.2 L284.1,695.5 L284.9,695.8 L285.8,696.1 L286.7,696.4 L287.6,696.8 L288.5,697.2 L289.4,697.6 L290.2,698.1 L291.1,698.5 L292.0,699.0 L292.9,699.5 L293.8,700.0 L294.7,700.5 L295.6,701.0 L296.4,701.5 L297.3,702.1 L298.2,702.6 L299.1,703.1 L300.0,703.7 L300.9,704.2 L301.7,704.7 L302.6,705.2 L303.5,705.7 L304.4,706.2 L305.3,706.7 L306.2,707.2 L307.0,707.6 L307.9,708.1 L308.8,708.5 L309.7,708.9 L310.6,709.3 L311.5,709.6 L312.3,709.9 L313.2,710.2 L314.1,710.5 L315.0,710.7 L315.9,711.0 L316.8,711.1 L317.7,711.3 L318.5,711.4 L319.4,711.5 L320.3,711.6 L321.2,711.6 L322.1,711.6 L323.0,711.5 L323.8,711.5 L324.7,711.4 L325.6,711.2 L326.5,711.1 L327.4,710.9 L328.3,710.7 L329.1,710.4 L330.0,710.1 L330.9,709.8 L331.8,709.5 L332.7,709.2 L333.6,708.8 L334.4,708.4 L335.3,708.0 L336.2,707.5 L337.1,707.1 L338.0,706.6 L338.9,706.2 L339.8,705.7 L340.6,705.2 L341.5,704.7 L342.4,704.2 L343.3,703.6 L344.2,703.1 L345.1,702.6 L345.9,702.1 L346.8,701.6 L347.7,701.1 L348.6,700.6 L349.5,700.1 L350.4,699.6 L351.2,699.2 L352.1,698.7 L353.0,698.3 L353.9,697.9 L354.8,697.5 L355.7,697.1 L356.5,696.8 L357.4,696.4 L358.3,696.1 L359.2,695.9" fill="none" stroke="#4a52e0" stroke-width="5.8" stroke-linecap="round" stroke-linejoin="round"/>
<path d="M121.4,776.1 L122.3,776.0 L123.2,775.8 L124.1,775.7 L124.9,775.5 L125.8,775.4 L126.7,775.2 L127.6,775.1 L128.5,774.9 L129.4,774.7 L130.2,774.5 L131.1,774.3 L132.0,774.1 L132.9,774.0 L133.8,773.8 L134.7,773.6 L135.5,773.4 L136.4,773.1 L137.3,772.9 L138.2,772.7 L139.1,772.5 L140.0,772.4 L140.9,772.2 L141.7,772.0 L142.6,771.8 L143.5,771.6 L144.4,771.4 L145.3,771.3 L146.2,771.1 L147.0,770.9 L147.9,770.8 L148.8,770.6 L149.7,770.5 L150.6,770.4 L151.5,770.3 L152.3,770.2 L153.2,770.1 L154.1,770.0 L155.0,769.9 L155.9,769.9 L156.8,769.8 L157.6,769.8 L158.5,769.7 L159.4,769.7 L160.3,769.7 L161.2,769.7 L162.1,769.8 L163.0,769.8 L163.8,769.8 L164.7,769.9 L165.6,769.9 L166.5,770.0 L167.4,770.1 L168.3,770.2 L169.1,770.3 L170.0,770.4 L170.9,770.5 L171.8,770.7 L172.7,770.8 L173.6,771.0 L174.4,771.1 L175.3,771.3 L176.2,771.5 L177.1,771.6 L178.0,771.8 L178.9,772.0 L179.7,772.2 L180.6,772.4 L181.5,772.6 L182.4,772.8 L183.3,773.0 L184.2,773.1 L185.1,773.3 L185.9,773.5 L186.8,773.7 L187.7,773.9 L188.6,774.1 L189.5,774.3 L190.4,774.5 L191.2,774.7 L192.1,774.8 L193.0,775.0 L193.9,775.2 L194.8,775.3 L195.7,775.5 L196.5,775.6 L197.4,775.7 L198.3,775.8 L199.2,775.9 L200.1,776.0 L201.0,776.1 L201.8,776.2 L202.7,776.3 L203.6,776.3 L204.5,776.4 L205.4,776.4 L206.3,776.5 L207.2,776.5 L208.0,776.5 L208.9,776.5 L209.8,776.5 L210.7,776.4 L211.6,776.4 L212.5,776.3 L213.3,776.3 L214.2,776.2 L215.1,776.1 L216.0,776.0 L216.9,775.9 L217.8,775.8 L218.6,775.7 L219.5,775.6 L220.4,775.4 L221.3,775.3 L222.2,775.1 L223.1,775.0 L223.9,774.8 L224.8,774.6 L225.7,774.5 L226.6,774.3 L227.5,774.1 L228.4,773.9 L229.3,773.7 L230.1,773.5 L231.0,773.3 L231.9,773.1 L232.8,773.0 L233.7,772.8 L234.6,772.6 L235.4,772.4 L236.3,772.2 L237.2,772.0 L238.1,771.9 L239.0,771.7 L239.9,771.5 L240.7,771.4 L241.6,771.2 L242.5,771.1 L243.4,770.9 L244.3,770.8 L245.2,770.7 L246.0,770.5 L246.9,770.4 L247.8,770.3 L248.7,770.2 L249.6,770.2 L250.5,770.1 L251.4,770.0 L252.2,770.0 L253.1,770.0 L254.0,769.9 L254.9,769.9 L255.8,769.9 L256.7,769.9 L257.5,769.9 L258.4,770.0 L259.3,770.0 L260.2,770.1 L261.1,770.1 L262.0,770.2 L262.8,770.3 L263.7,770.4 L264.6,770.5 L265.5,770.6 L266.4,770.7 L267.3,770.8 L268.1,770.9 L269.0,771.1 L269.9,771.2 L270.8,771.4 L271.7,771.5 L272.6,771.7 L273.5,771.9 L274.3,772.1 L275.2,772.2 L276.1,772.4 L277.0,772.6 L277.9,772.8 L278.8,773.0 L279.6,773.1 L280.5,773.3 L281.4,773.5 L282.3,773.7 L283.2,773.9 L284.1,774.1 L284.9,774.2 L285.8,774.4 L286.7,774.6 L287.6,774.7 L288.5,774.9 L289.4,775.0 L290.2,775.2 L291.1,775.3 L292.0,775.5 L292.9,775.6 L293.8,775.7 L294.7,775.8 L295.6,775.9 L296.4,776.0 L297.3,776.1 L298.2,776.1 L299.1,776.2 L300.0,776.2 L300.9,776.3 L301.7,776.3 L302.6,776.3 L303.5,776.3 L304.4,776.3 L305.3,776.3 L306.2,776.3 L307.0,776.2 L307.9,776.2 L308.8,776.1 L309.7,776.0 L310.6,776.0 L311.5,775.9 L312.3,775.8 L313.2,775.7 L314.1,775.6 L315.0,775.4 L315.9,775.3 L316.8,775.2 L317.7,775.0 L318.5,774.9 L319.4,774.7 L320.3,774.6 L321.2,774.4 L322.1,774.2 L323.0,774.0 L323.8,773.9 L324.7,773.7 L325.6,773.5 L326.5,773.3 L327.4,773.1 L328.3,773.0 L329.1,772.8 L330.0,772.6 L330.9,772.4 L331.8,772.3 L332.7,772.1 L333.6,771.9 L334.4,771.8 L335.3,771.6 L336.2,771.4 L337.1,771.3 L338.0,771.2 L338.9,771.0 L339.8,770.9 L340.6,770.8 L341.5,770.7 L342.4,770.6 L343.3,770.5 L344.2,770.4 L345.1,770.3 L345.9,770.3 L346.8,770.2 L347.7,770.2 L348.6,770.1 L349.5,770.1 L350.4,770.1 L351.2,770.1 L352.1,770.1 L353.0,770.1 L353.9,770.1 L354.8,770.2 L355.7,770.2 L356.5,770.3 L357.4,770.3 L358.3,770.4 L359.2,770.5" fill="none" stroke="#7a34d0" stroke-width="5.8" stroke-linecap="round" stroke-linejoin="round"/>
<path d="M121.4,836.2 L122.3,835.6 L123.2,835.0 L124.1,834.5 L124.9,833.9 L125.8,833.4 L126.7,833.0 L127.6,832.5 L128.5,832.1 L129.4,831.7 L130.2,831.4 L131.1,831.1 L132.0,830.8 L132.9,830.5 L133.8,830.4 L134.7,830.2 L135.5,830.1 L136.4,830.0 L137.3,830.0 L138.2,830.0 L139.1,830.0 L140.0,830.1 L140.9,830.2 L141.7,830.4 L142.6,830.6 L143.5,830.8 L144.4,831.1 L145.3,831.4 L146.2,831.7 L147.0,832.1 L147.9,832.5 L148.8,832.9 L149.7,833.4 L150.6,833.9 L151.5,834.4 L152.3,834.9 L153.2,835.5 L154.1,836.0 L155.0,836.6 L155.9,837.2 L156.8,837.8 L157.6,838.5 L158.5,839.1 L159.4,839.7 L160.3,840.4 L161.2,841.0 L162.1,841.7 L163.0,842.3 L163.8,842.9 L164.7,843.6 L165.6,844.2 L166.5,844.8 L167.4,845.4 L168.3,845.9 L169.1,846.5 L170.0,847.0 L170.9,847.6 L171.8,848.1 L172.7,848.5 L173.6,849.0 L174.4,849.4 L175.3,849.8 L176.2,850.1 L177.1,850.5 L178.0,850.8 L178.9,851.0 L179.7,851.2 L180.6,851.4 L181.5,851.6 L182.4,851.7 L183.3,851.8 L184.2,851.9 L185.1,851.9 L185.9,851.8 L186.8,851.8 L187.7,851.7 L188.6,851.6 L189.5,851.4 L190.4,851.2 L191.2,851.0 L192.1,850.7 L193.0,850.4 L193.9,850.1 L194.8,849.8 L195.7,849.4 L196.5,849.0 L197.4,848.6 L198.3,848.1 L199.2,847.7 L200.1,847.2 L201.0,846.7 L201.8,846.1 L202.7,845.6 L203.6,845.1 L204.5,844.5 L205.4,843.9 L206.3,843.4 L207.2,842.8 L208.0,842.2 L208.9,841.6 L209.8,841.1 L210.7,840.5 L211.6,839.9 L212.5,839.4 L213.3,838.8 L214.2,838.3 L215.1,837.8 L216.0,837.3 L216.9,836.8 L217.8,836.3 L218.6,835.8 L219.5,835.4 L220.4,835.0 L221.3,834.6 L222.2,834.2 L223.1,833.9 L223.9,833.6 L224.8,833.3 L225.7,833.1 L226.6,832.8 L227.5,832.7 L228.4,832.5 L229.3,832.4 L230.1,832.3 L231.0,832.2 L231.9,832.2 L232.8,832.2 L233.7,832.2 L234.6,832.3 L235.4,832.4 L236.3,832.5 L237.2,832.7 L238.1,832.9 L239.0,833.1 L239.9,833.3 L240.7,833.6 L241.6,833.9 L242.5,834.2 L243.4,834.6 L244.3,834.9 L245.2,835.3 L246.0,835.8 L246.9,836.2 L247.8,836.6 L248.7,837.1 L249.6,837.6 L250.5,838.0 L251.4,838.5 L252.2,839.0 L253.1,839.6 L254.0,840.1 L254.9,840.6 L255.8,841.1 L256.7,841.6 L257.5,842.1 L258.4,842.7 L259.3,843.2 L260.2,843.7 L261.1,844.1 L262.0,844.6 L262.8,845.1 L263.7,845.5 L264.6,846.0 L265.5,846.4 L266.4,846.8 L267.3,847.2 L268.1,847.5 L269.0,847.9 L269.9,848.2 L270.8,848.5 L271.7,848.7 L272.6,849.0 L273.5,849.2 L274.3,849.4 L275.2,849.5 L276.1,849.6 L277.0,849.7 L277.9,849.8 L278.8,849.9 L279.6,849.9 L280.5,849.9 L281.4,849.8 L282.3,849.7 L283.2,849.6 L284.1,849.5 L284.9,849.3 L285.8,849.2 L286.7,849.0 L287.6,848.7 L288.5,848.5 L289.4,848.2 L290.2,847.9 L291.1,847.6 L292.0,847.2 L292.9,846.9 L293.8,846.5 L294.7,846.1 L295.6,845.7 L296.4,845.3 L297.3,844.8 L298.2,844.4 L299.1,843.9 L300.0,843.5 L300.9,843.0 L301.7,842.5 L302.6,842.1 L303.5,841.6 L304.4,841.2 L305.3,840.7 L306.2,840.2 L307.0,839.8 L307.9,839.3 L308.8,838.9 L309.7,838.5 L310.6,838.1 L311.5,837.7 L312.3,837.3 L313.2,836.9 L314.1,836.6 L315.0,836.2 L315.9,835.9 L316.8,835.6 L317.7,835.4 L318.5,835.1 L319.4,834.9 L320.3,834.7 L321.2,834.5 L322.1,834.4 L323.0,834.2 L323.8,834.1 L324.7,834.1 L325.6,834.0 L326.5,834.0 L327.4,834.0 L328.3,834.0 L329.1,834.1 L330.0,834.1 L330.9,834.2 L331.8,834.4 L332.7,834.5 L333.6,834.7 L334.4,834.9 L335.3,835.1 L336.2,835.4 L337.1,835.6 L338.0,835.9 L338.9,836.2 L339.8,836.5 L340.6,836.9 L341.5,837.2 L342.4,837.6 L343.3,837.9 L344.2,838.3 L345.1,838.7 L345.9,839.1 L346.8,839.5 L347.7,839.9 L348.6,840.3 L349.5,840.8 L350.4,841.2 L351.2,841.6 L352.1,842.0 L353.0,842.4 L353.9,842.8 L354.8,843.2 L355.7,843.6 L356.5,844.0 L357.4,844.4 L358.3,844.8 L359.2,845.1" fill="none" stroke="#9a18b4" stroke-width="5.8" stroke-linecap="round" stroke-linejoin="round"/>
</g>
<rect x="71.8" y="25.8" width="288.2" height="878.4000000000001" fill="none" stroke="#111" stroke-width="2"/>
<line x1="94.00" y1="904.20" x2="94.00" y2="899.70" stroke="#111" stroke-width="1.5"/>
<line x1="94.00" y1="25.80" x2="94.00" y2="30.30" stroke="#111" stroke-width="1.5"/>
<line x1="116.10" y1="904.20" x2="116.10" y2="901.70" stroke="#111" stroke-width="1.5"/>
<line x1="116.10" y1="25.80" x2="116.10" y2="28.30" stroke="#111" stroke-width="1.5"/>
<line x1="138.20" y1="904.20" x2="138.20" y2="899.70" stroke="#111" stroke-width="1.5"/>
<line x1="138.20" y1="25.80" x2="138.20" y2="30.30" stroke="#111" stroke-width="1.5"/>
<line x1="160.30" y1="904.20" x2="160.30" y2="901.70" stroke="#111" stroke-width="1.5"/>
<line x1="160.30" y1="25.80" x2="160.30" y2="28.30" stroke="#111" stroke-width="1.5"/>
<line x1="182.40" y1="904.20" x2="182.40" y2="899.70" stroke="#111" stroke-width="1.5"/>
<line x1="182.40" y1="25.80" x2="182.40" y2="30.30" stroke="#111" stroke-width="1.5"/>
<line x1="204.50" y1="904.20" x2="204.50" y2="901.70" stroke="#111" stroke-width="1.5"/>
<line x1="204.50" y1="25.80" x2="204.50" y2="28.30" stroke="#111" stroke-width="1.5"/>
<line x1="226.60" y1="904.20" x2="226.60" y2="899.70" stroke="#111" stroke-width="1.5"/>
<line x1="226.60" y1="25.80" x2="226.60" y2="30.30" stroke="#111" stroke-width="1.5"/>
<line x1="248.70" y1="904.20" x2="248.70" y2="901.70" stroke="#111" stroke-width="1.5"/>
<line x1="248.70" y1="25.80" x2="248.70" y2="28.30" stroke="#111" stroke-width="1.5"/>
<line x1="270.80" y1="904.20" x2="270.80" y2="899.70" stroke="#111" stroke-width="1.5"/>
<line x1="270.80" y1="25.80" x2="270.80" y2="30.30" stroke="#111" stroke-width="1.5"/>
<line x1="292.90" y1="904.20" x2="292.90" y2="901.70" stroke="#111" stroke-width="1.5"/>
<line x1="292.90" y1="25.80" x2="292.90" y2="28.30" stroke="#111" stroke-width="1.5"/>
<line x1="315.00" y1="904.20" x2="315.00" y2="899.70" stroke="#111" stroke-width="1.5"/>
<line x1="315.00" y1="25.80" x2="315.00" y2="30.30" stroke="#111" stroke-width="1.5"/>
<line x1="337.10" y1="904.20" x2="337.10" y2="901.70" stroke="#111" stroke-width="1.5"/>
<line x1="337.10" y1="25.80" x2="337.10" y2="28.30" stroke="#111" stroke-width="1.5"/>
<line x1="71.80" y1="880.67" x2="74.00" y2="880.67" stroke="#111" stroke-width="1.5"/>
<line x1="360.00" y1="880.67" x2="357.80" y2="880.67" stroke="#111" stroke-width="1.5"/>
<line x1="71.80" y1="845.50" x2="76.30" y2="845.50" stroke="#111" stroke-width="1.5"/>
<line x1="360.00" y1="845.50" x2="355.50" y2="845.50" stroke="#111" stroke-width="1.5"/>
<line x1="71.80" y1="810.33" x2="74.00" y2="810.33" stroke="#111" stroke-width="1.5"/>
<line x1="360.00" y1="810.33" x2="357.80" y2="810.33" stroke="#111" stroke-width="1.5"/>
<line x1="71.80" y1="775.15" x2="76.30" y2="775.15" stroke="#111" stroke-width="1.5"/>
<line x1="360.00" y1="775.15" x2="355.50" y2="775.15" stroke="#111" stroke-width="1.5"/>
<line x1="71.80" y1="739.98" x2="74.00" y2="739.98" stroke="#111" stroke-width="1.5"/>
<line x1="360.00" y1="739.98" x2="357.80" y2="739.98" stroke="#111" stroke-width="1.5"/>
<line x1="71.80" y1="704.80" x2="76.30" y2="704.80" stroke="#111" stroke-width="1.5"/>
<line x1="360.00" y1="704.80" x2="355.50" y2="704.80" stroke="#111" stroke-width="1.5"/>
<line x1="71.80" y1="669.62" x2="74.00" y2="669.62" stroke="#111" stroke-width="1.5"/>
<line x1="360.00" y1="669.62" x2="357.80" y2="669.62" stroke="#111" stroke-width="1.5"/>
<line x1="71.80" y1="634.45" x2="76.30" y2="634.45" stroke="#111" stroke-width="1.5"/>
<line x1="360.00" y1="634.45" x2="355.50" y2="634.45" stroke="#111" stroke-width="1.5"/>
<line x1="71.80" y1="599.27" x2="74.00" y2="599.27" stroke="#111" stroke-width="1.5"/>
<line x1="360.00" y1="599.27" x2="357.80" y2="599.27" stroke="#111" stroke-width="1.5"/>
<line x1="71.80" y1="564.10" x2="76.30" y2="564.10" stroke="#111" stroke-width="1.5"/>
<line x1="360.00" y1="564.10" x2="355.50" y2="564.10" stroke="#111" stroke-width="1.5"/>
<line x1="71.80" y1="528.92" x2="74.00" y2="528.92" stroke="#111" stroke-width="1.5"/>
<line x1="360.00" y1="528.92" x2="357.80" y2="528.92" stroke="#111" stroke-width="1.5"/>
<line x1="71.80" y1="493.75" x2="76.30" y2="493.75" stroke="#111" stroke-width="1.5"/>
<line x1="360.00" y1="493.75" x2="355.50" y2="493.75" stroke="#111" stroke-width="1.5"/>
<line x1="71.80" y1="458.58" x2="74.00" y2="458.58" stroke="#111" stroke-width="1.5"/>
<line x1="360.00" y1="458.58" x2="357.80" y2="458.58" stroke="#111" stroke-width="1.5"/>
<line x1="71.80" y1="423.40" x2="76.30" y2="423.40" stroke="#111" stroke-width="1.5"/>
<line x1="360.00" y1="423.40" x2="355.50" y2="423.40" stroke="#111" stroke-width="1.5"/>
<line x1="71.80" y1="388.23" x2="74.00" y2="388.23" stroke="#111" stroke-width="1.5"/>
<line x1="360.00" y1="388.23" x2="357.80" y2="388.23" stroke="#111" stroke-width="1.5"/>
<line x1="71.80" y1="353.05" x2="76.30" y2="353.05" stroke="#111" stroke-width="1.5"/>
<line x1="360.00" y1="353.05" x2="355.50" y2="353.05" stroke="#111" stroke-width="1.5"/>
<line x1="71.80" y1="317.88" x2="74.00" y2="317.88" stroke="#111" stroke-width="1.5"/>
<line x1="360.00" y1="317.88" x2="357.80" y2="317.88" stroke="#111" stroke-width="1.5"/>
<line x1="71.80" y1="282.70" x2="76.30" y2="282.70" stroke="#111" stroke-width="1.5"/>
<line x1="360.00" y1="282.70" x2="355.50" y2="282.70" stroke="#111" stroke-width="1.5"/>
<line x1="71.80" y1="247.53" x2="74.00" y2="247.53" stroke="#111" stroke-width="1.5"/>
<line x1="360.00" y1="247.53" x2="357.80" y2="247.53" stroke="#111" stroke-width="1.5"/>
<line x1="71.80" y1="212.35" x2="76.30" y2="212.35" stroke="#111" stroke-width="1.5"/>
<line x1="360.00" y1="212.35" x2="355.50" y2="212.35" stroke="#111" stroke-width="1.5"/>
<line x1="71.80" y1="177.17" x2="74.00" y2="177.17" stroke="#111" stroke-width="1.5"/>
<line x1="360.00" y1="177.17" x2="357.80" y2="177.17" stroke="#111" stroke-width="1.5"/>
<line x1="71.80" y1="142.00" x2="76.30" y2="142.00" stroke="#111" stroke-width="1.5"/>
<line x1="360.00" y1="142.00" x2="355.50" y2="142.00" stroke="#111" stroke-width="1.5"/>
<line x1="71.80" y1="106.83" x2="74.00" y2="106.83" stroke="#111" stroke-width="1.5"/>
<line x1="360.00" y1="106.83" x2="357.80" y2="106.83" stroke="#111" stroke-width="1.5"/>
<line x1="71.80" y1="71.65" x2="76.30" y2="71.65" stroke="#111" stroke-width="1.5"/>
<line x1="360.00" y1="71.65" x2="355.50" y2="71.65" stroke="#111" stroke-width="1.5"/>
<line x1="71.80" y1="36.48" x2="74.00" y2="36.48" stroke="#111" stroke-width="1.5"/>
<line x1="360.00" y1="36.48" x2="357.80" y2="36.48" stroke="#111" stroke-width="1.5"/>
<text x="40.27" y="850.72" font-family='"Liberation Sans", sans-serif' font-size="18.50" font-weight="normal" fill="#111" stroke="#111" stroke-width="0.55" textLength="25.85" lengthAdjust="spacingAndGlyphs" xml:space="preserve">0.0</text>
<text x="40.27" y="780.37" font-family='"Liberation Sans", sans-serif' font-size="18.50" font-weight="normal" fill="#111" stroke="#111" stroke-width="0.55" textLength="25.95" lengthAdjust="spacingAndGlyphs" xml:space="preserve">0.3</text>
<text x="40.27" y="710.02" font-family='"Liberation Sans", sans-serif' font-size="18.50" font-weight="normal" fill="#111" stroke="#111" stroke-width="0.55" textLength="25.95" lengthAdjust="spacingAndGlyphs" xml:space="preserve">0.6</text>
<text x="40.27" y="639.67" font-family='"Liberation Sans", sans-serif' font-size="18.50" font-weight="normal" fill="#111" stroke="#111" stroke-width="0.55" textLength="26.02" lengthAdjust="spacingAndGlyphs" xml:space="preserve">0.9</text>
<text x="39.53" y="569.50" font-family='"Liberation Sans", sans-serif' font-size="18.76" font-weight="normal" fill="#111" stroke="#111" stroke-width="0.55" textLength="26.84" lengthAdjust="spacingAndGlyphs" xml:space="preserve"> .2</text>
<polygon transform="translate(39.53,569.50) scale(0.00943,-0.00916)" points="515,0 515,1237 197,1010 197,1180 530,1409 696,1409 696,0" fill="#111" stroke="#111" stroke-width="60.0"/>
<text x="39.54" y="498.97" font-family='"Liberation Sans", sans-serif' font-size="18.77" font-weight="normal" fill="#111" stroke="#111" stroke-width="0.55" textLength="26.67" lengthAdjust="spacingAndGlyphs" xml:space="preserve"> .5</text>
<polygon transform="translate(39.54,498.97) scale(0.00937,-0.00917)" points="515,0 515,1237 197,1010 197,1180 530,1409 696,1409 696,0" fill="#111" stroke="#111" stroke-width="60.0"/>
<text x="39.54" y="428.62" font-family='"Liberation Sans", sans-serif' font-size="18.50" font-weight="normal" fill="#111" stroke="#111" stroke-width="0.55" textLength="26.70" lengthAdjust="spacingAndGlyphs" xml:space="preserve"> .8</text>
<polygon transform="translate(39.54,428.62) scale(0.00938,-0.00903)" points="515,0 515,1237 197,1010 197,1180 530,1409 696,1409 696,0" fill="#111" stroke="#111" stroke-width="60.9"/>
<text x="40.05" y="358.45" font-family='"Liberation Sans", sans-serif' font-size="18.76" font-weight="normal" fill="#111" stroke="#111" stroke-width="0.55" textLength="26.27" lengthAdjust="spacingAndGlyphs" xml:space="preserve">2. </text>
<polygon transform="translate(55.81,358.45) scale(0.00923,-0.00916)" points="515,0 515,1237 197,1010 197,1180 530,1409 696,1409 696,0" fill="#111" stroke="#111" stroke-width="60.0"/>
<text x="40.06" y="288.10" font-family='"Liberation Sans", sans-serif' font-size="18.76" font-weight="normal" fill="#111" stroke="#111" stroke-width="0.55" textLength="25.88" lengthAdjust="spacingAndGlyphs" xml:space="preserve">2.4</text>
<text x="40.05" y="217.75" font-family='"Liberation Sans", sans-serif' font-size="18.76" font-weight="normal" fill="#111" stroke="#111" stroke-width="0.55" textLength="26.30" lengthAdjust="spacingAndGlyphs" xml:space="preserve">2.7</text>
<text x="40.29" y="147.22" font-family='"Liberation Sans", sans-serif' font-size="18.50" font-weight="normal" fill="#111" stroke="#111" stroke-width="0.55" textLength="25.83" lengthAdjust="spacingAndGlyphs" xml:space="preserve">3.0</text>
<text x="40.29" y="76.87" font-family='"Liberation Sans", sans-serif' font-size="18.50" font-weight="normal" fill="#111" stroke="#111" stroke-width="0.55" textLength="25.93" lengthAdjust="spacingAndGlyphs" xml:space="preserve">3.3</text>
<text x="88.76" y="923.02" font-family='"Liberation Sans", sans-serif' font-size="17.94" font-weight="normal" fill="#111" stroke="#111" stroke-width="0.55" textLength="10.47" lengthAdjust="spacingAndGlyphs" xml:space="preserve">0</text>
<text x="127.91" y="923.02" font-family='"Liberation Sans", sans-serif' font-size="17.94" font-weight="normal" fill="#111" stroke="#111" stroke-width="0.55" textLength="20.56" lengthAdjust="spacingAndGlyphs" xml:space="preserve">50</text>
<text x="166.81" y="923.02" font-family='"Liberation Sans", sans-serif' font-size="17.94" font-weight="normal" fill="#111" stroke="#111" stroke-width="0.55" textLength="30.51" lengthAdjust="spacingAndGlyphs" xml:space="preserve"> 00</text>
<polygon transform="translate(166.81,923.02) scale(0.00893,-0.00876)" points="515,0 515,1237 197,1010 197,1180 530,1409 696,1409 696,0" fill="#111" stroke="#111" stroke-width="62.8"/>
<text x="211.01" y="923.02" font-family='"Liberation Sans", sans-serif' font-size="17.94" font-weight="normal" fill="#111" stroke="#111" stroke-width="0.55" textLength="30.51" lengthAdjust="spacingAndGlyphs" xml:space="preserve"> 50</text>
<polygon transform="translate(211.01,923.02) scale(0.00893,-0.00876)" points="515,0 515,1237 197,1010 197,1180 530,1409 696,1409 696,0" fill="#111" stroke="#111" stroke-width="62.8"/>
<text x="255.70" y="923.02" font-family='"Liberation Sans", sans-serif' font-size="17.94" font-weight="normal" fill="#111" stroke="#111" stroke-width="0.55" textLength="30.01" lengthAdjust="spacingAndGlyphs" xml:space="preserve">200</text>
<text x="299.90" y="923.02" font-family='"Liberation Sans", sans-serif' font-size="17.94" font-weight="normal" fill="#111" stroke="#111" stroke-width="0.55" textLength="30.01" lengthAdjust="spacingAndGlyphs" xml:space="preserve">250</text>
<text x="344.32" y="923.02" font-family='"Liberation Sans", sans-serif' font-size="17.94" font-weight="normal" fill="#111" stroke="#111" stroke-width="0.55" textLength="29.78" lengthAdjust="spacingAndGlyphs" xml:space="preserve">300</text>
<text x="131.2" y="950.2" font-family='"Liberation Sans", sans-serif' font-size="20.8" font-weight="bold" fill="#111" textLength="171" lengthAdjust="spacingAndGlyphs">Time delay <tspan font-family='"Liberation Serif", serif' font-style="italic" font-weight="normal">&#916;</tspan> <tspan font-style="italic">t</tspan>, ps</text>
<text transform="translate(27.8,710) rotate(-90)" font-family='"Liberation Sans", sans-serif' font-size="24.5" font-weight="bold" fill="#111" textLength="484" lengthAdjust="spacingAndGlyphs">Pump-induced Farafay rotation <tspan font-family='"Liberation Serif", serif' font-style="italic" font-weight="normal">&#916;&#952;</tspan><tspan font-style="italic" dy="4">F</tspan><tspan dy="-4"> ,mrad</tspan></text>
<text x="302.25" y="56.37" font-family='"Liberation Sans", sans-serif' font-size="20.93" font-weight="normal" fill="#111" stroke="#111" stroke-width="0.35" textLength="26.60" lengthAdjust="spacingAndGlyphs" xml:space="preserve">(a)</text>
</g>
<g id="legend">
<line x1="360.00" y1="25.80" x2="360.00" y2="904.20" stroke="#222" stroke-width="1.9"/>
<rect x="360.6" y="24.6" width="110" height="356.4" fill="#fff" stroke="#9a9a9a" stroke-width="1.2"/>
<line x1="360.00" y1="24.60" x2="360.00" y2="381.00" stroke="#8c8c8c" stroke-width="2.0"/>
<line x1="355.50" y1="353.05" x2="359.00" y2="353.05" stroke="#111" stroke-width="1.5"/>
<line x1="357.80" y1="317.88" x2="359.00" y2="317.88" stroke="#111" stroke-width="1.5"/>
<line x1="355.50" y1="282.70" x2="359.00" y2="282.70" stroke="#111" stroke-width="1.5"/>
<line x1="357.80" y1="247.53" x2="359.00" y2="247.53" stroke="#111" stroke-width="1.5"/>
<line x1="355.50" y1="212.35" x2="359.00" y2="212.35" stroke="#111" stroke-width="1.5"/>
<line x1="357.80" y1="177.17" x2="359.00" y2="177.17" stroke="#111" stroke-width="1.5"/>
<line x1="355.50" y1="142.00" x2="359.00" y2="142.00" stroke="#111" stroke-width="1.5"/>
<line x1="357.80" y1="106.83" x2="359.00" y2="106.83" stroke="#111" stroke-width="1.5"/>
<line x1="355.50" y1="71.65" x2="359.00" y2="71.65" stroke="#111" stroke-width="1.5"/>
<line x1="357.80" y1="36.48" x2="359.00" y2="36.48" stroke="#111" stroke-width="1.5"/>
<text x="362.73" y="42.75" font-family='"Liberation Sans", sans-serif' font-size="15.80" font-weight="bold" fill="#111" textLength="90.31" lengthAdjust="spacingAndGlyphs" xml:space="preserve">Azimuthal</text>
<text x="362.6" y="68.4" font-family='"Liberation Sans", sans-serif' font-size="17.6" font-weight="bold" fill="#111" textLength="71.5" lengthAdjust="spacingAndGlyphs">pozition</text>
<text x="441.5" y="68.4" font-family='"Liberation Serif", serif' font-size="19" font-style="italic" fill="#111">&#966;</text>
<text x="456.5" y="68.4" font-family='"Liberation Sans", sans-serif' font-size="17.6" font-weight="bold" fill="#111">,</text>
<text x="362.42" y="92.13" font-family='"Liberation Sans", sans-serif' font-size="18.26" font-weight="bold" fill="#111" textLength="33.85" lengthAdjust="spacingAndGlyphs" xml:space="preserve">deg</text>
<line x1="362.5" y1="109.9" x2="405" y2="109.9" stroke="#d42a1e" stroke-width="4.2" stroke-linecap="round"/>
<text x="410.58" y="116.29" font-family='"Liberation Sans", sans-serif' font-size="18.46" font-weight="bold" fill="#111" textLength="30.88" lengthAdjust="spacingAndGlyphs" xml:space="preserve">330</text>
<line x1="362.5" y1="133.5" x2="405" y2="133.5" stroke="#c0661c" stroke-width="4.2" stroke-linecap="round"/>
<text x="410.58" y="139.89" font-family='"Liberation Sans", sans-serif' font-size="18.46" font-weight="bold" fill="#111" textLength="30.88" lengthAdjust="spacingAndGlyphs" xml:space="preserve">300</text>
<line x1="362.5" y1="157.2" x2="405" y2="157.2" stroke="#8c9a1c" stroke-width="4.2" stroke-linecap="round"/>
<text x="410.35" y="163.62" font-family='"Liberation Sans", sans-serif' font-size="18.50" font-weight="bold" fill="#111" textLength="31.11" lengthAdjust="spacingAndGlyphs" xml:space="preserve">270</text>
<line x1="362.5" y1="180.4" x2="405" y2="180.4" stroke="#5e9a1e" stroke-width="4.2" stroke-linecap="round"/>
<text x="410.35" y="186.82" font-family='"Liberation Sans", sans-serif' font-size="18.50" font-weight="bold" fill="#111" textLength="31.11" lengthAdjust="spacingAndGlyphs" xml:space="preserve">240</text>
<line x1="362.5" y1="204.0" x2="405" y2="204.0" stroke="#2a9a22" stroke-width="4.2" stroke-linecap="round"/>
<text x="410.35" y="210.42" font-family='"Liberation Sans", sans-serif' font-size="18.50" font-weight="bold" fill="#111" textLength="31.11" lengthAdjust="spacingAndGlyphs" xml:space="preserve">2 0</text>
<polygon transform="translate(420.72,210.42) scale(0.00910,-0.00903)" points="478,0 478,1170 140,959 140,1180 493,1409 759,1409 759,0" fill="#111"/>
<line x1="362.5" y1="227.7" x2="405" y2="227.7" stroke="#1c9a3c" stroke-width="4.2" stroke-linecap="round"/>
<text x="409.80" y="234.12" font-family='"Liberation Sans", sans-serif' font-size="18.50" font-weight="bold" fill="#111" textLength="31.67" lengthAdjust="spacingAndGlyphs" xml:space="preserve"> 80</text>
<polygon transform="translate(409.80,234.12) scale(0.00927,-0.00903)" points="478,0 478,1170 140,959 140,1180 493,1409 759,1409 759,0" fill="#111"/>
<line x1="362.5" y1="251.1" x2="405" y2="251.1" stroke="#1a8e6c" stroke-width="4.2" stroke-linecap="round"/>
<text x="409.80" y="257.52" font-family='"Liberation Sans", sans-serif' font-size="18.50" font-weight="bold" fill="#111" textLength="31.67" lengthAdjust="spacingAndGlyphs" xml:space="preserve"> 50</text>
<polygon transform="translate(409.80,257.52) scale(0.00927,-0.00903)" points="478,0 478,1170 140,959 140,1180 493,1409 759,1409 759,0" fill="#111"/>
<line x1="362.5" y1="274.5" x2="405" y2="274.5" stroke="#1a8a98" stroke-width="4.2" stroke-linecap="round"/>
<text x="409.80" y="280.92" font-family='"Liberation Sans", sans-serif' font-size="18.50" font-weight="bold" fill="#111" textLength="31.67" lengthAdjust="spacingAndGlyphs" xml:space="preserve"> 20</text>
<polygon transform="translate(409.80,280.92) scale(0.00927,-0.00903)" points="478,0 478,1170 140,959 140,1180 493,1409 759,1409 759,0" fill="#111"/>
<line x1="362.5" y1="298.1" x2="405" y2="298.1" stroke="#2a6ac4" stroke-width="4.2" stroke-linecap="round"/>
<text x="410.34" y="304.52" font-family='"Liberation Sans", sans-serif' font-size="18.50" font-weight="bold" fill="#111" textLength="21.03" lengthAdjust="spacingAndGlyphs" xml:space="preserve">90</text>
<line x1="362.5" y1="321.4" x2="405" y2="321.4" stroke="#4a52e0" stroke-width="4.2" stroke-linecap="round"/>
<text x="410.31" y="327.82" font-family='"Liberation Sans", sans-serif' font-size="18.50" font-weight="bold" fill="#111" textLength="21.07" lengthAdjust="spacingAndGlyphs" xml:space="preserve">60</text>
<line x1="362.5" y1="345.2" x2="405" y2="345.2" stroke="#7a34d0" stroke-width="4.2" stroke-linecap="round"/>
<text x="410.57" y="351.59" font-family='"Liberation Sans", sans-serif' font-size="18.46" font-weight="bold" fill="#111" textLength="20.80" lengthAdjust="spacingAndGlyphs" xml:space="preserve">30</text>
<line x1="362.5" y1="368.4" x2="405" y2="368.4" stroke="#9a18b4" stroke-width="4.2" stroke-linecap="round"/>
<text x="410.22" y="374.82" font-family='"Liberation Sans", sans-serif' font-size="18.50" font-weight="bold" fill="#111" textLength="10.99" lengthAdjust="spacingAndGlyphs" xml:space="preserve">0</text>
</g>
<g id="panelB">
<rect x="486.7" y="24.8" width="340.8" height="160.2" fill="none" stroke="#111" stroke-width="2"/>
<line x1="497.90" y1="185.00" x2="497.90" y2="180.00" stroke="#111" stroke-width="1.5"/>
<line x1="497.90" y1="24.80" x2="497.90" y2="29.80" stroke="#111" stroke-width="1.5"/>
<line x1="520.60" y1="185.00" x2="520.60" y2="182.00" stroke="#111" stroke-width="1.5"/>
<line x1="520.60" y1="24.80" x2="520.60" y2="27.80" stroke="#111" stroke-width="1.5"/>
<line x1="543.30" y1="185.00" x2="543.30" y2="180.00" stroke="#111" stroke-width="1.5"/>
<line x1="543.30" y1="24.80" x2="543.30" y2="29.80" stroke="#111" stroke-width="1.5"/>
<line x1="566.00" y1="185.00" x2="566.00" y2="182.00" stroke="#111" stroke-width="1.5"/>
<line x1="566.00" y1="24.80" x2="566.00" y2="27.80" stroke="#111" stroke-width="1.5"/>
<line x1="588.70" y1="185.00" x2="588.70" y2="180.00" stroke="#111" stroke-width="1.5"/>
<line x1="588.70" y1="24.80" x2="588.70" y2="29.80" stroke="#111" stroke-width="1.5"/>
<line x1="611.40" y1="185.00" x2="611.40" y2="182.00" stroke="#111" stroke-width="1.5"/>
<line x1="611.40" y1="24.80" x2="611.40" y2="27.80" stroke="#111" stroke-width="1.5"/>
<line x1="634.10" y1="185.00" x2="634.10" y2="180.00" stroke="#111" stroke-width="1.5"/>
<line x1="634.10" y1="24.80" x2="634.10" y2="29.80" stroke="#111" stroke-width="1.5"/>
<line x1="656.80" y1="185.00" x2="656.80" y2="182.00" stroke="#111" stroke-width="1.5"/>
<line x1="656.80" y1="24.80" x2="656.80" y2="27.80" stroke="#111" stroke-width="1.5"/>
<line x1="679.50" y1="185.00" x2="679.50" y2="180.00" stroke="#111" stroke-width="1.5"/>
<line x1="679.50" y1="24.80" x2="679.50" y2="29.80" stroke="#111" stroke-width="1.5"/>
<line x1="702.20" y1="185.00" x2="702.20" y2="182.00" stroke="#111" stroke-width="1.5"/>
<line x1="702.20" y1="24.80" x2="702.20" y2="27.80" stroke="#111" stroke-width="1.5"/>
<line x1="724.90" y1="185.00" x2="724.90" y2="180.00" stroke="#111" stroke-width="1.5"/>
<line x1="724.90" y1="24.80" x2="724.90" y2="29.80" stroke="#111" stroke-width="1.5"/>
<line x1="747.60" y1="185.00" x2="747.60" y2="182.00" stroke="#111" stroke-width="1.5"/>
<line x1="747.60" y1="24.80" x2="747.60" y2="27.80" stroke="#111" stroke-width="1.5"/>
<line x1="770.30" y1="185.00" x2="770.30" y2="180.00" stroke="#111" stroke-width="1.5"/>
<line x1="770.30" y1="24.80" x2="770.30" y2="29.80" stroke="#111" stroke-width="1.5"/>
<line x1="793.00" y1="185.00" x2="793.00" y2="182.00" stroke="#111" stroke-width="1.5"/>
<line x1="793.00" y1="24.80" x2="793.00" y2="27.80" stroke="#111" stroke-width="1.5"/>
<line x1="815.70" y1="185.00" x2="815.70" y2="180.00" stroke="#111" stroke-width="1.5"/>
<line x1="815.70" y1="24.80" x2="815.70" y2="29.80" stroke="#111" stroke-width="1.5"/>
<line x1="486.70" y1="173.56" x2="489.70" y2="173.56" stroke="#111" stroke-width="1.5"/>
<line x1="827.50" y1="173.56" x2="824.50" y2="173.56" stroke="#111" stroke-width="1.5"/>
<line x1="486.70" y1="162.12" x2="491.70" y2="162.12" stroke="#111" stroke-width="1.5"/>
<line x1="827.50" y1="162.12" x2="822.50" y2="162.12" stroke="#111" stroke-width="1.5"/>
<line x1="486.70" y1="150.68" x2="489.70" y2="150.68" stroke="#111" stroke-width="1.5"/>
<line x1="827.50" y1="150.68" x2="824.50" y2="150.68" stroke="#111" stroke-width="1.5"/>
<line x1="486.70" y1="139.24" x2="491.70" y2="139.24" stroke="#111" stroke-width="1.5"/>
<line x1="827.50" y1="139.24" x2="822.50" y2="139.24" stroke="#111" stroke-width="1.5"/>
<line x1="486.70" y1="127.80" x2="489.70" y2="127.80" stroke="#111" stroke-width="1.5"/>
<line x1="827.50" y1="127.80" x2="824.50" y2="127.80" stroke="#111" stroke-width="1.5"/>
<line x1="486.70" y1="116.36" x2="491.70" y2="116.36" stroke="#111" stroke-width="1.5"/>
<line x1="827.50" y1="116.36" x2="822.50" y2="116.36" stroke="#111" stroke-width="1.5"/>
<line x1="486.70" y1="104.92" x2="489.70" y2="104.92" stroke="#111" stroke-width="1.5"/>
<line x1="827.50" y1="104.92" x2="824.50" y2="104.92" stroke="#111" stroke-width="1.5"/>
<line x1="486.70" y1="93.48" x2="491.70" y2="93.48" stroke="#111" stroke-width="1.5"/>
<line x1="827.50" y1="93.48" x2="822.50" y2="93.48" stroke="#111" stroke-width="1.5"/>
<line x1="486.70" y1="82.04" x2="489.70" y2="82.04" stroke="#111" stroke-width="1.5"/>
<line x1="827.50" y1="82.04" x2="824.50" y2="82.04" stroke="#111" stroke-width="1.5"/>
<line x1="486.70" y1="70.60" x2="491.70" y2="70.60" stroke="#111" stroke-width="1.5"/>
<line x1="827.50" y1="70.60" x2="822.50" y2="70.60" stroke="#111" stroke-width="1.5"/>
<line x1="486.70" y1="59.16" x2="489.70" y2="59.16" stroke="#111" stroke-width="1.5"/>
<line x1="827.50" y1="59.16" x2="824.50" y2="59.16" stroke="#111" stroke-width="1.5"/>
<line x1="486.70" y1="47.72" x2="491.70" y2="47.72" stroke="#111" stroke-width="1.5"/>
<line x1="827.50" y1="47.72" x2="822.50" y2="47.72" stroke="#111" stroke-width="1.5"/>
<line x1="486.70" y1="36.28" x2="489.70" y2="36.28" stroke="#111" stroke-width="1.5"/>
<line x1="827.50" y1="36.28" x2="824.50" y2="36.28" stroke="#111" stroke-width="1.5"/>
<text x="482.34" y="204.03" font-family='"Liberation Sans", sans-serif' font-size="17.80" font-weight="normal" fill="#111" stroke="#111" stroke-width="0.55" textLength="31.03" lengthAdjust="spacingAndGlyphs" xml:space="preserve">880</text>
<text x="527.68" y="204.03" font-family='"Liberation Sans", sans-serif' font-size="17.80" font-weight="normal" fill="#111" stroke="#111" stroke-width="0.55" textLength="31.10" lengthAdjust="spacingAndGlyphs" xml:space="preserve">900</text>
<text x="573.08" y="204.03" font-family='"Liberation Sans", sans-serif' font-size="17.80" font-weight="normal" fill="#111" stroke="#111" stroke-width="0.55" textLength="31.10" lengthAdjust="spacingAndGlyphs" xml:space="preserve">920</text>
<text x="618.48" y="204.03" font-family='"Liberation Sans", sans-serif' font-size="17.80" font-weight="normal" fill="#111" stroke="#111" stroke-width="0.55" textLength="31.10" lengthAdjust="spacingAndGlyphs" xml:space="preserve">940</text>
<text x="663.88" y="204.03" font-family='"Liberation Sans", sans-serif' font-size="17.80" font-weight="normal" fill="#111" stroke="#111" stroke-width="0.55" textLength="31.10" lengthAdjust="spacingAndGlyphs" xml:space="preserve">960</text>
<text x="709.28" y="204.03" font-family='"Liberation Sans", sans-serif' font-size="17.80" font-weight="normal" fill="#111" stroke="#111" stroke-width="0.55" textLength="31.10" lengthAdjust="spacingAndGlyphs" xml:space="preserve">980</text>
<text x="749.18" y="204.03" font-family='"Liberation Sans", sans-serif' font-size="17.80" font-weight="normal" fill="#111" stroke="#111" stroke-width="0.55" textLength="41.55" lengthAdjust="spacingAndGlyphs" xml:space="preserve"> 000</text>
<polygon transform="translate(749.18,204.03) scale(0.00912,-0.00869)" points="515,0 515,1237 197,1010 197,1180 530,1409 696,1409 696,0" fill="#111" stroke="#111" stroke-width="63.3"/>
<text x="794.58" y="204.03" font-family='"Liberation Sans", sans-serif' font-size="17.80" font-weight="normal" fill="#111" stroke="#111" stroke-width="0.55" textLength="41.55" lengthAdjust="spacingAndGlyphs" xml:space="preserve"> 020</text>
<polygon transform="translate(794.58,204.03) scale(0.00912,-0.00869)" points="515,0 515,1237 197,1010 197,1180 530,1409 696,1409 696,0" fill="#111" stroke="#111" stroke-width="63.3"/>
<text x="831.65" y="168.52" font-family='"Liberation Sans", sans-serif' font-size="17.73" font-weight="normal" fill="#111" stroke="#111" stroke-width="0.55" textLength="11.35" lengthAdjust="spacingAndGlyphs" xml:space="preserve"> </text>
<polygon transform="translate(831.65,168.52) scale(0.00997,-0.00866)" points="515,0 515,1237 197,1010 197,1180 530,1409 696,1409 696,0" fill="#111" stroke="#111" stroke-width="63.5"/>
<text x="832.23" y="145.64" font-family='"Liberation Sans", sans-serif' font-size="17.47" font-weight="normal" fill="#111" stroke="#111" stroke-width="0.55" textLength="10.74" lengthAdjust="spacingAndGlyphs" xml:space="preserve">2</text>
<text x="832.49" y="122.59" font-family='"Liberation Sans", sans-serif' font-size="17.23" font-weight="normal" fill="#111" stroke="#111" stroke-width="0.55" textLength="10.32" lengthAdjust="spacingAndGlyphs" xml:space="preserve">3</text>
<text x="832.80" y="99.88" font-family='"Liberation Sans", sans-serif' font-size="17.73" font-weight="normal" fill="#111" stroke="#111" stroke-width="0.55" textLength="9.71" lengthAdjust="spacingAndGlyphs" xml:space="preserve">4</text>
<text x="832.46" y="76.83" font-family='"Liberation Sans", sans-serif' font-size="17.48" font-weight="normal" fill="#111" stroke="#111" stroke-width="0.55" textLength="10.32" lengthAdjust="spacingAndGlyphs" xml:space="preserve">5</text>
<text x="832.23" y="53.95" font-family='"Liberation Sans", sans-serif' font-size="17.23" font-weight="normal" fill="#111" stroke="#111" stroke-width="0.55" textLength="10.61" lengthAdjust="spacingAndGlyphs" xml:space="preserve">6</text>
<text x="832.21" y="29.40" font-family='"Liberation Sans", sans-serif' font-size="17.73" font-weight="normal" fill="#111" stroke="#111" stroke-width="0.55" textLength="10.77" lengthAdjust="spacingAndGlyphs" xml:space="preserve">7</text>
<text x="576.98" y="232.83" font-family='"Liberation Sans", sans-serif' font-size="18.26" font-weight="bold" fill="#111" textLength="159.51" lengthAdjust="spacingAndGlyphs" xml:space="preserve">Wavelength, nm</text>
<path d="M497.9,152.3 L543.3,47.7 L611.4,111.8 L679.5,93.5 L747.6,154.6 L815.7,139.9" fill="none" stroke="#c0282c" stroke-width="2.2" stroke-linejoin="round"/>
<line x1="497.90" y1="146.56" x2="497.90" y2="158.00" stroke="#c0282c" stroke-width="1.8"/>
<line x1="494.70" y1="146.56" x2="501.10" y2="146.56" stroke="#c0282c" stroke-width="1.8"/>
<line x1="494.70" y1="158.00" x2="501.10" y2="158.00" stroke="#c0282c" stroke-width="1.8"/>
<circle cx="497.9" cy="152.3" r="4.8" fill="#e8141c"/>
<circle cx="496.9" cy="151.5" r="1.1" fill="#ffb0b0"/>
<line x1="543.30" y1="40.86" x2="543.30" y2="54.58" stroke="#c0282c" stroke-width="1.8"/>
<line x1="540.10" y1="40.86" x2="546.50" y2="40.86" stroke="#c0282c" stroke-width="1.8"/>
<line x1="540.10" y1="54.58" x2="546.50" y2="54.58" stroke="#c0282c" stroke-width="1.8"/>
<circle cx="543.3" cy="47.7" r="4.8" fill="#e8141c"/>
<circle cx="542.3" cy="46.9" r="1.1" fill="#ffb0b0"/>
<line x1="611.40" y1="103.78" x2="611.40" y2="119.79" stroke="#c0282c" stroke-width="1.8"/>
<line x1="608.20" y1="103.78" x2="614.60" y2="103.78" stroke="#c0282c" stroke-width="1.8"/>
<line x1="608.20" y1="119.79" x2="614.60" y2="119.79" stroke="#c0282c" stroke-width="1.8"/>
<circle cx="611.4" cy="111.8" r="4.8" fill="#e8141c"/>
<circle cx="610.4" cy="111.0" r="1.1" fill="#ffb0b0"/>
<line x1="679.50" y1="84.79" x2="679.50" y2="102.17" stroke="#c0282c" stroke-width="1.8"/>
<line x1="676.30" y1="84.79" x2="682.70" y2="84.79" stroke="#c0282c" stroke-width="1.8"/>
<line x1="676.30" y1="102.17" x2="682.70" y2="102.17" stroke="#c0282c" stroke-width="1.8"/>
<circle cx="679.5" cy="93.5" r="4.8" fill="#e8141c"/>
<circle cx="678.5" cy="92.7" r="1.1" fill="#ffb0b0"/>
<line x1="747.60" y1="145.88" x2="747.60" y2="163.26" stroke="#c0282c" stroke-width="1.8"/>
<line x1="744.40" y1="145.88" x2="750.80" y2="145.88" stroke="#c0282c" stroke-width="1.8"/>
<line x1="744.40" y1="163.26" x2="750.80" y2="163.26" stroke="#c0282c" stroke-width="1.8"/>
<circle cx="747.6" cy="154.6" r="4.8" fill="#e8141c"/>
<circle cx="746.6" cy="153.8" r="1.1" fill="#ffb0b0"/>
<line x1="815.70" y1="131.23" x2="815.70" y2="148.62" stroke="#c0282c" stroke-width="1.8"/>
<line x1="812.50" y1="131.23" x2="818.90" y2="131.23" stroke="#c0282c" stroke-width="1.8"/>
<line x1="812.50" y1="148.62" x2="818.90" y2="148.62" stroke="#c0282c" stroke-width="1.8"/>
<circle cx="815.7" cy="139.9" r="4.8" fill="#e8141c"/>
<circle cx="814.7" cy="139.1" r="1.1" fill="#ffb0b0"/>
<text x="782.48" y="57.10" font-family='"Liberation Sans", sans-serif' font-size="21.25" font-weight="normal" fill="#111" stroke="#111" stroke-width="0.35" textLength="27.93" lengthAdjust="spacingAndGlyphs" xml:space="preserve">(b)</text>
<text transform="translate(876.6,170.2) rotate(-90)" font-family='"Liberation Sans", sans-serif' font-size="24" font-weight="bold" fill="#111" textLength="126.6" lengthAdjust="spacingAndGlyphs">Precession</text>
<text transform="translate(908.5,206.4) rotate(-90)" font-family='"Liberation Sans", sans-serif' font-size="25" font-weight="bold" fill="#111" textLength="199" lengthAdjust="spacingAndGlyphs">amplitude <tspan font-style="italic">I</tspan><tspan font-style="italic" font-size="18" dy="3">1</tspan><tspan dy="-3">, a.u.</tspan></text>
</g>
<g id="panelC">
<circle cx="656.6" cy="415.6" r="146.7" fill="none" stroke="#444" stroke-width="1.1"/>
<circle cx="656.6" cy="415.6" r="137.6" fill="none" stroke="#888" stroke-width="0.9"/>
<circle cx="656.6" cy="415.6" r="91.8" fill="none" stroke="#777" stroke-width="0.9" stroke-dasharray="4 2"/>
<circle cx="656.6" cy="415.6" r="45.9" fill="none" stroke="#777" stroke-width="0.9" stroke-dasharray="4 2"/>
<line x1="679.60" y1="415.60" x2="803.30" y2="415.60" stroke="#888" stroke-width="0.9"/>
<line x1="676.52" y1="404.10" x2="783.65" y2="342.25" stroke="#888" stroke-width="0.9"/>
<line x1="668.10" y1="395.68" x2="729.95" y2="288.55" stroke="#888" stroke-width="0.9"/>
<line x1="656.60" y1="392.60" x2="656.60" y2="268.90" stroke="#888" stroke-width="0.9"/>
<line x1="645.10" y1="395.68" x2="583.25" y2="288.55" stroke="#888" stroke-width="0.9"/>
<line x1="636.68" y1="404.10" x2="529.55" y2="342.25" stroke="#888" stroke-width="0.9"/>
<line x1="633.60" y1="415.60" x2="509.90" y2="415.60" stroke="#888" stroke-width="0.9"/>
<line x1="636.68" y1="427.10" x2="529.55" y2="488.95" stroke="#888" stroke-width="0.9"/>
<line x1="645.10" y1="435.52" x2="583.25" y2="542.65" stroke="#888" stroke-width="0.9"/>
<line x1="656.60" y1="438.60" x2="656.60" y2="562.30" stroke="#888" stroke-width="0.9"/>
<line x1="668.10" y1="435.52" x2="729.95" y2="542.65" stroke="#888" stroke-width="0.9"/>
<line x1="676.52" y1="427.10" x2="783.65" y2="488.95" stroke="#888" stroke-width="0.9"/>
<line x1="800.30" y1="415.60" x2="803.30" y2="415.60" stroke="#333" stroke-width="1"/>
<line x1="795.40" y1="378.41" x2="798.30" y2="377.63" stroke="#333" stroke-width="1"/>
<line x1="781.05" y1="343.75" x2="783.65" y2="342.25" stroke="#333" stroke-width="1"/>
<line x1="758.21" y1="313.99" x2="760.33" y2="311.87" stroke="#333" stroke-width="1"/>
<line x1="728.45" y1="291.15" x2="729.95" y2="288.55" stroke="#333" stroke-width="1"/>
<line x1="693.79" y1="276.80" x2="694.57" y2="273.90" stroke="#333" stroke-width="1"/>
<line x1="656.60" y1="271.90" x2="656.60" y2="268.90" stroke="#333" stroke-width="1"/>
<line x1="619.41" y1="276.80" x2="618.63" y2="273.90" stroke="#333" stroke-width="1"/>
<line x1="584.75" y1="291.15" x2="583.25" y2="288.55" stroke="#333" stroke-width="1"/>
<line x1="554.99" y1="313.99" x2="552.87" y2="311.87" stroke="#333" stroke-width="1"/>
<line x1="532.15" y1="343.75" x2="529.55" y2="342.25" stroke="#333" stroke-width="1"/>
<line x1="517.80" y1="378.41" x2="514.90" y2="377.63" stroke="#333" stroke-width="1"/>
<line x1="512.90" y1="415.60" x2="509.90" y2="415.60" stroke="#333" stroke-width="1"/>
<line x1="517.80" y1="452.79" x2="514.90" y2="453.57" stroke="#333" stroke-width="1"/>
<line x1="532.15" y1="487.45" x2="529.55" y2="488.95" stroke="#333" stroke-width="1"/>
<line x1="554.99" y1="517.21" x2="552.87" y2="519.33" stroke="#333" stroke-width="1"/>
<line x1="584.75" y1="540.05" x2="583.25" y2="542.65" stroke="#333" stroke-width="1"/>
<line x1="619.41" y1="554.40" x2="618.63" y2="557.30" stroke="#333" stroke-width="1"/>
<line x1="656.60" y1="559.30" x2="656.60" y2="562.30" stroke="#333" stroke-width="1"/>
<line x1="693.79" y1="554.40" x2="694.57" y2="557.30" stroke="#333" stroke-width="1"/>
<line x1="728.45" y1="540.05" x2="729.95" y2="542.65" stroke="#333" stroke-width="1"/>
<line x1="758.21" y1="517.21" x2="760.33" y2="519.33" stroke="#333" stroke-width="1"/>
<line x1="781.05" y1="487.45" x2="783.65" y2="488.95" stroke="#333" stroke-width="1"/>
<line x1="795.40" y1="452.79" x2="798.30" y2="453.57" stroke="#333" stroke-width="1"/>
<path d="M656.5,277.5 C654.4,277.5 653.4,278.1 651.1,278.9 C648.8,279.7 645.1,280.6 642.5,282.3 C639.9,284.0 637.6,286.6 635.6,289.2 C633.6,291.8 631.9,294.1 630.5,297.8 C629.1,301.5 628.0,306.9 627.0,311.5 C626.0,316.1 625.2,320.9 624.5,325.2 C623.8,329.5 623.3,333.6 622.7,337.3 C622.1,341.0 621.7,344.9 621.0,347.6 C620.3,350.3 620.1,352.8 618.5,353.6 C616.9,354.5 614.2,353.2 611.6,352.7 C609.0,352.2 606.7,351.2 603.0,350.6 C599.3,350.0 593.6,349.5 589.3,349.3 C585.0,349.1 581.3,348.7 577.3,349.3 C573.3,349.9 568.1,351.0 565.2,352.7 C562.3,354.4 561.1,356.7 560.1,359.6 C559.1,362.5 558.6,366.5 559.2,369.9 C559.8,373.3 562.0,376.9 563.5,380.2 C565.0,383.5 566.1,387.0 568.3,389.7 C570.5,392.4 573.9,393.8 576.9,396.1 C579.9,398.4 584.1,401.1 586.5,403.6 C588.9,406.1 591.0,409.0 591.4,411.1 C591.8,413.2 590.6,415.1 588.7,416.5 C586.8,417.9 583.2,418.3 580.1,419.7 C577.0,421.1 573.6,423.0 570.4,425.1 C567.2,427.2 564.0,429.9 560.8,432.6 C557.6,435.3 554.0,438.4 551.1,441.2 C548.2,444.0 545.8,446.7 543.6,449.7 C541.5,452.7 539.5,456.2 538.2,459.4 C537.0,462.6 536.5,465.9 536.1,469.1 C535.8,472.3 535.8,475.9 536.1,478.7 C536.4,481.5 536.9,484.1 538.0,486.0 C539.1,487.9 540.4,488.4 542.9,489.8 C545.4,491.2 549.5,493.2 553.2,494.1 C556.9,495.0 561.2,495.4 565.2,495.0 C569.2,494.6 573.0,492.8 577.3,491.5 C581.6,490.2 586.7,488.7 591.0,487.3 C595.3,485.9 599.3,484.4 603.0,483.0 C606.7,481.6 610.1,479.8 613.3,478.7 C616.4,477.6 619.5,476.2 621.9,476.1 C624.3,476.0 626.3,475.9 627.9,477.8 C629.5,479.7 630.3,483.7 631.3,487.3 C632.3,490.9 632.9,495.6 633.9,499.3 C634.9,503.0 635.9,506.6 637.3,509.6 C638.7,512.6 640.5,515.2 642.5,517.3 C644.5,519.4 647.0,521.0 649.4,522.4 C651.8,523.8 654.8,524.7 656.6,525.4 C658.4,526.1 658.5,527.3 660.3,526.7 C662.1,526.1 664.6,524.2 667.2,521.6 C669.8,519.0 673.7,515.3 675.8,511.3 C677.9,507.3 679.0,502.2 680.0,497.6 C681.0,493.0 681.2,487.5 681.8,483.8 C682.4,480.1 682.5,476.9 683.5,475.2 C684.5,473.5 685.6,472.9 687.8,473.5 C689.9,474.1 693.2,476.7 696.4,478.7 C699.5,480.7 703.0,483.4 706.7,485.5 C710.4,487.6 714.7,489.9 718.7,491.5 C722.7,493.1 726.1,494.1 730.7,495.0 C735.3,495.9 741.0,496.7 746.1,496.7 C751.2,496.7 757.6,496.0 761.6,495.0 C765.6,494.0 767.9,492.6 770.2,490.7 C772.5,488.8 774.0,486.4 775.3,483.8 C776.6,481.2 777.5,478.4 777.9,475.2 C778.3,472.0 778.6,468.3 777.9,464.9 C777.2,461.5 775.0,457.2 773.6,454.6 C772.2,452.0 771.5,451.6 769.4,449.1 C767.3,446.6 763.8,442.3 760.8,439.4 C757.8,436.5 754.8,434.6 751.2,431.9 C747.6,429.2 742.8,425.6 739.4,423.3 C736.0,421.0 733.1,419.3 730.8,417.9 C728.5,416.5 726.1,415.9 725.4,414.7 C724.7,413.4 725.2,412.4 726.5,410.4 C727.8,408.4 730.6,405.4 732.9,402.9 C735.2,400.4 737.9,397.9 740.4,395.4 C742.9,392.9 745.8,390.8 747.9,387.9 C750.0,385.0 752.0,381.4 753.3,378.2 C754.6,375.0 755.5,371.6 755.5,368.6 C755.5,365.6 754.3,361.8 753.3,360.0 C752.3,358.2 751.6,359.3 749.6,357.9 C747.6,356.5 744.1,352.9 741.0,351.8 C737.9,350.7 734.4,350.7 730.7,351.0 C727.0,351.3 722.7,352.5 718.7,353.6 C714.7,354.8 710.1,356.9 706.7,357.9 C703.3,358.9 700.4,359.9 698.1,359.6 C695.8,359.3 694.0,358.4 692.9,356.1 C691.8,353.8 691.6,349.8 691.2,345.8 C690.8,341.8 690.7,337.0 690.3,332.1 C689.9,327.2 689.5,321.3 688.6,316.7 C687.8,312.1 686.6,308.6 685.2,304.6 C683.8,300.6 682.1,296.0 680.0,292.6 C677.9,289.2 675.0,286.3 672.3,284.0 C669.6,281.7 666.3,280.0 663.7,278.9 C661.1,277.8 658.6,277.5 656.5,277.5Z" fill="none" stroke="#f5b4b4" stroke-width="7.5" stroke-linejoin="round"/>
<line x1="656.51" y1="286.70" x2="656.49" y2="268.70" stroke="#c86464" stroke-width="0.7"/>
<line x1="638.35" y1="311.46" x2="635.25" y2="293.74" stroke="#c86464" stroke-width="0.7"/>
<line x1="632.66" y1="349.46" x2="626.54" y2="332.54" stroke="#c86464" stroke-width="0.7"/>
<line x1="624.28" y1="359.31" x2="615.32" y2="343.69" stroke="#c86464" stroke-width="0.7"/>
<line x1="619.37" y1="371.10" x2="607.83" y2="357.30" stroke="#c86464" stroke-width="0.7"/>
<line x1="602.67" y1="370.01" x2="588.93" y2="358.39" stroke="#c86464" stroke-width="0.7"/>
<line x1="561.99" y1="361.00" x2="546.41" y2="352.00" stroke="#c86464" stroke-width="0.7"/>
<line x1="580.87" y1="388.26" x2="563.93" y2="382.14" stroke="#c86464" stroke-width="0.7"/>
<line x1="589.16" y1="403.76" x2="571.44" y2="400.64" stroke="#c86464" stroke-width="0.7"/>
<line x1="590.40" y1="415.69" x2="572.40" y2="415.71" stroke="#c86464" stroke-width="0.7"/>
<line x1="586.56" y1="428.03" x2="568.84" y2="431.17" stroke="#c86464" stroke-width="0.7"/>
<line x1="587.95" y1="440.71" x2="571.05" y2="446.89" stroke="#c86464" stroke-width="0.7"/>
<line x1="545.58" y1="480.17" x2="530.02" y2="489.23" stroke="#c86464" stroke-width="0.7"/>
<line x1="570.08" y1="488.69" x2="556.32" y2="500.31" stroke="#c86464" stroke-width="0.7"/>
<line x1="610.84" y1="470.87" x2="599.36" y2="484.73" stroke="#c86464" stroke-width="0.7"/>
<line x1="625.47" y1="469.99" x2="616.53" y2="485.61" stroke="#c86464" stroke-width="0.7"/>
<line x1="633.52" y1="480.52" x2="627.48" y2="497.48" stroke="#c86464" stroke-width="0.7"/>
<line x1="644.80" y1="485.63" x2="641.80" y2="503.37" stroke="#c86464" stroke-width="0.7"/>
<line x1="656.60" y1="514.50" x2="656.60" y2="532.50" stroke="#c86464" stroke-width="0.7"/>
<line x1="669.53" y1="488.34" x2="672.67" y2="506.06" stroke="#c86464" stroke-width="0.7"/>
<line x1="679.19" y1="477.05" x2="685.41" y2="493.95" stroke="#c86464" stroke-width="0.7"/>
<line x1="691.50" y1="476.01" x2="700.50" y2="491.59" stroke="#c86464" stroke-width="0.7"/>
<line x1="708.63" y1="477.80" x2="720.17" y2="491.60" stroke="#c86464" stroke-width="0.7"/>
<line x1="725.02" y1="473.20" x2="738.78" y2="484.80" stroke="#c86464" stroke-width="0.7"/>
<line x1="760.71" y1="475.89" x2="776.29" y2="484.91" stroke="#c86464" stroke-width="0.7"/>
<line x1="742.14" y1="446.54" x2="759.06" y2="452.66" stroke="#c86464" stroke-width="0.7"/>
<line x1="725.63" y1="427.65" x2="743.37" y2="430.75" stroke="#c86464" stroke-width="0.7"/>
<line x1="711.60" y1="415.77" x2="729.60" y2="415.83" stroke="#c86464" stroke-width="0.7"/>
<line x1="719.24" y1="404.47" x2="736.96" y2="401.33" stroke="#c86464" stroke-width="0.7"/>
<line x1="726.33" y1="390.45" x2="743.27" y2="384.35" stroke="#c86464" stroke-width="0.7"/>
<line x1="720.60" y1="378.79" x2="736.20" y2="369.81" stroke="#c86464" stroke-width="0.7"/>
<line x1="724.99" y1="358.47" x2="738.81" y2="346.93" stroke="#c86464" stroke-width="0.7"/>
<line x1="700.01" y1="363.89" x2="711.59" y2="350.11" stroke="#c86464" stroke-width="0.7"/>
<line x1="696.99" y1="345.89" x2="706.01" y2="330.31" stroke="#c86464" stroke-width="0.7"/>
<line x1="687.21" y1="331.95" x2="693.39" y2="315.05" stroke="#c86464" stroke-width="0.7"/>
<line x1="675.03" y1="311.46" x2="678.17" y2="293.74" stroke="#c86464" stroke-width="0.7"/>
<circle cx="656.5" cy="277.7" r="6.0" fill="#e2101a"/><circle cx="656.5" cy="277.7" r="1.5" fill="#fff"/>
<circle cx="636.8" cy="302.6" r="6.0" fill="#e2101a"/><circle cx="636.8" cy="302.6" r="1.5" fill="#fff"/>
<circle cx="629.6" cy="341.0" r="6.0" fill="#e2101a"/><circle cx="629.6" cy="341.0" r="1.5" fill="#fff"/>
<circle cx="619.8" cy="351.5" r="6.0" fill="#e2101a"/><circle cx="619.8" cy="351.5" r="1.5" fill="#fff"/>
<circle cx="613.6" cy="364.2" r="6.0" fill="#e2101a"/><circle cx="613.6" cy="364.2" r="1.5" fill="#fff"/>
<circle cx="595.8" cy="364.2" r="6.0" fill="#e2101a"/><circle cx="595.8" cy="364.2" r="1.5" fill="#fff"/>
<circle cx="554.2" cy="356.5" r="6.0" fill="#e2101a"/><circle cx="554.2" cy="356.5" r="1.5" fill="#fff"/>
<circle cx="572.4" cy="385.2" r="6.0" fill="#e2101a"/><circle cx="572.4" cy="385.2" r="1.5" fill="#fff"/>
<circle cx="580.3" cy="402.2" r="6.0" fill="#e2101a"/><circle cx="580.3" cy="402.2" r="1.5" fill="#fff"/>
<circle cx="581.4" cy="415.7" r="6.0" fill="#e2101a"/><circle cx="581.4" cy="415.7" r="1.5" fill="#fff"/>
<circle cx="577.7" cy="429.6" r="6.0" fill="#e2101a"/><circle cx="577.7" cy="429.6" r="1.5" fill="#fff"/>
<circle cx="579.5" cy="443.8" r="6.0" fill="#e2101a"/><circle cx="579.5" cy="443.8" r="1.5" fill="#fff"/>
<circle cx="537.8" cy="484.7" r="6.0" fill="#e2101a"/><circle cx="537.8" cy="484.7" r="1.5" fill="#fff"/>
<circle cx="563.2" cy="494.5" r="6.0" fill="#e2101a"/><circle cx="563.2" cy="494.5" r="1.5" fill="#fff"/>
<circle cx="605.1" cy="477.8" r="6.0" fill="#e2101a"/><circle cx="605.1" cy="477.8" r="1.5" fill="#fff"/>
<circle cx="621.0" cy="477.8" r="6.0" fill="#e2101a"/><circle cx="621.0" cy="477.8" r="1.5" fill="#fff"/>
<circle cx="630.5" cy="489.0" r="6.0" fill="#e2101a"/><circle cx="630.5" cy="489.0" r="1.5" fill="#fff"/>
<circle cx="643.3" cy="494.5" r="6.0" fill="#e2101a"/><circle cx="643.3" cy="494.5" r="1.5" fill="#fff"/>
<circle cx="656.6" cy="523.5" r="6.0" fill="#e2101a"/><circle cx="656.6" cy="523.5" r="1.5" fill="#fff"/>
<circle cx="671.1" cy="497.2" r="6.0" fill="#e2101a"/><circle cx="671.1" cy="497.2" r="1.5" fill="#fff"/>
<circle cx="682.3" cy="485.5" r="6.0" fill="#e2101a"/><circle cx="682.3" cy="485.5" r="1.5" fill="#fff"/>
<circle cx="696.0" cy="483.8" r="6.0" fill="#e2101a"/><circle cx="696.0" cy="483.8" r="1.5" fill="#fff"/>
<circle cx="714.4" cy="484.7" r="6.0" fill="#e2101a"/><circle cx="714.4" cy="484.7" r="1.5" fill="#fff"/>
<circle cx="731.9" cy="479.0" r="6.0" fill="#e2101a"/><circle cx="731.9" cy="479.0" r="1.5" fill="#fff"/>
<circle cx="768.5" cy="480.4" r="6.0" fill="#e2101a"/><circle cx="768.5" cy="480.4" r="1.5" fill="#fff"/>
<circle cx="750.6" cy="449.6" r="6.0" fill="#e2101a"/><circle cx="750.6" cy="449.6" r="1.5" fill="#fff"/>
<circle cx="734.5" cy="429.2" r="6.0" fill="#e2101a"/><circle cx="734.5" cy="429.2" r="1.5" fill="#fff"/>
<circle cx="720.6" cy="415.8" r="6.0" fill="#e2101a"/><circle cx="720.6" cy="415.8" r="1.5" fill="#fff"/>
<circle cx="728.1" cy="402.9" r="6.0" fill="#e2101a"/><circle cx="728.1" cy="402.9" r="1.5" fill="#fff"/>
<circle cx="734.8" cy="387.4" r="6.0" fill="#e2101a"/><circle cx="734.8" cy="387.4" r="1.5" fill="#fff"/>
<circle cx="728.4" cy="374.3" r="6.0" fill="#e2101a"/><circle cx="728.4" cy="374.3" r="1.5" fill="#fff"/>
<circle cx="731.9" cy="352.7" r="6.0" fill="#e2101a"/><circle cx="731.9" cy="352.7" r="1.5" fill="#fff"/>
<circle cx="705.8" cy="357.0" r="6.0" fill="#e2101a"/><circle cx="705.8" cy="357.0" r="1.5" fill="#fff"/>
<circle cx="701.5" cy="338.1" r="6.0" fill="#e2101a"/><circle cx="701.5" cy="338.1" r="1.5" fill="#fff"/>
<circle cx="690.3" cy="323.5" r="6.0" fill="#e2101a"/><circle cx="690.3" cy="323.5" r="1.5" fill="#fff"/>
<circle cx="676.6" cy="302.6" r="6.0" fill="#e2101a"/><circle cx="676.6" cy="302.6" r="1.5" fill="#fff"/>
</g>
<text x="645.39" y="258.60" font-family='"Liberation Sans", sans-serif' font-size="20.06" font-weight="bold" fill="#111" textLength="22.86" lengthAdjust="spacingAndGlyphs" xml:space="preserve">90</text>
<text x="545.99" y="279.19" font-family='"Liberation Sans", sans-serif' font-size="21.04" font-weight="bold" fill="#111" textLength="34.77" lengthAdjust="spacingAndGlyphs" xml:space="preserve"> 20</text>
<polygon transform="translate(545.99,279.19) scale(0.01017,-0.01028)" points="478,0 478,1170 140,959 140,1180 493,1409 759,1409 759,0" fill="#111"/>
<text x="732.86" y="279.42" font-family='"Liberation Sans", sans-serif' font-size="17.94" font-weight="bold" fill="#111" textLength="22.58" lengthAdjust="spacingAndGlyphs" xml:space="preserve">60</text>
<text x="789.66" y="334.89" font-family='"Liberation Sans", sans-serif' font-size="18.75" font-weight="bold" fill="#111" textLength="21.54" lengthAdjust="spacingAndGlyphs" xml:space="preserve">30</text>
<text x="490.69" y="335.02" font-family='"Liberation Sans", sans-serif' font-size="18.64" font-weight="bold" fill="#111" textLength="34.77" lengthAdjust="spacingAndGlyphs" xml:space="preserve"> 50</text>
<polygon transform="translate(490.69,335.02) scale(0.01017,-0.00910)" points="478,0 478,1170 140,959 140,1180 493,1409 759,1409 759,0" fill="#111"/>
<text x="470.10" y="423.00" font-family='"Liberation Sans", sans-serif' font-size="20.06" font-weight="bold" fill="#111" textLength="34.34" lengthAdjust="spacingAndGlyphs" xml:space="preserve"> 80</text>
<polygon transform="translate(470.10,423.00) scale(0.01005,-0.00979)" points="478,0 478,1170 140,959 140,1180 493,1409 759,1409 759,0" fill="#111"/>
<text x="807.49" y="422.32" font-family='"Liberation Sans", sans-serif' font-size="17.94" font-weight="bold" fill="#111" textLength="12.86" lengthAdjust="spacingAndGlyphs" xml:space="preserve">0</text>
<text x="491.29" y="511.10" font-family='"Liberation Sans", sans-serif' font-size="20.20" font-weight="bold" fill="#111" textLength="34.15" lengthAdjust="spacingAndGlyphs" xml:space="preserve">2 0</text>
<polygon transform="translate(502.67,511.10) scale(0.00999,-0.00986)" points="478,0 478,1170 140,959 140,1180 493,1409 759,1409 759,0" fill="#111"/>
<text x="788.62" y="510.37" font-family='"Liberation Sans", sans-serif' font-size="20.16" font-weight="bold" fill="#111" textLength="34.94" lengthAdjust="spacingAndGlyphs" xml:space="preserve">330</text>
<text x="546.60" y="566.70" font-family='"Liberation Sans", sans-serif' font-size="20.06" font-weight="bold" fill="#111" textLength="33.63" lengthAdjust="spacingAndGlyphs" xml:space="preserve">240</text>
<text x="734.13" y="566.87" font-family='"Liberation Sans", sans-serif' font-size="20.30" font-weight="bold" fill="#111" textLength="33.90" lengthAdjust="spacingAndGlyphs" xml:space="preserve">300</text>
<text x="639.90" y="587.10" font-family='"Liberation Sans", sans-serif' font-size="20.06" font-weight="bold" fill="#111" textLength="33.73" lengthAdjust="spacingAndGlyphs" xml:space="preserve">270</text>
<text x="782.93" y="266.40" font-family='"Liberation Sans", sans-serif' font-size="21.25" font-weight="normal" fill="#111" stroke="#111" stroke-width="0.35" textLength="27.64" lengthAdjust="spacingAndGlyphs" xml:space="preserve">(c)</text>
<text x="784.87" y="582.01" font-family='"Liberation Sans", sans-serif' font-size="20.72" font-weight="normal" fill="#111" stroke="#111" stroke-width="0.35" textLength="28.27" lengthAdjust="spacingAndGlyphs" xml:space="preserve">(d)</text>
<g id="axC">
<line x1="840.10" y1="268.00" x2="840.10" y2="561.00" stroke="#999" stroke-width="1.2"/>
<line x1="840.10" y1="277.50" x2="844.80" y2="277.50" stroke="#888" stroke-width="1.2"/>
<text x="848.06" y="284.00" font-family='"Liberation Sans", sans-serif' font-size="18.90" font-weight="bold" fill="#1a1a1a" textLength="18.40" lengthAdjust="spacingAndGlyphs" xml:space="preserve">  </text>
<polygon transform="translate(848.06,284.00) scale(0.00808,-0.00923)" points="478,0 478,1170 140,959 140,1180 493,1409 759,1409 759,0" fill="#1a1a1a"/>
<polygon transform="translate(857.26,284.00) scale(0.00808,-0.00923)" points="478,0 478,1170 140,959 140,1180 493,1409 759,1409 759,0" fill="#1a1a1a"/>
<line x1="840.10" y1="322.90" x2="844.80" y2="322.90" stroke="#888" stroke-width="1.2"/>
<text x="847.98" y="329.22" font-family='"Liberation Sans", sans-serif' font-size="18.36" font-weight="bold" fill="#1a1a1a" textLength="19.86" lengthAdjust="spacingAndGlyphs" xml:space="preserve"> 0</text>
<polygon transform="translate(847.98,329.22) scale(0.00872,-0.00897)" points="478,0 478,1170 140,959 140,1180 493,1409 759,1409 759,0" fill="#1a1a1a"/>
<line x1="840.10" y1="368.80" x2="844.80" y2="368.80" stroke="#888" stroke-width="1.2"/>
<text x="848.50" y="375.12" font-family='"Liberation Sans", sans-serif' font-size="18.36" font-weight="bold" fill="#1a1a1a" textLength="9.64" lengthAdjust="spacingAndGlyphs" xml:space="preserve">9</text>
<line x1="840.10" y1="415.50" x2="844.80" y2="415.50" stroke="#888" stroke-width="1.2"/>
<text x="848.56" y="421.82" font-family='"Liberation Sans", sans-serif' font-size="18.36" font-weight="bold" fill="#1a1a1a" textLength="9.46" lengthAdjust="spacingAndGlyphs" xml:space="preserve">8</text>
<line x1="840.10" y1="461.40" x2="844.80" y2="461.40" stroke="#888" stroke-width="1.2"/>
<text x="848.50" y="467.72" font-family='"Liberation Sans", sans-serif' font-size="18.36" font-weight="bold" fill="#1a1a1a" textLength="9.64" lengthAdjust="spacingAndGlyphs" xml:space="preserve">9</text>
<line x1="840.10" y1="507.00" x2="844.80" y2="507.00" stroke="#888" stroke-width="1.2"/>
<text x="847.98" y="513.32" font-family='"Liberation Sans", sans-serif' font-size="18.36" font-weight="bold" fill="#1a1a1a" textLength="19.86" lengthAdjust="spacingAndGlyphs" xml:space="preserve"> 0</text>
<polygon transform="translate(847.98,513.32) scale(0.00872,-0.00897)" points="478,0 478,1170 140,959 140,1180 493,1409 759,1409 759,0" fill="#1a1a1a"/>
<line x1="840.10" y1="553.00" x2="844.80" y2="553.00" stroke="#888" stroke-width="1.2"/>
<text x="848.06" y="559.50" font-family='"Liberation Sans", sans-serif' font-size="18.90" font-weight="bold" fill="#1a1a1a" textLength="18.40" lengthAdjust="spacingAndGlyphs" xml:space="preserve">  </text>
<polygon transform="translate(848.06,559.50) scale(0.00808,-0.00923)" points="478,0 478,1170 140,959 140,1180 493,1409 759,1409 759,0" fill="#1a1a1a"/>
<polygon transform="translate(857.26,559.50) scale(0.00808,-0.00923)" points="478,0 478,1170 140,959 140,1180 493,1409 759,1409 759,0" fill="#1a1a1a"/>
<line x1="840.10" y1="300.20" x2="842.50" y2="300.20" stroke="#999" stroke-width="1.0"/>
<line x1="840.10" y1="345.85" x2="842.50" y2="345.85" stroke="#999" stroke-width="1.0"/>
<line x1="840.10" y1="392.15" x2="842.50" y2="392.15" stroke="#999" stroke-width="1.0"/>
<line x1="840.10" y1="438.45" x2="842.50" y2="438.45" stroke="#999" stroke-width="1.0"/>
<line x1="840.10" y1="484.20" x2="842.50" y2="484.20" stroke="#999" stroke-width="1.0"/>
<line x1="840.10" y1="530.00" x2="842.50" y2="530.00" stroke="#999" stroke-width="1.0"/>
<text transform="translate(895.4,581.4) rotate(-90)" font-family='"Liberation Sans", sans-serif' font-size="24" font-weight="bold" fill="#111" textLength="332" lengthAdjust="spacingAndGlyphs">Precession frequency <tspan font-family='"Liberation Serif", serif' font-style="italic" font-weight="normal">&#957;</tspan>, GHz</text>
</g>
<text x="497.3" y="265.8" font-family='"Liberation Sans", sans-serif' font-size="19.2" fill="#1e1eb4" stroke="#1e1eb4" stroke-width="0.75" textLength="42.3" lengthAdjust="spacingAndGlyphs" xml:space="preserve">[   ]</text>
<polygon transform="translate(502.58,265.80) scale(0.00929,-0.00937)" points="515,0 515,1237 197,1010 197,1180 530,1409 696,1409 696,0" fill="#1e1eb4" stroke="#1e1eb4" stroke-width="80.0"/>
<polygon transform="translate(513.16,265.80) scale(0.00929,-0.00937)" points="515,0 515,1237 197,1010 197,1180 530,1409 696,1409 696,0" fill="#1e1eb4" stroke="#1e1eb4" stroke-width="80.0"/>
<polygon transform="translate(523.74,265.80) scale(0.00929,-0.00937)" points="515,0 515,1237 197,1010 197,1180 530,1409 696,1409 696,0" fill="#1e1eb4" stroke="#1e1eb4" stroke-width="80.0"/>
<line x1="515.10" y1="247.10" x2="523.90" y2="247.10" stroke="#1e1eb4" stroke-width="1.8"/>
<text x="749.7" y="409.5" font-family='"Liberation Sans", sans-serif' font-size="19.2" fill="#1e1eb4" stroke="#1e1eb4" stroke-width="0.75" textLength="42.3" lengthAdjust="spacingAndGlyphs" xml:space="preserve">[   ]</text>
<polygon transform="translate(754.98,409.50) scale(0.00929,-0.00937)" points="515,0 515,1237 197,1010 197,1180 530,1409 696,1409 696,0" fill="#1e1eb4" stroke="#1e1eb4" stroke-width="80.0"/>
<polygon transform="translate(765.56,409.50) scale(0.00929,-0.00937)" points="515,0 515,1237 197,1010 197,1180 530,1409 696,1409 696,0" fill="#1e1eb4" stroke="#1e1eb4" stroke-width="80.0"/>
<polygon transform="translate(776.14,409.50) scale(0.00929,-0.00937)" points="515,0 515,1237 197,1010 197,1180 530,1409 696,1409 696,0" fill="#1e1eb4" stroke="#1e1eb4" stroke-width="80.0"/>
<line x1="756.90" y1="390.70" x2="765.70" y2="390.70" stroke="#1e1eb4" stroke-width="1.8"/>
<text x="495.6" y="575.3" font-family='"Liberation Sans", sans-serif' font-size="19.2" fill="#1e1eb4" stroke="#1e1eb4" stroke-width="0.75" textLength="42.3" lengthAdjust="spacingAndGlyphs" xml:space="preserve">[   ]</text>
<polygon transform="translate(500.88,575.30) scale(0.00929,-0.00937)" points="515,0 515,1237 197,1010 197,1180 530,1409 696,1409 696,0" fill="#1e1eb4" stroke="#1e1eb4" stroke-width="80.0"/>
<polygon transform="translate(511.46,575.30) scale(0.00929,-0.00937)" points="515,0 515,1237 197,1010 197,1180 530,1409 696,1409 696,0" fill="#1e1eb4" stroke="#1e1eb4" stroke-width="80.0"/>
<polygon transform="translate(522.04,575.30) scale(0.00929,-0.00937)" points="515,0 515,1237 197,1010 197,1180 530,1409 696,1409 696,0" fill="#1e1eb4" stroke="#1e1eb4" stroke-width="80.0"/>
<line x1="524.00" y1="556.60" x2="532.80" y2="556.60" stroke="#1e1eb4" stroke-width="1.8"/>
<text x="507.7" y="617.4" font-family='"Liberation Sans", sans-serif' font-size="19.2" fill="#1e1eb4" stroke="#1e1eb4" stroke-width="0.75" textLength="42.3" lengthAdjust="spacingAndGlyphs" xml:space="preserve">[   ]</text>
<polygon transform="translate(512.98,617.40) scale(0.00929,-0.00937)" points="515,0 515,1237 197,1010 197,1180 530,1409 696,1409 696,0" fill="#1e1eb4" stroke="#1e1eb4" stroke-width="80.0"/>
<polygon transform="translate(523.56,617.40) scale(0.00929,-0.00937)" points="515,0 515,1237 197,1010 197,1180 530,1409 696,1409 696,0" fill="#1e1eb4" stroke="#1e1eb4" stroke-width="80.0"/>
<polygon transform="translate(534.14,617.40) scale(0.00929,-0.00937)" points="515,0 515,1237 197,1010 197,1180 530,1409 696,1409 696,0" fill="#1e1eb4" stroke="#1e1eb4" stroke-width="80.0"/>
<line x1="525.50" y1="599.20" x2="534.30" y2="599.20" stroke="#1e1eb4" stroke-width="1.8"/>
<text x="813.3" y="761.1" font-family='"Liberation Sans", sans-serif' font-size="19.2" fill="#1e1eb4" stroke="#1e1eb4" stroke-width="0.75" textLength="42.3" lengthAdjust="spacingAndGlyphs" xml:space="preserve">[   ]</text>
<polygon transform="translate(818.58,761.10) scale(0.00929,-0.00937)" points="515,0 515,1237 197,1010 197,1180 530,1409 696,1409 696,0" fill="#1e1eb4" stroke="#1e1eb4" stroke-width="80.0"/>
<polygon transform="translate(829.16,761.10) scale(0.00929,-0.00937)" points="515,0 515,1237 197,1010 197,1180 530,1409 696,1409 696,0" fill="#1e1eb4" stroke="#1e1eb4" stroke-width="80.0"/>
<polygon transform="translate(839.74,761.10) scale(0.00929,-0.00937)" points="515,0 515,1237 197,1010 197,1180 530,1409 696,1409 696,0" fill="#1e1eb4" stroke="#1e1eb4" stroke-width="80.0"/>
<line x1="820.50" y1="742.10" x2="829.30" y2="742.10" stroke="#1e1eb4" stroke-width="1.8"/>
<text x="496.1" y="934.5" font-family='"Liberation Sans", sans-serif' font-size="19.2" fill="#1e1eb4" stroke="#1e1eb4" stroke-width="0.75" textLength="42.3" lengthAdjust="spacingAndGlyphs" xml:space="preserve">[   ]</text>
<polygon transform="translate(501.38,934.50) scale(0.00929,-0.00937)" points="515,0 515,1237 197,1010 197,1180 530,1409 696,1409 696,0" fill="#1e1eb4" stroke="#1e1eb4" stroke-width="80.0"/>
<polygon transform="translate(511.96,934.50) scale(0.00929,-0.00937)" points="515,0 515,1237 197,1010 197,1180 530,1409 696,1409 696,0" fill="#1e1eb4" stroke="#1e1eb4" stroke-width="80.0"/>
<polygon transform="translate(522.54,934.50) scale(0.00929,-0.00937)" points="515,0 515,1237 197,1010 197,1180 530,1409 696,1409 696,0" fill="#1e1eb4" stroke="#1e1eb4" stroke-width="80.0"/>
<line x1="524.50" y1="916.30" x2="533.30" y2="916.30" stroke="#1e1eb4" stroke-width="1.8"/>
<g id="panelD">
<circle cx="656.4" cy="776.2" r="146.7" fill="none" stroke="#444" stroke-width="1.1"/>
<circle cx="656.4" cy="776.2" r="133.8" fill="none" stroke="#999" stroke-width="0.9"/>
<circle cx="656.4" cy="776.2" r="100" fill="none" stroke="#d0d0d0" stroke-width="0.8" stroke-dasharray="3 2"/>
<circle cx="656.4" cy="776.2" r="66.9" fill="none" stroke="#d0d0d0" stroke-width="0.8" stroke-dasharray="3 2"/>
<circle cx="656.4" cy="776.2" r="33.5" fill="none" stroke="#d0d0d0" stroke-width="0.8" stroke-dasharray="3 2"/>
<line x1="666.40" y1="776.20" x2="803.10" y2="776.20" stroke="#b8b8b8" stroke-width="0.8"/>
<line x1="665.06" y1="771.20" x2="783.45" y2="702.85" stroke="#b8b8b8" stroke-width="0.8"/>
<line x1="661.40" y1="767.54" x2="729.75" y2="649.15" stroke="#b8b8b8" stroke-width="0.8"/>
<line x1="656.40" y1="766.20" x2="656.40" y2="629.50" stroke="#b8b8b8" stroke-width="0.8"/>
<line x1="651.40" y1="767.54" x2="583.05" y2="649.15" stroke="#b8b8b8" stroke-width="0.8"/>
<line x1="647.74" y1="771.20" x2="529.35" y2="702.85" stroke="#b8b8b8" stroke-width="0.8"/>
<line x1="646.40" y1="776.20" x2="509.70" y2="776.20" stroke="#b8b8b8" stroke-width="0.8"/>
<line x1="647.74" y1="781.20" x2="529.35" y2="849.55" stroke="#b8b8b8" stroke-width="0.8"/>
<line x1="651.40" y1="784.86" x2="583.05" y2="903.25" stroke="#b8b8b8" stroke-width="0.8"/>
<line x1="656.40" y1="786.20" x2="656.40" y2="922.90" stroke="#b8b8b8" stroke-width="0.8"/>
<line x1="661.40" y1="784.86" x2="729.75" y2="903.25" stroke="#b8b8b8" stroke-width="0.8"/>
<line x1="665.06" y1="781.20" x2="783.45" y2="849.55" stroke="#b8b8b8" stroke-width="0.8"/>
<line x1="799.90" y1="776.20" x2="803.10" y2="776.20" stroke="#333" stroke-width="1"/>
<line x1="795.01" y1="739.06" x2="798.10" y2="738.23" stroke="#333" stroke-width="1"/>
<line x1="780.67" y1="704.45" x2="783.45" y2="702.85" stroke="#333" stroke-width="1"/>
<line x1="757.87" y1="674.73" x2="760.13" y2="672.47" stroke="#333" stroke-width="1"/>
<line x1="728.15" y1="651.93" x2="729.75" y2="649.15" stroke="#333" stroke-width="1"/>
<line x1="693.54" y1="637.59" x2="694.37" y2="634.50" stroke="#333" stroke-width="1"/>
<line x1="656.40" y1="632.70" x2="656.40" y2="629.50" stroke="#333" stroke-width="1"/>
<line x1="619.26" y1="637.59" x2="618.43" y2="634.50" stroke="#333" stroke-width="1"/>
<line x1="584.65" y1="651.93" x2="583.05" y2="649.15" stroke="#333" stroke-width="1"/>
<line x1="554.93" y1="674.73" x2="552.67" y2="672.47" stroke="#333" stroke-width="1"/>
<line x1="532.13" y1="704.45" x2="529.35" y2="702.85" stroke="#333" stroke-width="1"/>
<line x1="517.79" y1="739.06" x2="514.70" y2="738.23" stroke="#333" stroke-width="1"/>
<line x1="512.90" y1="776.20" x2="509.70" y2="776.20" stroke="#333" stroke-width="1"/>
<line x1="517.79" y1="813.34" x2="514.70" y2="814.17" stroke="#333" stroke-width="1"/>
<line x1="532.13" y1="847.95" x2="529.35" y2="849.55" stroke="#333" stroke-width="1"/>
<line x1="554.93" y1="877.67" x2="552.67" y2="879.93" stroke="#333" stroke-width="1"/>
<line x1="584.65" y1="900.47" x2="583.05" y2="903.25" stroke="#333" stroke-width="1"/>
<line x1="619.26" y1="914.81" x2="618.43" y2="917.90" stroke="#333" stroke-width="1"/>
<line x1="656.40" y1="919.70" x2="656.40" y2="922.90" stroke="#333" stroke-width="1"/>
<line x1="693.54" y1="914.81" x2="694.37" y2="917.90" stroke="#333" stroke-width="1"/>
<line x1="728.15" y1="900.47" x2="729.75" y2="903.25" stroke="#333" stroke-width="1"/>
<line x1="757.87" y1="877.67" x2="760.13" y2="879.93" stroke="#333" stroke-width="1"/>
<line x1="780.67" y1="847.95" x2="783.45" y2="849.55" stroke="#333" stroke-width="1"/>
<line x1="795.01" y1="813.34" x2="798.10" y2="814.17" stroke="#333" stroke-width="1"/>
<path d="M729.7,776.2 L707.1,767.3 L691.8,763.3 L681.6,761.7 L692.4,746.0 L706.2,716.8 L695.9,707.7 L683.4,702.0 L663.3,736.8 L656.4,747.9 L648.1,728.9 L631.2,706.9 L609.5,695.1 L604.8,714.7 L628.7,752.9 L640.8,767.2 L603.7,757.0 L574.6,761.8 L580.5,776.2 L592.3,787.5 L625.7,787.4 L637.3,787.2 L645.1,785.7 L624.9,813.7 L622.8,834.5 L643.3,812.1 L652.2,800.0 L656.4,808.2 L668.0,841.8 L692.0,874.0 L722.9,891.4 L711.9,842.3 L694.5,808.2 L667.1,782.4 L685.8,786.9 L707.3,785.2Z" fill="none" stroke="#128282" stroke-width="5.2" stroke-linejoin="round"/>
<circle cx="729.7" cy="776.2" r="5.9" fill="#14935a"/><circle cx="729.7" cy="776.2" r="1.7" fill="#e8f6ee"/>
<circle cx="707.1" cy="767.3" r="5.9" fill="#14935a"/><circle cx="707.1" cy="767.3" r="1.7" fill="#e8f6ee"/>
<circle cx="691.8" cy="763.3" r="5.9" fill="#14935a"/><circle cx="691.8" cy="763.3" r="1.7" fill="#e8f6ee"/>
<circle cx="681.6" cy="761.7" r="5.9" fill="#14935a"/><circle cx="681.6" cy="761.7" r="1.7" fill="#e8f6ee"/>
<circle cx="692.4" cy="746.0" r="5.9" fill="#14935a"/><circle cx="692.4" cy="746.0" r="1.7" fill="#e8f6ee"/>
<circle cx="706.2" cy="716.8" r="5.9" fill="#14935a"/><circle cx="706.2" cy="716.8" r="1.7" fill="#e8f6ee"/>
<circle cx="695.9" cy="707.7" r="5.9" fill="#14935a"/><circle cx="695.9" cy="707.7" r="1.7" fill="#e8f6ee"/>
<circle cx="683.4" cy="702.0" r="5.9" fill="#14935a"/><circle cx="683.4" cy="702.0" r="1.7" fill="#e8f6ee"/>
<circle cx="663.3" cy="736.8" r="5.9" fill="#14935a"/><circle cx="663.3" cy="736.8" r="1.7" fill="#e8f6ee"/>
<circle cx="656.4" cy="747.9" r="5.9" fill="#14935a"/><circle cx="656.4" cy="747.9" r="1.7" fill="#e8f6ee"/>
<circle cx="648.1" cy="728.9" r="5.9" fill="#14935a"/><circle cx="648.1" cy="728.9" r="1.7" fill="#e8f6ee"/>
<circle cx="631.2" cy="706.9" r="5.9" fill="#14935a"/><circle cx="631.2" cy="706.9" r="1.7" fill="#e8f6ee"/>
<circle cx="609.5" cy="695.1" r="5.9" fill="#14935a"/><circle cx="609.5" cy="695.1" r="1.7" fill="#e8f6ee"/>
<circle cx="604.8" cy="714.7" r="5.9" fill="#14935a"/><circle cx="604.8" cy="714.7" r="1.7" fill="#e8f6ee"/>
<circle cx="628.7" cy="752.9" r="5.9" fill="#14935a"/><circle cx="628.7" cy="752.9" r="1.7" fill="#e8f6ee"/>
<circle cx="640.8" cy="767.2" r="5.9" fill="#14935a"/><circle cx="640.8" cy="767.2" r="1.7" fill="#e8f6ee"/>
<circle cx="603.7" cy="757.0" r="5.9" fill="#14935a"/><circle cx="603.7" cy="757.0" r="1.7" fill="#e8f6ee"/>
<circle cx="574.6" cy="761.8" r="5.9" fill="#14935a"/><circle cx="574.6" cy="761.8" r="1.7" fill="#e8f6ee"/>
<circle cx="580.5" cy="776.2" r="5.9" fill="#14935a"/><circle cx="580.5" cy="776.2" r="1.7" fill="#e8f6ee"/>
<circle cx="592.3" cy="787.5" r="5.9" fill="#14935a"/><circle cx="592.3" cy="787.5" r="1.7" fill="#e8f6ee"/>
<circle cx="625.7" cy="787.4" r="5.9" fill="#14935a"/><circle cx="625.7" cy="787.4" r="1.7" fill="#e8f6ee"/>
<circle cx="637.3" cy="787.2" r="5.9" fill="#14935a"/><circle cx="637.3" cy="787.2" r="1.7" fill="#e8f6ee"/>
<circle cx="645.1" cy="785.7" r="5.9" fill="#14935a"/><circle cx="645.1" cy="785.7" r="1.7" fill="#e8f6ee"/>
<circle cx="624.9" cy="813.7" r="5.9" fill="#14935a"/><circle cx="624.9" cy="813.7" r="1.7" fill="#e8f6ee"/>
<circle cx="622.8" cy="834.5" r="5.9" fill="#14935a"/><circle cx="622.8" cy="834.5" r="1.7" fill="#e8f6ee"/>
<circle cx="643.3" cy="812.1" r="5.9" fill="#14935a"/><circle cx="643.3" cy="812.1" r="1.7" fill="#e8f6ee"/>
<circle cx="652.2" cy="800.0" r="5.9" fill="#14935a"/><circle cx="652.2" cy="800.0" r="1.7" fill="#e8f6ee"/>
<circle cx="656.4" cy="808.2" r="5.9" fill="#14935a"/><circle cx="656.4" cy="808.2" r="1.7" fill="#e8f6ee"/>
<circle cx="668.0" cy="841.8" r="5.9" fill="#14935a"/><circle cx="668.0" cy="841.8" r="1.7" fill="#e8f6ee"/>
<circle cx="692.0" cy="874.0" r="5.9" fill="#14935a"/><circle cx="692.0" cy="874.0" r="1.7" fill="#e8f6ee"/>
<circle cx="722.9" cy="891.4" r="5.9" fill="#14935a"/><circle cx="722.9" cy="891.4" r="1.7" fill="#e8f6ee"/>
<circle cx="711.9" cy="842.3" r="5.9" fill="#14935a"/><circle cx="711.9" cy="842.3" r="1.7" fill="#e8f6ee"/>
<circle cx="694.5" cy="808.2" r="5.9" fill="#14935a"/><circle cx="694.5" cy="808.2" r="1.7" fill="#e8f6ee"/>
<circle cx="667.1" cy="782.4" r="5.9" fill="#14935a"/><circle cx="667.1" cy="782.4" r="1.7" fill="#e8f6ee"/>
<circle cx="685.8" cy="786.9" r="5.9" fill="#14935a"/><circle cx="685.8" cy="786.9" r="1.7" fill="#e8f6ee"/>
<circle cx="707.3" cy="785.2" r="5.9" fill="#14935a"/><circle cx="707.3" cy="785.2" r="1.7" fill="#e8f6ee"/>
<path d="M770.8,776.2 L763.9,757.2 L746.3,743.5 L718.9,740.1 L676.0,759.7 L681.2,746.6 L672.9,747.5 L664.3,754.6 L664.6,729.7 L656.4,741.9 L638.0,671.9 L616.6,666.9 L599.0,676.8 L586.2,692.5 L578.3,710.7 L604.4,746.2 L626.8,765.4 L619.3,769.7 L615.4,776.2 L615.3,783.4 L613.6,791.8 L636.0,788.0 L585.5,835.7 L578.2,869.4 L594.5,883.4 L617.6,882.7 L639.1,874.3 L656.4,789.7 L663.0,813.7 L670.1,813.8 L675.4,809.0 L678.9,803.0 L679.6,795.7 L693.2,797.5 L758.6,813.4 L764.6,795.3Z" fill="none" stroke="#0a0a0a" stroke-width="5.4" stroke-linejoin="round"/>
<circle cx="770.8" cy="776.2" r="4.1" fill="#fff" stroke="#0a0a0a" stroke-width="3.0"/>
<circle cx="763.9" cy="757.2" r="4.1" fill="#fff" stroke="#0a0a0a" stroke-width="3.0"/>
<circle cx="746.3" cy="743.5" r="4.1" fill="#fff" stroke="#0a0a0a" stroke-width="3.0"/>
<circle cx="718.9" cy="740.1" r="4.1" fill="#fff" stroke="#0a0a0a" stroke-width="3.0"/>
<circle cx="676.0" cy="759.7" r="4.1" fill="#fff" stroke="#0a0a0a" stroke-width="3.0"/>
<circle cx="681.2" cy="746.6" r="4.1" fill="#fff" stroke="#0a0a0a" stroke-width="3.0"/>
<circle cx="672.9" cy="747.5" r="4.1" fill="#fff" stroke="#0a0a0a" stroke-width="3.0"/>
<circle cx="664.3" cy="754.6" r="4.1" fill="#fff" stroke="#0a0a0a" stroke-width="3.0"/>
<circle cx="664.6" cy="729.7" r="4.1" fill="#fff" stroke="#0a0a0a" stroke-width="3.0"/>
<circle cx="656.4" cy="741.9" r="4.1" fill="#fff" stroke="#0a0a0a" stroke-width="3.0"/>
<circle cx="638.0" cy="671.9" r="4.1" fill="#fff" stroke="#0a0a0a" stroke-width="3.0"/>
<circle cx="616.6" cy="666.9" r="4.1" fill="#fff" stroke="#0a0a0a" stroke-width="3.0"/>
<circle cx="599.0" cy="676.8" r="4.1" fill="#fff" stroke="#0a0a0a" stroke-width="3.0"/>
<circle cx="586.2" cy="692.5" r="4.1" fill="#fff" stroke="#0a0a0a" stroke-width="3.0"/>
<circle cx="578.3" cy="710.7" r="4.1" fill="#fff" stroke="#0a0a0a" stroke-width="3.0"/>
<circle cx="604.4" cy="746.2" r="4.1" fill="#fff" stroke="#0a0a0a" stroke-width="3.0"/>
<circle cx="626.8" cy="765.4" r="4.1" fill="#fff" stroke="#0a0a0a" stroke-width="3.0"/>
<circle cx="619.3" cy="769.7" r="4.1" fill="#fff" stroke="#0a0a0a" stroke-width="3.0"/>
<circle cx="615.4" cy="776.2" r="4.1" fill="#fff" stroke="#0a0a0a" stroke-width="3.0"/>
<circle cx="615.3" cy="783.4" r="4.1" fill="#fff" stroke="#0a0a0a" stroke-width="3.0"/>
<circle cx="613.6" cy="791.8" r="4.1" fill="#fff" stroke="#0a0a0a" stroke-width="3.0"/>
<circle cx="636.0" cy="788.0" r="4.1" fill="#fff" stroke="#0a0a0a" stroke-width="3.0"/>
<circle cx="585.5" cy="835.7" r="4.1" fill="#fff" stroke="#0a0a0a" stroke-width="3.0"/>
<circle cx="578.2" cy="869.4" r="4.1" fill="#fff" stroke="#0a0a0a" stroke-width="3.0"/>
<circle cx="594.5" cy="883.4" r="4.1" fill="#fff" stroke="#0a0a0a" stroke-width="3.0"/>
<circle cx="617.6" cy="882.7" r="4.1" fill="#fff" stroke="#0a0a0a" stroke-width="3.0"/>
<circle cx="639.1" cy="874.3" r="4.1" fill="#fff" stroke="#0a0a0a" stroke-width="3.0"/>
<circle cx="656.4" cy="789.7" r="4.1" fill="#fff" stroke="#0a0a0a" stroke-width="3.0"/>
<circle cx="663.0" cy="813.7" r="4.1" fill="#fff" stroke="#0a0a0a" stroke-width="3.0"/>
<circle cx="670.1" cy="813.8" r="4.1" fill="#fff" stroke="#0a0a0a" stroke-width="3.0"/>
<circle cx="675.4" cy="809.0" r="4.1" fill="#fff" stroke="#0a0a0a" stroke-width="3.0"/>
<circle cx="678.9" cy="803.0" r="4.1" fill="#fff" stroke="#0a0a0a" stroke-width="3.0"/>
<circle cx="679.6" cy="795.7" r="4.1" fill="#fff" stroke="#0a0a0a" stroke-width="3.0"/>
<circle cx="693.2" cy="797.5" r="4.1" fill="#fff" stroke="#0a0a0a" stroke-width="3.0"/>
<circle cx="758.6" cy="813.4" r="4.1" fill="#fff" stroke="#0a0a0a" stroke-width="3.0"/>
<circle cx="764.6" cy="795.3" r="4.1" fill="#fff" stroke="#0a0a0a" stroke-width="3.0"/>
</g>
<text x="645.90" y="618.84" font-family='"Liberation Sans", sans-serif' font-size="16.81" font-weight="bold" fill="#111" textLength="22.53" lengthAdjust="spacingAndGlyphs" xml:space="preserve">90</text>
<text x="546.97" y="638.92" font-family='"Liberation Sans", sans-serif' font-size="17.94" font-weight="bold" fill="#111" textLength="32.53" lengthAdjust="spacingAndGlyphs" xml:space="preserve"> 20</text>
<polygon transform="translate(546.97,638.92) scale(0.00952,-0.00876)" points="478,0 478,1170 140,959 140,1180 493,1409 759,1409 759,0" fill="#111"/>
<text x="733.17" y="638.92" font-family='"Liberation Sans", sans-serif' font-size="17.94" font-weight="bold" fill="#111" textLength="22.25" lengthAdjust="spacingAndGlyphs" xml:space="preserve">60</text>
<text x="789.06" y="694.51" font-family='"Liberation Sans", sans-serif' font-size="17.05" font-weight="bold" fill="#111" textLength="21.33" lengthAdjust="spacingAndGlyphs" xml:space="preserve">30</text>
<text x="491.34" y="695.22" font-family='"Liberation Sans", sans-serif' font-size="17.94" font-weight="bold" fill="#111" textLength="33.38" lengthAdjust="spacingAndGlyphs" xml:space="preserve"> 50</text>
<polygon transform="translate(491.34,695.22) scale(0.00977,-0.00876)" points="478,0 478,1170 140,959 140,1180 493,1409 759,1409 759,0" fill="#111"/>
<text x="469.91" y="782.62" font-family='"Liberation Sans", sans-serif' font-size="17.94" font-weight="bold" fill="#111" textLength="34.13" lengthAdjust="spacingAndGlyphs" xml:space="preserve"> 80</text>
<polygon transform="translate(469.91,782.62) scale(0.00999,-0.00876)" points="478,0 478,1170 140,959 140,1180 493,1409 759,1409 759,0" fill="#111"/>
<text x="808.53" y="782.42" font-family='"Liberation Sans", sans-serif' font-size="17.94" font-weight="bold" fill="#111" textLength="10.76" lengthAdjust="spacingAndGlyphs" xml:space="preserve">0</text>
<text x="491.92" y="870.02" font-family='"Liberation Sans", sans-serif' font-size="18.08" font-weight="bold" fill="#111" textLength="32.79" lengthAdjust="spacingAndGlyphs" xml:space="preserve">2 0</text>
<polygon transform="translate(502.85,870.02) scale(0.00960,-0.00883)" points="478,0 478,1170 140,959 140,1180 493,1409 759,1409 759,0" fill="#111"/>
<text x="789.04" y="869.60" font-family='"Liberation Sans", sans-serif' font-size="17.90" font-weight="bold" fill="#111" textLength="33.80" lengthAdjust="spacingAndGlyphs" xml:space="preserve">330</text>
<text x="546.50" y="926.02" font-family='"Liberation Sans", sans-serif' font-size="18.22" font-weight="bold" fill="#111" textLength="33.63" lengthAdjust="spacingAndGlyphs" xml:space="preserve">240</text>
<text x="733.94" y="926.29" font-family='"Liberation Sans", sans-serif' font-size="18.61" font-weight="bold" fill="#111" textLength="33.28" lengthAdjust="spacingAndGlyphs" xml:space="preserve">300</text>
<text x="639.28" y="946.51" font-family='"Liberation Sans", sans-serif' font-size="19.49" font-weight="bold" fill="#111" textLength="34.57" lengthAdjust="spacingAndGlyphs" xml:space="preserve">270</text>
<line x1="469.30" y1="628.60" x2="469.30" y2="923.00" stroke="#999" stroke-width="1.2"/>
<line x1="464.40" y1="628.60" x2="469.30" y2="628.60" stroke="#888" stroke-width="1.2"/>
<text x="451.59" y="634.63" font-family='"Liberation Sans", sans-serif' font-size="17.51" font-weight="bold" fill="#1a1a1a" textLength="9.32" lengthAdjust="spacingAndGlyphs" xml:space="preserve">6</text>
<line x1="464.40" y1="702.20" x2="469.30" y2="702.20" stroke="#888" stroke-width="1.2"/>
<text x="451.83" y="708.20" font-family='"Liberation Sans", sans-serif' font-size="17.48" font-weight="bold" fill="#1a1a1a" textLength="9.06" lengthAdjust="spacingAndGlyphs" xml:space="preserve">3</text>
<line x1="464.40" y1="776.20" x2="469.30" y2="776.20" stroke="#888" stroke-width="1.2"/>
<text x="451.53" y="782.23" font-family='"Liberation Sans", sans-serif' font-size="17.51" font-weight="bold" fill="#1a1a1a" textLength="9.47" lengthAdjust="spacingAndGlyphs" xml:space="preserve">0</text>
<line x1="464.40" y1="850.00" x2="469.30" y2="850.00" stroke="#888" stroke-width="1.2"/>
<text x="451.83" y="856.00" font-family='"Liberation Sans", sans-serif' font-size="17.48" font-weight="bold" fill="#1a1a1a" textLength="9.06" lengthAdjust="spacingAndGlyphs" xml:space="preserve">3</text>
<line x1="464.40" y1="923.00" x2="469.30" y2="923.00" stroke="#888" stroke-width="1.2"/>
<text x="451.59" y="929.03" font-family='"Liberation Sans", sans-serif' font-size="17.51" font-weight="bold" fill="#1a1a1a" textLength="9.32" lengthAdjust="spacingAndGlyphs" xml:space="preserve">6</text>
<line x1="469.30" y1="665.40" x2="471.50" y2="665.40" stroke="#999" stroke-width="1.0"/>
<line x1="469.30" y1="739.20" x2="471.50" y2="739.20" stroke="#999" stroke-width="1.0"/>
<line x1="469.30" y1="813.10" x2="471.50" y2="813.10" stroke="#999" stroke-width="1.0"/>
<line x1="469.30" y1="886.50" x2="471.50" y2="886.50" stroke="#999" stroke-width="1.0"/>
<text transform="translate(438.1,934.6) rotate(-90)" font-family='"Liberation Sans", sans-serif' font-size="24" font-weight="bold" fill="#111" textLength="309" lengthAdjust="spacingAndGlyphs">Precessiom phase <tspan font-family='"Liberation Serif", serif' font-style="italic" font-weight="normal" font-size="26">&#966;</tspan><tspan font-family='"Liberation Serif", serif' font-style="italic" font-weight="normal" font-size="17" dy="4">0</tspan><tspan dy="-4"> , rad</tspan></text>
<line x1="841.30" y1="629.20" x2="841.30" y2="921.60" stroke="#999" stroke-width="1.2"/>
<line x1="841.30" y1="641.90" x2="846.30" y2="641.90" stroke="#888" stroke-width="1.2"/>
<text x="847.12" y="648.00" font-family='"Liberation Sans", sans-serif' font-size="17.73" font-weight="normal" fill="#1a1a1a" stroke="#1a1a1a" stroke-width="0.5" textLength="10.84" lengthAdjust="spacingAndGlyphs" xml:space="preserve"> </text>
<polygon transform="translate(847.12,648.00) scale(0.00951,-0.00866)" points="515,0 515,1237 197,1010 197,1180 530,1409 696,1409 696,0" fill="#1a1a1a" stroke="#1a1a1a" stroke-width="57.7"/>
<line x1="841.30" y1="775.80" x2="846.30" y2="775.80" stroke="#888" stroke-width="1.2"/>
<text x="847.91" y="781.73" font-family='"Liberation Sans", sans-serif' font-size="17.23" font-weight="normal" fill="#1a1a1a" stroke="#1a1a1a" stroke-width="0.5" textLength="9.77" lengthAdjust="spacingAndGlyphs" xml:space="preserve">0</text>
<line x1="841.30" y1="910.40" x2="846.30" y2="910.40" stroke="#888" stroke-width="1.2"/>
<text x="847.12" y="916.50" font-family='"Liberation Sans", sans-serif' font-size="17.73" font-weight="normal" fill="#1a1a1a" stroke="#1a1a1a" stroke-width="0.5" textLength="10.84" lengthAdjust="spacingAndGlyphs" xml:space="preserve"> </text>
<polygon transform="translate(847.12,916.50) scale(0.00951,-0.00866)" points="515,0 515,1237 197,1010 197,1180 530,1409 696,1409 696,0" fill="#1a1a1a" stroke="#1a1a1a" stroke-width="57.7"/>
<line x1="841.30" y1="708.50" x2="844.30" y2="708.50" stroke="#999" stroke-width="1.0"/>
<line x1="841.30" y1="843.00" x2="844.30" y2="843.00" stroke="#999" stroke-width="1.0"/>
<text transform="translate(883.4,906.7) rotate(-90)" font-family='"Liberation Sans", sans-serif' font-size="24" font-weight="bold" fill="#111" textLength="263.7" lengthAdjust="spacingAndGlyphs">Normalized precession</text>
<text transform="translate(913.3,876.7) rotate(-90)" font-family='"Liberation Sans", sans-serif' font-size="24" font-weight="bold" fill="#111" textLength="209.4" lengthAdjust="spacingAndGlyphs">amplitude <tspan font-style="italic">I</tspan><tspan font-style="italic" font-size="16" dy="3">1</tspan><tspan dy="-3"> / </tspan><tspan font-style="italic">I</tspan><tspan font-style="italic" font-size="16" dy="3">1 max</tspan></text>
</svg>
</body></html>
